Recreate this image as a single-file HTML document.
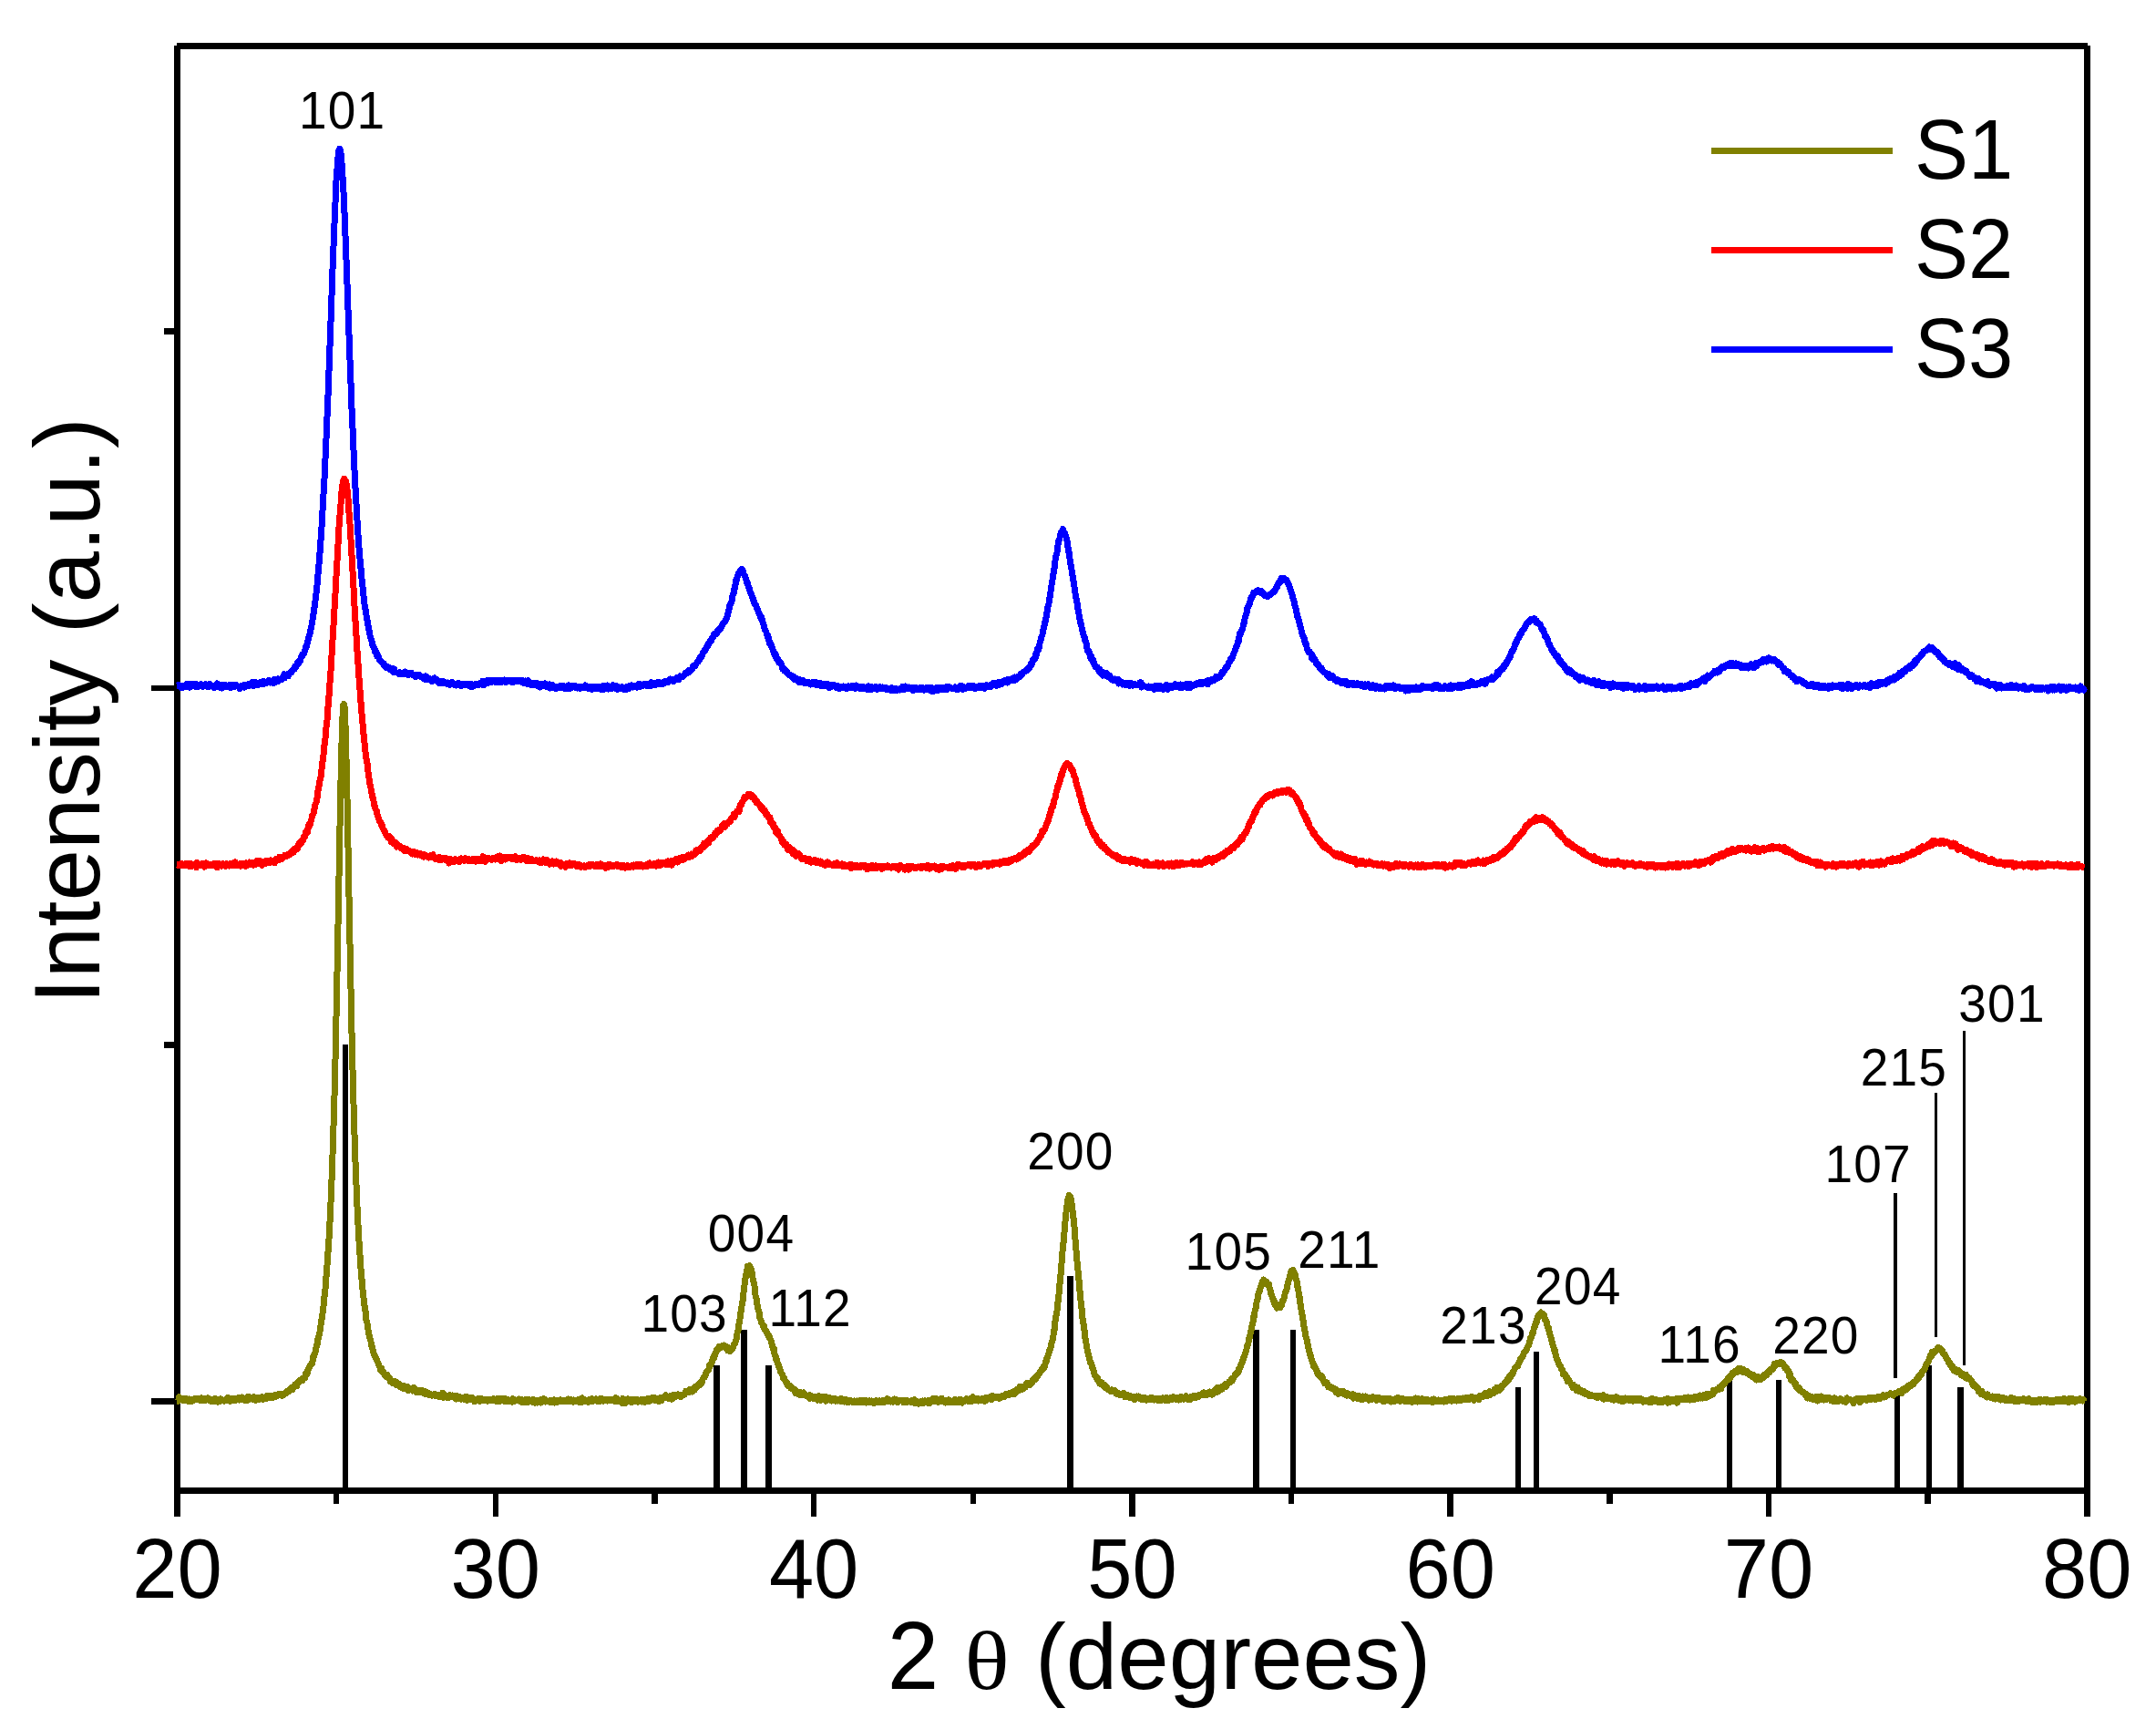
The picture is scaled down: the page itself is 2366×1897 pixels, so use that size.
<!DOCTYPE html>
<html lang="en"><head><meta charset="utf-8"><title>XRD patterns of S1, S2 and S3</title>
<style>html,body{margin:0;padding:0;background:#fff;width:2366px;height:1897px;overflow:hidden}svg{display:block;position:absolute;left:0;top:0}</style></head>
<body>
<svg width="2366" height="1897" viewBox="0 0 2366 1897" role="img" aria-label="XRD patterns of samples S1, S2 and S3 with anatase reference lines">
<rect x="0" y="0" width="2366" height="1897" fill="#ffffff"/>
<g stroke="#000" stroke-width="7" stroke-linecap="butt" shape-rendering="crispEdges">
<line x1="194" y1="50.5" x2="2291" y2="50.5"/>
<line x1="191" y1="1635.5" x2="2294" y2="1635.5"/>
<line x1="194.5" y1="50" x2="194.5" y2="1663.8"/>
<line x1="2290.5" y1="50" x2="2290.5" y2="1663.8"/>
</g>
<g stroke="#000" stroke-width="6.6" stroke-linecap="butt" shape-rendering="crispEdges">
<line x1="369.1" y1="1635.5" x2="369.1" y2="1649.8"/>
<line x1="543.8" y1="1635.5" x2="543.8" y2="1663.8"/>
<line x1="718.5" y1="1635.5" x2="718.5" y2="1649.8"/>
<line x1="893.1" y1="1635.5" x2="893.1" y2="1663.8"/>
<line x1="1067.8" y1="1635.5" x2="1067.8" y2="1649.8"/>
<line x1="1242.4" y1="1635.5" x2="1242.4" y2="1663.8"/>
<line x1="1417.0" y1="1635.5" x2="1417.0" y2="1649.8"/>
<line x1="1591.7" y1="1635.5" x2="1591.7" y2="1663.8"/>
<line x1="1766.3" y1="1635.5" x2="1766.3" y2="1649.8"/>
<line x1="1941.0" y1="1635.5" x2="1941.0" y2="1663.8"/>
<line x1="2115.7" y1="1635.5" x2="2115.7" y2="1649.8"/>
<line x1="166.0" y1="1537.5" x2="194.5" y2="1537.5"/>
<line x1="180.0" y1="1146.2" x2="194.5" y2="1146.2"/>
<line x1="166.0" y1="754.9" x2="194.5" y2="754.9"/>
<line x1="180.0" y1="363.5" x2="194.5" y2="363.5"/>
</g>
<g stroke="#000" stroke-width="6.4" stroke-linecap="butt" shape-rendering="crispEdges">
<line x1="378.9" y1="1635.5" x2="378.9" y2="1145.5"/>
<line x1="786.6" y1="1635.5" x2="786.6" y2="1498.3"/>
<line x1="816.3" y1="1635.5" x2="816.3" y2="1459.1"/>
<line x1="843.5" y1="1635.5" x2="843.5" y2="1498.3"/>
<line x1="1174.3" y1="1635.5" x2="1174.3" y2="1400.3"/>
<line x1="1378.3" y1="1635.5" x2="1378.3" y2="1459.1"/>
<line x1="1419.1" y1="1635.5" x2="1419.1" y2="1459.1"/>
<line x1="1665.8" y1="1635.5" x2="1665.8" y2="1521.8"/>
<line x1="1685.7" y1="1635.5" x2="1685.7" y2="1482.6"/>
<line x1="1897.7" y1="1635.5" x2="1897.7" y2="1514.0"/>
<line x1="1951.8" y1="1635.5" x2="1951.8" y2="1514.0"/>
<line x1="2081.8" y1="1635.5" x2="2081.8" y2="1529.7"/>
<line x1="2116.7" y1="1635.5" x2="2116.7" y2="1498.3"/>
<line x1="2151.3" y1="1635.5" x2="2151.3" y2="1521.8"/>
</g>
<g stroke="#000" stroke-linecap="butt" shape-rendering="crispEdges">
<line x1="2080" y1="1309.2" x2="2080" y2="1511.8" stroke-width="3.8"/>
<line x1="2124.5" y1="1198.5" x2="2124.5" y2="1466.7" stroke-width="3"/>
<line x1="2155.6" y1="1130.5" x2="2155.6" y2="1497.9" stroke-width="3"/>
</g>
<polyline points="194.0,1537.4 195.2,1537.4 195.9,1536.2 196.6,1532.7 197.3,1535.5 198.0,1535.2 198.7,1535.0 199.4,1536.0 200.1,1536.1 200.8,1534.6 201.5,1534.8 202.2,1535.3 202.9,1536.6 203.6,1536.4 204.3,1534.5 205.0,1534.7 205.7,1536.7 206.4,1537.5 207.1,1535.8 207.8,1535.1 208.5,1537.0 209.2,1535.4 209.9,1536.5 210.6,1537.3 211.3,1536.3 212.0,1535.7 212.7,1536.3 213.4,1534.9 214.1,1535.3 214.8,1534.9 215.5,1535.2 216.2,1534.9 216.9,1535.2 217.6,1535.0 218.3,1535.5 219.0,1535.4 219.6,1535.7 220.3,1536.8 221.0,1533.7 221.7,1536.7 222.4,1535.1 223.1,1534.1 223.8,1535.2 224.5,1535.5 225.2,1536.6 225.9,1534.4 226.6,1535.8 227.3,1535.8 228.0,1533.9 228.7,1534.5 229.4,1536.5 230.1,1536.6 230.8,1537.1 231.5,1536.6 232.2,1536.5 232.9,1536.2 233.6,1537.4 234.3,1535.2 235.0,1536.0 235.7,1536.5 236.4,1534.4 237.1,1537.5 237.8,1535.2 238.5,1536.0 239.2,1538.3 239.9,1535.1 240.6,1535.4 241.3,1537.5 242.0,1534.7 242.7,1535.4 243.4,1536.3 244.1,1536.2 244.8,1536.4 245.5,1536.1 246.2,1537.1 246.9,1536.7 247.6,1536.3 248.3,1534.9 249.0,1534.9 249.7,1533.6 250.4,1536.4 251.1,1533.7 251.8,1536.5 252.5,1537.5 253.2,1534.5 253.9,1534.8 254.6,1535.0 255.3,1536.3 256.0,1534.5 256.7,1535.2 257.4,1534.7 258.1,1534.9 258.8,1536.5 259.5,1534.1 260.2,1535.1 260.9,1535.2 261.6,1535.8 262.3,1533.5 263.0,1536.0 263.7,1535.2 264.4,1535.6 265.1,1534.8 265.8,1533.0 266.5,1534.0 267.2,1535.5 267.9,1534.7 268.6,1534.6 269.3,1536.5 269.9,1536.9 270.6,1534.5 271.3,1536.6 272.0,1532.4 272.7,1532.3 273.4,1535.3 274.1,1534.1 274.8,1535.0 275.5,1534.9 276.2,1534.2 276.9,1535.0 277.6,1534.4 278.3,1532.7 279.0,1534.5 279.7,1534.4 280.4,1536.2 281.1,1533.0 281.8,1534.2 282.5,1533.7 283.2,1534.0 283.9,1535.9 284.6,1534.5 285.3,1533.5 286.0,1534.2 286.7,1534.7 287.4,1532.8 288.1,1533.6 288.8,1535.4 289.5,1534.6 290.2,1533.6 290.9,1533.1 291.6,1533.3 292.3,1531.8 293.0,1534.3 293.7,1533.6 294.4,1533.2 295.1,1531.6 295.8,1532.1 296.5,1533.3 297.2,1532.9 297.9,1532.0 298.6,1532.9 299.3,1533.2 300.0,1531.4 300.7,1531.4 301.4,1530.9 302.1,1530.4 302.8,1532.3 303.5,1531.9 304.2,1531.5 304.9,1529.8 305.6,1529.7 306.3,1530.5 307.0,1530.0 307.7,1530.3 308.4,1529.2 309.1,1530.4 309.8,1531.4 310.5,1530.9 311.2,1530.7 311.9,1528.8 312.6,1529.3 313.3,1527.7 314.0,1528.7 314.7,1526.9 315.4,1526.4 316.1,1525.9 316.8,1526.8 317.5,1525.9 318.2,1525.4 318.9,1523.5 319.5,1524.3 320.2,1522.1 320.9,1524.6 321.6,1522.3 322.3,1522.1 323.0,1521.2 323.7,1519.1 324.4,1518.7 325.1,1519.5 325.8,1520.5 326.5,1517.2 327.2,1517.1 327.9,1517.1 328.6,1514.8 329.3,1514.1 330.0,1514.8 330.7,1514.5 331.4,1513.4 332.1,1514.6 332.8,1512.0 333.5,1511.7 334.2,1512.1 334.9,1511.2 335.6,1506.7 336.3,1506.9 337.0,1507.3 337.7,1503.4 338.4,1502.6 339.1,1500.8 339.8,1499.2 340.5,1497.9 341.2,1497.6 341.9,1497.0 342.6,1495.5 343.3,1491.9 344.0,1487.8 344.7,1487.6 345.4,1485.0 346.1,1483.2 346.8,1480.1 347.5,1475.6 348.2,1475.0 348.9,1469.2 349.6,1467.3 350.3,1464.8 351.0,1461.0 351.7,1458.2 352.4,1449.6 353.1,1447.7 353.8,1443.0 354.5,1436.4 355.2,1431.5 355.9,1423.2 356.6,1418.1 357.3,1410.5 358.0,1400.8 358.7,1392.3 359.4,1383.2 360.1,1372.3 360.8,1362.8 361.5,1349.5 362.2,1337.1 362.9,1322.2 363.6,1304.9 364.3,1287.0 365.0,1266.9 365.7,1245.9 366.4,1222.8 367.1,1199.0 367.8,1170.4 368.5,1142.0 369.1,1110.5 369.8,1076.0 370.5,1040.8 371.2,1005.5 371.9,967.8 372.6,927.4 373.3,891.2 374.0,856.5 374.7,826.0 375.4,802.7 376.1,783.4 376.8,773.6 377.5,772.3 378.2,776.9 378.9,792.4 379.6,815.1 380.3,844.6 381.0,876.4 381.7,913.0 382.4,951.0 383.1,988.9 383.8,1025.4 384.5,1060.2 385.2,1093.7 385.9,1128.9 386.6,1158.4 387.3,1185.0 388.0,1211.3 388.7,1235.2 389.4,1255.7 390.1,1277.7 390.8,1295.0 391.5,1312.2 392.2,1328.6 392.9,1341.7 393.6,1355.2 394.3,1366.8 395.0,1377.1 395.7,1386.9 396.4,1397.9 397.1,1404.1 397.8,1413.6 398.5,1418.0 399.2,1426.2 399.9,1431.6 400.6,1436.3 401.3,1439.4 402.0,1448.7 402.7,1450.2 403.4,1454.6 404.1,1459.6 404.8,1463.1 405.5,1466.8 406.2,1469.4 406.9,1471.0 407.6,1476.3 408.3,1477.1 409.0,1480.8 409.7,1483.5 410.4,1486.3 411.1,1486.9 411.8,1488.8 412.5,1490.7 413.2,1490.7 413.9,1493.5 414.6,1494.7 415.3,1496.0 416.0,1498.8 416.7,1499.6 417.4,1502.8 418.1,1503.8 418.8,1501.4 419.4,1504.5 420.1,1504.3 420.8,1506.9 421.5,1507.4 422.2,1509.1 422.9,1509.2 423.6,1510.5 424.3,1510.1 425.0,1508.5 425.7,1510.6 426.4,1511.5 427.1,1512.5 427.8,1512.5 428.5,1515.8 429.2,1514.4 429.9,1516.4 430.6,1515.1 431.3,1517.7 432.0,1515.1 432.7,1517.4 433.4,1515.8 434.1,1518.0 434.8,1519.6 435.5,1516.6 436.2,1517.8 436.9,1519.4 437.6,1519.3 438.3,1518.4 439.0,1521.4 439.7,1520.6 440.4,1522.2 441.1,1521.5 441.8,1520.3 442.5,1521.2 443.2,1523.5 443.9,1520.8 444.6,1522.0 445.3,1523.3 446.0,1523.9 446.7,1523.9 447.4,1521.6 448.1,1525.5 448.8,1523.3 449.5,1523.7 450.2,1523.9 450.9,1523.8 451.6,1523.2 452.3,1524.1 453.0,1526.0 453.7,1523.4 454.4,1522.4 455.1,1525.7 455.8,1525.7 456.5,1526.3 457.2,1527.5 457.9,1525.1 458.6,1526.2 459.3,1526.7 460.0,1527.6 460.7,1527.5 461.4,1525.7 462.1,1525.3 462.8,1526.6 463.5,1525.4 464.2,1528.4 464.9,1526.9 465.6,1527.2 466.3,1526.8 467.0,1529.5 467.7,1528.4 468.4,1527.8 469.0,1529.1 469.7,1528.6 470.4,1529.5 471.1,1530.5 471.8,1529.0 472.5,1530.1 473.2,1530.2 473.9,1531.1 474.6,1530.8 475.3,1530.4 476.0,1529.8 476.7,1531.0 477.4,1529.7 478.1,1531.7 478.8,1531.2 479.5,1531.8 480.2,1530.8 480.9,1530.6 481.6,1530.6 482.3,1532.8 483.0,1531.5 483.7,1531.6 484.4,1530.0 485.1,1531.9 485.8,1528.3 486.5,1533.4 487.2,1531.8 487.9,1532.1 488.6,1530.7 489.3,1531.1 490.0,1533.0 490.7,1532.2 491.4,1532.9 492.1,1533.9 492.8,1533.4 493.5,1530.8 494.2,1531.9 494.9,1531.8 495.6,1532.1 496.3,1531.0 497.0,1531.1 497.7,1532.6 498.4,1532.8 499.1,1534.0 499.8,1533.2 500.5,1535.0 501.2,1531.7 501.9,1532.2 502.6,1533.9 503.3,1533.4 504.0,1532.7 504.7,1534.6 505.4,1535.0 506.1,1535.2 506.8,1533.5 507.5,1534.0 508.2,1534.3 508.9,1534.2 509.6,1535.2 510.3,1533.7 511.0,1534.7 511.7,1532.1 512.4,1535.3 513.1,1536.3 513.8,1534.6 514.5,1535.8 515.2,1533.1 515.9,1534.6 516.6,1533.4 517.3,1535.4 518.0,1535.7 518.7,1533.8 519.3,1534.4 520.0,1534.7 520.7,1537.9 521.4,1535.3 522.1,1535.6 522.8,1535.9 523.5,1535.8 524.2,1535.3 524.9,1534.2 525.6,1534.9 526.3,1537.4 527.0,1536.0 527.7,1535.4 528.4,1534.4 529.1,1535.8 529.8,1536.0 530.5,1535.3 531.2,1536.9 531.9,1535.4 532.6,1535.8 533.3,1536.8 534.0,1536.2 534.7,1537.1 535.4,1535.6 536.1,1535.3 536.8,1536.2 537.5,1535.9 538.2,1536.9 538.9,1536.1 539.6,1535.6 540.3,1536.1 541.0,1536.3 541.7,1534.5 542.4,1535.5 543.1,1535.4 543.8,1537.0 544.5,1535.3 545.2,1537.0 545.9,1534.6 546.6,1536.0 547.3,1537.2 548.0,1535.9 548.7,1537.4 549.4,1534.2 550.1,1536.4 550.8,1536.6 551.5,1536.3 552.2,1534.9 552.9,1537.2 553.6,1534.1 554.3,1537.6 555.0,1536.9 555.7,1537.7 556.4,1536.4 557.1,1535.5 557.8,1536.1 558.5,1536.2 559.2,1537.3 559.9,1536.3 560.6,1537.1 561.3,1537.1 562.0,1538.1 562.7,1534.5 563.4,1536.1 564.1,1537.2 564.8,1537.2 565.5,1535.9 566.2,1536.1 566.9,1536.3 567.6,1536.5 568.3,1535.7 568.9,1535.6 569.6,1535.1 570.3,1535.8 571.0,1537.7 571.7,1535.3 572.4,1537.3 573.1,1538.3 573.8,1536.5 574.5,1538.8 575.2,1536.3 575.9,1538.2 576.6,1536.5 577.3,1535.3 578.0,1537.0 578.7,1538.6 579.4,1536.1 580.1,1537.2 580.8,1535.7 581.5,1535.8 582.2,1537.3 582.9,1536.6 583.6,1537.4 584.3,1538.1 585.0,1535.5 585.7,1536.0 586.4,1536.8 587.1,1539.2 587.8,1536.4 588.5,1536.2 589.2,1537.1 589.9,1538.9 590.6,1536.1 591.3,1536.4 592.0,1536.7 592.7,1537.5 593.4,1539.0 594.1,1535.5 594.8,1535.1 595.5,1537.0 596.2,1537.4 596.9,1534.6 597.6,1536.3 598.3,1538.0 599.0,1536.4 599.7,1537.5 600.4,1537.2 601.1,1537.7 601.8,1537.4 602.5,1537.3 603.2,1538.3 603.9,1536.4 604.6,1537.1 605.3,1538.1 606.0,1536.3 606.7,1536.5 607.4,1536.1 608.1,1535.9 608.8,1539.0 609.5,1537.4 610.2,1538.9 610.9,1537.7 611.6,1537.0 612.3,1536.6 613.0,1537.2 613.7,1536.8 614.4,1537.8 615.1,1536.0 615.8,1537.1 616.5,1537.4 617.2,1536.6 617.9,1536.6 618.6,1537.4 619.2,1537.4 619.9,1536.7 620.6,1536.8 621.3,1536.2 622.0,1537.3 622.7,1536.6 623.4,1535.0 624.1,1536.3 624.8,1537.2 625.5,1536.8 626.2,1535.5 626.9,1537.2 627.6,1537.0 628.3,1537.0 629.0,1538.0 629.7,1536.0 630.4,1537.0 631.1,1536.1 631.8,1537.5 632.5,1537.7 633.2,1537.0 633.9,1537.3 634.6,1535.7 635.3,1537.2 636.0,1535.4 636.7,1538.9 637.4,1537.9 638.1,1535.1 638.8,1533.9 639.5,1538.1 640.2,1535.9 640.9,1537.4 641.6,1535.5 642.3,1536.9 643.0,1536.2 643.7,1537.4 644.4,1536.4 645.1,1538.3 645.8,1535.9 646.5,1538.0 647.2,1536.6 647.9,1537.2 648.6,1534.9 649.3,1534.7 650.0,1537.6 650.7,1535.2 651.4,1536.0 652.1,1536.0 652.8,1535.4 653.5,1536.5 654.2,1534.8 654.9,1535.0 655.6,1537.2 656.3,1535.4 657.0,1537.0 657.7,1536.8 658.4,1537.7 659.1,1536.5 659.8,1534.1 660.5,1535.3 661.2,1535.5 661.9,1537.2 662.6,1536.2 663.3,1535.3 664.0,1536.3 664.7,1535.4 665.4,1536.3 666.1,1535.9 666.8,1536.9 667.5,1536.1 668.2,1536.8 668.8,1535.8 669.5,1536.6 670.2,1535.7 670.9,1536.6 671.6,1536.2 672.3,1535.9 673.0,1535.7 673.7,1535.9 674.4,1536.7 675.1,1533.9 675.8,1537.7 676.5,1534.0 677.2,1536.3 677.9,1536.2 678.6,1537.4 679.3,1536.8 680.0,1536.6 680.7,1536.7 681.4,1537.6 682.1,1539.0 682.8,1537.0 683.5,1534.4 684.2,1536.1 684.9,1536.9 685.6,1539.9 686.3,1535.6 687.0,1536.0 687.7,1537.0 688.4,1536.8 689.1,1535.0 689.8,1537.4 690.5,1535.1 691.2,1536.2 691.9,1537.9 692.6,1535.2 693.3,1536.2 694.0,1538.4 694.7,1536.4 695.4,1535.6 696.1,1536.1 696.8,1537.6 697.5,1535.1 698.2,1536.1 698.9,1535.2 699.6,1535.6 700.3,1538.1 701.0,1536.7 701.7,1536.3 702.4,1537.3 703.1,1536.1 703.8,1535.6 704.5,1538.0 705.2,1537.7 705.9,1535.9 706.6,1537.5 707.3,1538.3 708.0,1537.2 708.7,1537.1 709.4,1535.2 710.1,1536.2 710.8,1534.3 711.5,1537.3 712.2,1535.8 712.9,1537.2 713.6,1534.9 714.3,1536.5 715.0,1533.8 715.7,1534.9 716.4,1535.8 717.1,1535.5 717.8,1535.0 718.4,1533.3 719.1,1536.4 719.8,1535.6 720.5,1536.1 721.2,1536.1 721.9,1534.5 722.6,1535.2 723.3,1537.6 724.0,1533.9 724.7,1535.1 725.4,1534.0 726.1,1536.4 726.8,1534.6 727.5,1533.2 728.2,1533.6 728.9,1532.6 729.6,1531.5 730.3,1530.9 731.0,1532.9 731.7,1532.3 732.4,1533.6 733.1,1532.4 733.8,1533.4 734.5,1534.9 735.2,1531.7 735.9,1531.5 736.6,1533.7 737.3,1535.1 738.0,1531.6 738.7,1530.6 739.4,1532.0 740.1,1531.8 740.8,1532.9 741.5,1530.9 742.2,1531.6 742.9,1531.5 743.6,1530.0 744.3,1529.9 745.0,1531.9 745.7,1531.8 746.4,1530.2 747.1,1532.4 747.8,1531.5 748.5,1530.8 749.2,1530.7 749.9,1530.1 750.6,1530.2 751.3,1530.0 752.0,1528.8 752.7,1526.2 753.4,1527.9 754.1,1526.8 754.8,1526.1 755.5,1527.6 756.2,1524.7 756.9,1527.1 757.6,1525.2 758.3,1524.1 759.0,1524.1 759.7,1527.1 760.4,1525.7 761.1,1523.3 761.8,1524.3 762.5,1524.5 763.2,1521.1 763.9,1521.1 764.6,1521.8 765.3,1520.6 766.0,1519.1 766.7,1520.5 767.4,1518.5 768.1,1518.0 768.7,1518.9 769.4,1516.0 770.1,1517.4 770.8,1513.9 771.5,1512.4 772.2,1511.7 772.9,1511.4 773.6,1510.1 774.3,1508.6 775.0,1505.4 775.7,1504.6 776.4,1504.2 777.1,1503.9 777.8,1503.3 778.5,1497.7 779.2,1498.6 779.9,1496.8 780.6,1495.6 781.3,1494.3 782.0,1491.6 782.7,1489.4 783.4,1490.3 784.1,1488.4 784.8,1485.6 785.5,1484.4 786.2,1482.4 786.9,1480.3 787.6,1481.3 788.3,1478.8 789.0,1477.5 789.7,1477.3 790.4,1479.1 791.1,1477.4 791.8,1477.0 792.5,1476.8 793.2,1477.8 793.9,1477.9 794.6,1476.0 795.3,1477.6 796.0,1477.7 796.7,1479.2 797.4,1479.5 798.1,1477.9 798.8,1481.8 799.5,1481.2 800.2,1479.3 800.9,1482.5 801.6,1481.4 802.3,1481.5 803.0,1480.5 803.7,1479.9 804.4,1478.2 805.1,1475.7 805.8,1475.3 806.5,1474.2 807.2,1471.9 807.9,1470.0 808.6,1466.3 809.3,1460.7 810.0,1460.3 810.7,1454.8 811.4,1450.0 812.1,1446.6 812.8,1440.7 813.5,1437.5 814.2,1431.0 814.9,1428.8 815.6,1421.1 816.3,1415.5 817.0,1410.3 817.7,1403.8 818.3,1400.8 819.0,1396.9 819.7,1394.0 820.4,1389.4 821.1,1390.1 821.8,1390.5 822.5,1388.7 823.2,1390.0 823.9,1392.2 824.6,1393.3 825.3,1396.8 826.0,1401.9 826.7,1405.0 827.4,1407.7 828.1,1411.5 828.8,1420.3 829.5,1422.7 830.2,1424.7 830.9,1430.7 831.6,1435.1 832.3,1438.0 833.0,1439.1 833.7,1446.0 834.4,1447.3 835.1,1448.7 835.8,1451.7 836.5,1452.4 837.2,1453.8 837.9,1456.4 838.6,1454.5 839.3,1458.7 840.0,1459.1 840.7,1460.5 841.4,1461.7 842.1,1463.6 842.8,1464.8 843.5,1465.7 844.2,1465.9 844.9,1468.9 845.6,1469.6 846.3,1471.1 847.0,1474.8 847.7,1477.0 848.4,1480.2 849.1,1479.0 849.8,1484.4 850.5,1486.8 851.2,1488.6 851.9,1492.4 852.6,1492.1 853.3,1495.6 854.0,1496.9 854.7,1499.3 855.4,1500.2 856.1,1502.9 856.8,1505.5 857.5,1506.5 858.2,1508.3 858.9,1508.5 859.6,1512.4 860.3,1511.3 861.0,1513.2 861.7,1515.0 862.4,1515.3 863.1,1517.3 863.8,1517.7 864.5,1520.2 865.2,1519.9 865.9,1520.5 866.6,1520.0 867.3,1522.1 868.0,1523.4 868.6,1523.5 869.3,1522.7 870.0,1523.7 870.7,1524.6 871.4,1525.3 872.1,1524.3 872.8,1528.2 873.5,1526.5 874.2,1527.1 874.9,1526.9 875.6,1527.6 876.3,1530.0 877.0,1527.3 877.7,1528.0 878.4,1527.7 879.1,1528.4 879.8,1530.8 880.5,1528.8 881.2,1529.2 881.9,1528.0 882.6,1529.8 883.3,1530.6 884.0,1530.1 884.7,1530.5 885.4,1532.0 886.1,1532.0 886.8,1531.6 887.5,1531.1 888.2,1530.6 888.9,1534.2 889.6,1531.0 890.3,1533.5 891.0,1532.8 891.7,1532.3 892.4,1534.2 893.1,1532.6 893.8,1534.8 894.5,1532.5 895.2,1534.2 895.9,1535.1 896.6,1532.8 897.3,1536.1 898.0,1534.9 898.7,1531.7 899.4,1535.6 900.1,1536.2 900.8,1533.9 901.5,1534.1 902.2,1534.7 902.9,1532.4 903.6,1534.6 904.3,1535.5 905.0,1534.0 905.7,1535.9 906.4,1537.1 907.1,1532.8 907.8,1533.0 908.5,1534.2 909.2,1535.7 909.9,1535.5 910.6,1534.1 911.3,1533.9 912.0,1534.4 912.7,1537.0 913.4,1534.3 914.1,1534.7 914.8,1536.4 915.5,1535.2 916.2,1534.5 916.9,1537.1 917.6,1536.1 918.2,1535.1 918.9,1535.5 919.6,1537.0 920.3,1535.7 921.0,1536.5 921.7,1537.2 922.4,1537.4 923.1,1534.5 923.8,1536.0 924.5,1536.2 925.2,1536.7 925.9,1537.5 926.6,1537.9 927.3,1536.2 928.0,1535.6 928.7,1537.0 929.4,1536.2 930.1,1538.7 930.8,1537.3 931.5,1537.0 932.2,1538.0 932.9,1536.3 933.6,1536.7 934.3,1536.9 935.0,1537.8 935.7,1538.6 936.4,1538.1 937.1,1538.1 937.8,1537.1 938.5,1537.8 939.2,1537.2 939.9,1538.7 940.6,1536.9 941.3,1537.5 942.0,1537.8 942.7,1538.4 943.4,1536.8 944.1,1537.4 944.8,1536.8 945.5,1536.2 946.2,1538.8 946.9,1538.1 947.6,1536.1 948.3,1536.6 949.0,1538.2 949.7,1537.0 950.4,1536.5 951.1,1539.0 951.8,1537.1 952.5,1537.3 953.2,1538.3 953.9,1537.0 954.6,1537.8 955.3,1537.9 956.0,1538.6 956.7,1537.0 957.4,1539.0 958.1,1538.2 958.8,1539.8 959.5,1538.1 960.2,1537.3 960.9,1537.3 961.6,1536.7 962.3,1537.8 963.0,1537.7 963.7,1538.7 964.4,1537.8 965.1,1536.8 965.8,1538.7 966.5,1537.1 967.2,1537.7 967.9,1538.9 968.5,1538.6 969.2,1536.4 969.9,1537.0 970.6,1538.5 971.3,1538.0 972.0,1537.5 972.7,1537.8 973.4,1534.6 974.1,1536.5 974.8,1535.3 975.5,1536.1 976.2,1536.4 976.9,1537.3 977.6,1538.0 978.3,1537.6 979.0,1537.1 979.7,1536.5 980.4,1538.2 981.1,1537.2 981.8,1535.0 982.5,1536.9 983.2,1537.5 983.9,1536.0 984.6,1537.3 985.3,1538.7 986.0,1536.9 986.7,1537.2 987.4,1537.2 988.1,1536.3 988.8,1536.9 989.5,1536.3 990.2,1537.1 990.9,1536.6 991.6,1538.5 992.3,1537.4 993.0,1538.4 993.7,1536.2 994.4,1537.6 995.1,1538.3 995.8,1538.4 996.5,1537.1 997.2,1537.7 997.9,1538.0 998.6,1537.6 999.3,1537.6 1000.0,1538.6 1000.7,1536.9 1001.4,1536.2 1002.1,1537.7 1002.8,1538.5 1003.5,1535.8 1004.2,1539.7 1004.9,1538.3 1005.6,1538.8 1006.3,1537.3 1007.0,1538.1 1007.7,1540.1 1008.4,1540.1 1009.1,1538.7 1009.8,1537.8 1010.5,1537.9 1011.2,1539.4 1011.9,1537.3 1012.6,1537.0 1013.3,1537.9 1014.0,1539.0 1014.7,1536.9 1015.4,1538.4 1016.1,1538.4 1016.8,1538.1 1017.5,1537.8 1018.1,1538.9 1018.8,1538.5 1019.5,1536.3 1020.2,1539.5 1020.9,1538.2 1021.6,1537.9 1022.3,1537.2 1023.0,1537.1 1023.7,1534.7 1024.4,1537.0 1025.1,1537.8 1025.8,1537.8 1026.5,1536.4 1027.2,1534.5 1027.9,1535.8 1028.6,1536.6 1029.3,1538.3 1030.0,1535.2 1030.7,1537.0 1031.4,1537.6 1032.1,1537.7 1032.8,1537.0 1033.5,1534.2 1034.2,1537.8 1034.9,1537.4 1035.6,1537.9 1036.3,1536.4 1037.0,1536.9 1037.7,1539.0 1038.4,1537.3 1039.1,1537.4 1039.8,1536.7 1040.5,1538.8 1041.2,1535.7 1041.9,1536.8 1042.6,1537.8 1043.3,1537.3 1044.0,1538.2 1044.7,1537.8 1045.4,1538.8 1046.1,1537.1 1046.8,1537.2 1047.5,1537.6 1048.2,1535.5 1048.9,1538.9 1049.6,1536.5 1050.3,1538.7 1051.0,1539.0 1051.7,1538.6 1052.4,1537.7 1053.1,1536.8 1053.8,1535.2 1054.5,1538.0 1055.2,1537.1 1055.9,1539.1 1056.6,1536.9 1057.3,1537.8 1058.0,1536.6 1058.7,1537.4 1059.4,1536.4 1060.1,1536.5 1060.8,1534.6 1061.5,1535.8 1062.2,1536.3 1062.9,1537.7 1063.6,1536.6 1064.3,1534.9 1065.0,1537.9 1065.7,1536.5 1066.4,1537.3 1067.1,1535.1 1067.7,1532.5 1068.4,1535.2 1069.1,1534.9 1069.8,1536.2 1070.5,1534.2 1071.2,1534.9 1071.9,1534.3 1072.6,1535.8 1073.3,1534.6 1074.0,1537.0 1074.7,1536.3 1075.4,1536.3 1076.1,1535.1 1076.8,1535.5 1077.5,1536.1 1078.2,1534.2 1078.9,1536.4 1079.6,1534.9 1080.3,1536.2 1081.0,1537.2 1081.7,1536.4 1082.4,1533.5 1083.1,1535.9 1083.8,1534.2 1084.5,1534.0 1085.2,1534.2 1085.9,1533.1 1086.6,1534.6 1087.3,1533.5 1088.0,1535.4 1088.7,1534.5 1089.4,1531.3 1090.1,1533.0 1090.8,1532.9 1091.5,1533.1 1092.2,1533.1 1092.9,1533.9 1093.6,1533.4 1094.3,1532.3 1095.0,1533.7 1095.7,1534.1 1096.4,1533.0 1097.1,1534.1 1097.8,1533.1 1098.5,1531.9 1099.2,1531.9 1099.9,1532.1 1100.6,1532.5 1101.3,1531.9 1102.0,1532.5 1102.7,1532.4 1103.4,1529.9 1104.1,1529.5 1104.8,1530.4 1105.5,1530.7 1106.2,1530.9 1106.9,1530.4 1107.6,1530.1 1108.3,1528.2 1109.0,1529.4 1109.7,1528.0 1110.4,1528.9 1111.1,1529.1 1111.8,1527.2 1112.5,1527.3 1113.2,1529.9 1113.9,1526.1 1114.6,1526.1 1115.3,1525.1 1116.0,1524.4 1116.7,1526.6 1117.4,1524.5 1118.0,1524.2 1118.7,1523.6 1119.4,1521.1 1120.1,1524.5 1120.8,1522.7 1121.5,1522.9 1122.2,1524.0 1122.9,1522.0 1123.6,1521.9 1124.3,1521.5 1125.0,1522.3 1125.7,1519.0 1126.4,1519.4 1127.1,1517.3 1127.8,1519.1 1128.5,1519.3 1129.2,1517.6 1129.9,1519.7 1130.6,1518.1 1131.3,1518.6 1132.0,1516.1 1132.7,1517.2 1133.4,1514.2 1134.1,1514.5 1134.8,1513.5 1135.5,1512.3 1136.2,1513.8 1136.9,1512.6 1137.6,1509.7 1138.3,1510.4 1139.0,1508.9 1139.7,1508.1 1140.4,1507.6 1141.1,1505.5 1141.8,1505.2 1142.5,1504.3 1143.2,1502.3 1143.9,1501.3 1144.6,1501.5 1145.3,1499.4 1146.0,1500.6 1146.7,1498.9 1147.4,1494.4 1148.1,1493.9 1148.8,1489.7 1149.5,1489.3 1150.2,1487.1 1150.9,1485.1 1151.6,1481.3 1152.3,1481.3 1153.0,1478.5 1153.7,1474.5 1154.4,1472.1 1155.1,1469.8 1155.8,1466.8 1156.5,1459.7 1157.2,1458.5 1157.9,1450.4 1158.6,1446.5 1159.3,1441.7 1160.0,1438.2 1160.7,1431.2 1161.4,1424.9 1162.1,1419.3 1162.8,1410.9 1163.5,1402.8 1164.2,1397.3 1164.9,1387.6 1165.6,1378.4 1166.3,1369.7 1167.0,1363.5 1167.6,1357.2 1168.3,1348.1 1169.0,1339.8 1169.7,1334.1 1170.4,1324.9 1171.1,1321.6 1171.8,1316.3 1172.5,1315.3 1173.2,1311.2 1173.9,1312.7 1174.6,1313.2 1175.3,1315.5 1176.0,1320.0 1176.7,1324.2 1177.4,1331.9 1178.1,1337.0 1178.8,1342.4 1179.5,1354.2 1180.2,1362.4 1180.9,1370.0 1181.6,1379.4 1182.3,1387.1 1183.0,1393.7 1183.7,1400.5 1184.4,1409.3 1185.1,1417.6 1185.8,1425.5 1186.5,1430.3 1187.2,1437.3 1187.9,1445.9 1188.6,1449.3 1189.3,1454.6 1190.0,1459.4 1190.7,1466.9 1191.4,1470.4 1192.1,1474.6 1192.8,1479.2 1193.5,1482.0 1194.2,1485.7 1194.9,1487.8 1195.6,1491.1 1196.3,1493.5 1197.0,1496.0 1197.7,1496.3 1198.4,1499.5 1199.1,1501.3 1199.8,1502.8 1200.5,1505.2 1201.2,1508.7 1201.9,1509.3 1202.6,1509.8 1203.3,1511.3 1204.0,1513.6 1204.7,1512.0 1205.4,1514.7 1206.1,1517.0 1206.8,1518.1 1207.5,1518.0 1208.2,1518.4 1208.9,1516.7 1209.6,1518.5 1210.3,1519.9 1211.0,1521.0 1211.7,1521.6 1212.4,1519.3 1213.1,1521.6 1213.8,1523.0 1214.5,1522.3 1215.2,1523.3 1215.9,1524.5 1216.6,1524.7 1217.3,1524.9 1217.9,1525.8 1218.6,1526.6 1219.3,1525.4 1220.0,1524.8 1220.7,1525.5 1221.4,1526.0 1222.1,1526.7 1222.8,1525.4 1223.5,1526.5 1224.2,1527.2 1224.9,1529.2 1225.6,1528.6 1226.3,1528.1 1227.0,1529.4 1227.7,1528.9 1228.4,1529.2 1229.1,1530.4 1229.8,1529.8 1230.5,1529.8 1231.2,1530.7 1231.9,1529.6 1232.6,1530.4 1233.3,1528.3 1234.0,1530.3 1234.7,1532.6 1235.4,1530.8 1236.1,1531.4 1236.8,1531.1 1237.5,1530.6 1238.2,1532.4 1238.9,1532.0 1239.6,1533.4 1240.3,1531.4 1241.0,1532.5 1241.7,1532.2 1242.4,1532.1 1243.1,1533.9 1243.8,1532.1 1244.5,1532.2 1245.2,1535.6 1245.9,1532.9 1246.6,1532.8 1247.3,1533.6 1248.0,1532.1 1248.7,1533.6 1249.4,1532.0 1250.1,1532.8 1250.8,1532.8 1251.5,1534.9 1252.2,1534.2 1252.9,1535.6 1253.6,1535.5 1254.3,1533.2 1255.0,1534.6 1255.7,1533.7 1256.4,1533.6 1257.1,1535.6 1257.8,1536.0 1258.5,1534.7 1259.2,1535.0 1259.9,1535.0 1260.6,1535.1 1261.3,1535.2 1262.0,1533.9 1262.7,1535.6 1263.4,1534.3 1264.1,1533.8 1264.8,1534.9 1265.5,1535.4 1266.2,1536.0 1266.9,1535.5 1267.5,1535.4 1268.2,1534.4 1268.9,1535.6 1269.6,1535.4 1270.3,1535.4 1271.0,1534.3 1271.7,1536.9 1272.4,1535.9 1273.1,1535.8 1273.8,1535.2 1274.5,1534.8 1275.2,1536.1 1275.9,1533.8 1276.6,1534.7 1277.3,1534.9 1278.0,1535.8 1278.7,1534.9 1279.4,1536.7 1280.1,1533.3 1280.8,1536.8 1281.5,1535.5 1282.2,1536.1 1282.9,1534.5 1283.6,1536.1 1284.3,1534.6 1285.0,1535.1 1285.7,1533.2 1286.4,1535.2 1287.1,1534.7 1287.8,1532.5 1288.5,1534.3 1289.2,1534.0 1289.9,1535.1 1290.6,1533.5 1291.3,1534.3 1292.0,1535.5 1292.7,1533.1 1293.4,1536.0 1294.1,1534.3 1294.8,1533.8 1295.5,1532.6 1296.2,1532.2 1296.9,1535.0 1297.6,1533.6 1298.3,1533.4 1299.0,1535.1 1299.7,1534.7 1300.4,1534.1 1301.1,1532.4 1301.8,1531.8 1302.5,1534.8 1303.2,1533.7 1303.9,1533.4 1304.6,1535.6 1305.3,1533.0 1306.0,1533.7 1306.7,1535.4 1307.4,1533.7 1308.1,1532.3 1308.8,1531.8 1309.5,1533.8 1310.2,1531.1 1310.9,1533.1 1311.6,1533.8 1312.3,1531.8 1313.0,1532.6 1313.7,1531.6 1314.4,1532.8 1315.1,1531.5 1315.8,1530.3 1316.5,1531.2 1317.2,1530.8 1317.8,1529.9 1318.5,1530.1 1319.2,1528.9 1319.9,1529.2 1320.6,1530.6 1321.3,1527.9 1322.0,1530.0 1322.7,1529.6 1323.4,1528.8 1324.1,1530.8 1324.8,1529.9 1325.5,1528.5 1326.2,1529.2 1326.9,1529.8 1327.6,1527.0 1328.3,1528.7 1329.0,1528.0 1329.7,1528.5 1330.4,1530.1 1331.1,1527.0 1331.8,1527.0 1332.5,1525.9 1333.2,1527.1 1333.9,1527.2 1334.6,1523.6 1335.3,1527.5 1336.0,1527.2 1336.7,1522.4 1337.4,1523.2 1338.1,1525.0 1338.8,1524.2 1339.5,1524.9 1340.2,1523.0 1340.9,1524.3 1341.6,1521.0 1342.3,1522.5 1343.0,1521.1 1343.7,1520.6 1344.4,1518.8 1345.1,1519.7 1345.8,1521.1 1346.5,1518.4 1347.2,1518.3 1347.9,1518.1 1348.6,1516.3 1349.3,1517.0 1350.0,1516.6 1350.7,1515.1 1351.4,1512.6 1352.1,1515.4 1352.8,1513.1 1353.5,1512.2 1354.2,1511.1 1354.9,1509.7 1355.6,1507.6 1356.3,1508.3 1357.0,1507.4 1357.7,1507.1 1358.4,1506.5 1359.1,1502.8 1359.8,1503.9 1360.5,1500.8 1361.2,1499.9 1361.9,1496.6 1362.6,1496.4 1363.3,1493.3 1364.0,1493.2 1364.7,1489.2 1365.4,1488.6 1366.1,1486.0 1366.8,1484.6 1367.4,1482.2 1368.1,1479.7 1368.8,1476.5 1369.5,1475.3 1370.2,1472.2 1370.9,1468.0 1371.6,1466.7 1372.3,1462.1 1373.0,1459.8 1373.7,1456.3 1374.4,1453.0 1375.1,1450.5 1375.8,1444.3 1376.5,1444.0 1377.2,1437.2 1377.9,1436.9 1378.6,1432.6 1379.3,1427.0 1380.0,1425.5 1380.7,1421.6 1381.4,1417.5 1382.1,1417.2 1382.8,1414.5 1383.5,1411.4 1384.2,1410.8 1384.9,1407.5 1385.6,1405.8 1386.3,1406.6 1387.0,1404.0 1387.7,1405.5 1388.4,1406.1 1389.1,1405.8 1389.8,1406.7 1390.5,1408.3 1391.2,1409.6 1391.9,1410.2 1392.6,1409.0 1393.3,1414.2 1394.0,1415.2 1394.7,1419.8 1395.4,1420.3 1396.1,1422.9 1396.8,1425.3 1397.5,1427.4 1398.2,1426.9 1398.9,1431.6 1399.6,1431.5 1400.3,1432.2 1401.0,1431.4 1401.7,1435.1 1402.4,1434.0 1403.1,1434.6 1403.8,1432.9 1404.5,1434.8 1405.2,1433.7 1405.9,1431.1 1406.6,1432.1 1407.3,1427.4 1408.0,1427.7 1408.7,1425.6 1409.4,1423.5 1410.1,1419.6 1410.8,1417.5 1411.5,1416.3 1412.2,1413.7 1412.9,1409.8 1413.6,1406.9 1414.3,1404.0 1415.0,1403.6 1415.7,1399.8 1416.4,1397.6 1417.0,1394.7 1417.7,1393.9 1418.4,1394.2 1419.1,1393.4 1419.8,1395.8 1420.5,1397.3 1421.2,1398.4 1421.9,1401.5 1422.6,1404.8 1423.3,1406.4 1424.0,1412.7 1424.7,1413.1 1425.4,1422.3 1426.1,1423.1 1426.8,1429.1 1427.5,1433.2 1428.2,1438.4 1428.9,1441.6 1429.6,1447.3 1430.3,1449.3 1431.0,1455.8 1431.7,1458.6 1432.4,1463.0 1433.1,1467.3 1433.8,1468.3 1434.5,1472.2 1435.2,1475.1 1435.9,1478.7 1436.6,1481.8 1437.3,1485.0 1438.0,1486.9 1438.7,1488.8 1439.4,1491.8 1440.1,1494.3 1440.8,1496.2 1441.5,1499.2 1442.2,1498.0 1442.9,1500.5 1443.6,1500.3 1444.3,1502.3 1445.0,1505.0 1445.7,1506.9 1446.4,1506.1 1447.1,1508.2 1447.8,1508.8 1448.5,1510.2 1449.2,1510.8 1449.9,1510.9 1450.6,1509.8 1451.3,1511.5 1452.0,1514.3 1452.7,1514.6 1453.4,1517.6 1454.1,1516.3 1454.8,1517.9 1455.5,1516.5 1456.2,1517.0 1456.9,1519.4 1457.6,1521.6 1458.3,1521.0 1459.0,1520.8 1459.7,1522.2 1460.4,1523.0 1461.1,1523.3 1461.8,1523.4 1462.5,1522.7 1463.2,1523.0 1463.9,1524.1 1464.6,1524.8 1465.3,1523.9 1466.0,1527.3 1466.7,1526.5 1467.3,1525.6 1468.0,1527.2 1468.7,1529.2 1469.4,1527.2 1470.1,1527.4 1470.8,1528.4 1471.5,1526.2 1472.2,1527.2 1472.9,1527.2 1473.6,1529.1 1474.3,1526.7 1475.0,1529.1 1475.7,1528.4 1476.4,1528.9 1477.1,1528.8 1477.8,1531.2 1478.5,1528.9 1479.2,1528.8 1479.9,1530.7 1480.6,1530.0 1481.3,1531.3 1482.0,1531.0 1482.7,1531.3 1483.4,1531.6 1484.1,1529.9 1484.8,1529.8 1485.5,1534.2 1486.2,1531.0 1486.9,1533.0 1487.6,1531.4 1488.3,1532.6 1489.0,1532.5 1489.7,1534.4 1490.4,1532.8 1491.1,1531.4 1491.8,1531.6 1492.5,1533.5 1493.2,1534.2 1493.9,1535.5 1494.6,1535.7 1495.3,1532.0 1496.0,1533.5 1496.7,1532.4 1497.4,1534.1 1498.1,1534.7 1498.8,1532.0 1499.5,1534.9 1500.2,1534.9 1500.9,1533.9 1501.6,1533.6 1502.3,1536.1 1503.0,1534.2 1503.7,1533.3 1504.4,1534.6 1505.1,1535.7 1505.8,1535.4 1506.5,1532.7 1507.2,1533.4 1507.9,1534.5 1508.6,1535.2 1509.3,1535.3 1510.0,1533.9 1510.7,1536.2 1511.4,1535.8 1512.1,1533.7 1512.8,1534.4 1513.5,1535.4 1514.2,1533.9 1514.9,1535.6 1515.6,1535.7 1516.3,1535.1 1516.9,1536.2 1517.6,1537.4 1518.3,1534.8 1519.0,1536.0 1519.7,1535.0 1520.4,1537.1 1521.1,1536.8 1521.8,1535.5 1522.5,1534.9 1523.2,1536.4 1523.9,1535.5 1524.6,1534.4 1525.3,1534.6 1526.0,1535.5 1526.7,1538.0 1527.4,1536.9 1528.1,1537.3 1528.8,1536.9 1529.5,1537.4 1530.2,1537.5 1530.9,1534.8 1531.6,1536.7 1532.3,1536.7 1533.0,1536.6 1533.7,1536.6 1534.4,1533.5 1535.1,1536.4 1535.8,1534.8 1536.5,1537.3 1537.2,1535.7 1537.9,1536.0 1538.6,1536.3 1539.3,1534.2 1540.0,1536.2 1540.7,1535.1 1541.4,1537.4 1542.1,1535.9 1542.8,1535.3 1543.5,1537.8 1544.2,1536.2 1544.9,1535.5 1545.6,1536.4 1546.3,1536.4 1547.0,1536.8 1547.7,1535.5 1548.4,1537.7 1549.1,1536.9 1549.8,1538.3 1550.5,1537.2 1551.2,1535.6 1551.9,1537.7 1552.6,1536.3 1553.3,1536.7 1554.0,1534.0 1554.7,1535.3 1555.4,1538.0 1556.1,1537.7 1556.8,1534.7 1557.5,1536.9 1558.2,1536.9 1558.9,1537.8 1559.6,1535.3 1560.3,1534.7 1561.0,1536.8 1561.7,1535.8 1562.4,1535.9 1563.1,1535.6 1563.8,1537.8 1564.5,1535.6 1565.2,1537.6 1565.9,1537.2 1566.6,1535.9 1567.2,1537.7 1567.9,1538.0 1568.6,1537.1 1569.3,1536.5 1570.0,1537.5 1570.7,1536.0 1571.4,1537.3 1572.1,1538.5 1572.8,1535.5 1573.5,1535.0 1574.2,1537.7 1574.9,1536.1 1575.6,1536.5 1576.3,1537.2 1577.0,1536.4 1577.7,1537.2 1578.4,1536.0 1579.1,1536.5 1579.8,1536.9 1580.5,1537.6 1581.2,1536.5 1581.9,1537.2 1582.6,1537.5 1583.3,1537.3 1584.0,1536.5 1584.7,1537.9 1585.4,1535.7 1586.1,1537.5 1586.8,1537.3 1587.5,1537.1 1588.2,1535.6 1588.9,1537.0 1589.6,1536.4 1590.3,1534.7 1591.0,1535.5 1591.7,1534.4 1592.4,1536.1 1593.1,1537.1 1593.8,1536.6 1594.5,1534.6 1595.2,1534.6 1595.9,1535.5 1596.6,1535.5 1597.3,1536.5 1598.0,1535.4 1598.7,1536.9 1599.4,1535.2 1600.1,1536.8 1600.8,1534.2 1601.5,1535.1 1602.2,1535.8 1602.9,1536.5 1603.6,1536.2 1604.3,1534.7 1605.0,1534.1 1605.7,1535.4 1606.4,1535.3 1607.1,1534.8 1607.8,1535.1 1608.5,1533.6 1609.2,1535.4 1609.9,1535.8 1610.6,1533.7 1611.3,1533.7 1612.0,1535.7 1612.7,1535.5 1613.4,1533.5 1614.1,1533.5 1614.8,1532.3 1615.5,1534.6 1616.2,1534.3 1616.8,1534.1 1617.5,1536.4 1618.2,1533.7 1618.9,1533.7 1619.6,1534.0 1620.3,1533.5 1621.0,1534.7 1621.7,1533.2 1622.4,1533.3 1623.1,1535.4 1623.8,1532.2 1624.5,1531.3 1625.2,1532.5 1625.9,1531.5 1626.6,1531.2 1627.3,1531.8 1628.0,1532.2 1628.7,1529.5 1629.4,1530.6 1630.1,1528.4 1630.8,1531.3 1631.5,1529.0 1632.2,1530.5 1632.9,1531.4 1633.6,1530.6 1634.3,1529.4 1635.0,1526.6 1635.7,1530.4 1636.4,1527.6 1637.1,1528.6 1637.8,1526.9 1638.5,1526.9 1639.2,1528.5 1639.9,1524.7 1640.6,1524.8 1641.3,1525.4 1642.0,1526.4 1642.7,1522.2 1643.4,1525.7 1644.1,1523.5 1644.8,1524.2 1645.5,1525.7 1646.2,1523.0 1646.9,1523.0 1647.6,1522.8 1648.3,1520.4 1649.0,1520.3 1649.7,1519.3 1650.4,1519.0 1651.1,1517.8 1651.8,1516.8 1652.5,1516.0 1653.2,1516.6 1653.9,1513.6 1654.6,1514.3 1655.3,1514.7 1656.0,1510.9 1656.7,1509.6 1657.4,1511.1 1658.1,1508.6 1658.8,1507.6 1659.5,1507.9 1660.2,1506.5 1660.9,1504.3 1661.6,1503.5 1662.3,1501.1 1663.0,1500.9 1663.7,1500.2 1664.4,1499.7 1665.1,1498.5 1665.8,1498.5 1666.5,1495.4 1667.1,1495.3 1667.8,1493.4 1668.5,1490.9 1669.2,1491.0 1669.9,1489.9 1670.6,1489.0 1671.3,1487.6 1672.0,1486.0 1672.7,1483.7 1673.4,1483.0 1674.1,1482.3 1674.8,1481.3 1675.5,1480.0 1676.2,1478.0 1676.9,1476.7 1677.6,1475.9 1678.3,1472.9 1679.0,1470.3 1679.7,1467.4 1680.4,1467.0 1681.1,1465.6 1681.8,1462.5 1682.5,1462.3 1683.2,1457.7 1683.9,1456.1 1684.6,1454.4 1685.3,1451.0 1686.0,1451.4 1686.7,1447.7 1687.4,1445.6 1688.1,1443.4 1688.8,1444.9 1689.5,1444.2 1690.2,1441.0 1690.9,1440.0 1691.6,1440.8 1692.3,1441.4 1693.0,1441.2 1693.7,1443.0 1694.4,1442.4 1695.1,1447.1 1695.8,1446.9 1696.5,1449.4 1697.2,1450.0 1697.9,1453.7 1698.6,1456.8 1699.3,1456.8 1700.0,1460.3 1700.7,1463.8 1701.4,1465.9 1702.1,1467.3 1702.8,1470.3 1703.5,1474.1 1704.2,1476.4 1704.9,1477.9 1705.6,1481.4 1706.3,1481.0 1707.0,1485.8 1707.7,1488.9 1708.4,1491.0 1709.1,1491.6 1709.8,1494.3 1710.5,1496.1 1711.2,1497.5 1711.9,1498.4 1712.6,1499.4 1713.3,1501.8 1714.0,1502.5 1714.7,1502.9 1715.4,1507.7 1716.1,1506.1 1716.7,1508.0 1717.4,1509.1 1718.1,1509.0 1718.8,1512.1 1719.5,1510.9 1720.2,1515.5 1720.9,1513.0 1721.6,1514.5 1722.3,1515.9 1723.0,1516.7 1723.7,1517.6 1724.4,1519.5 1725.1,1520.4 1725.8,1522.2 1726.5,1519.2 1727.2,1522.1 1727.9,1522.3 1728.6,1521.8 1729.3,1521.3 1730.0,1525.7 1730.7,1524.9 1731.4,1522.2 1732.1,1526.1 1732.8,1525.4 1733.5,1525.6 1734.2,1526.6 1734.9,1525.5 1735.6,1526.4 1736.3,1528.0 1737.0,1526.1 1737.7,1526.2 1738.4,1526.3 1739.1,1529.2 1739.8,1527.6 1740.5,1528.7 1741.2,1528.8 1741.9,1530.2 1742.6,1530.2 1743.3,1529.2 1744.0,1531.8 1744.7,1531.0 1745.4,1531.1 1746.1,1530.4 1746.8,1530.7 1747.5,1530.9 1748.2,1531.4 1748.9,1532.0 1749.6,1532.1 1750.3,1531.5 1751.0,1531.8 1751.7,1532.8 1752.4,1533.5 1753.1,1533.7 1753.8,1532.4 1754.5,1531.2 1755.2,1532.8 1755.9,1532.9 1756.6,1532.9 1757.3,1533.5 1758.0,1532.5 1758.7,1533.2 1759.4,1530.7 1760.1,1535.1 1760.8,1533.4 1761.5,1533.1 1762.2,1534.1 1762.9,1533.4 1763.6,1532.9 1764.3,1534.7 1765.0,1534.0 1765.7,1533.3 1766.3,1534.8 1767.0,1534.7 1767.7,1534.7 1768.4,1534.0 1769.1,1535.6 1769.8,1533.5 1770.5,1535.4 1771.2,1536.2 1771.9,1533.7 1772.6,1534.9 1773.3,1532.9 1774.0,1534.8 1774.7,1533.0 1775.4,1533.5 1776.1,1535.2 1776.8,1536.2 1777.5,1535.6 1778.2,1534.9 1778.9,1534.4 1779.6,1535.3 1780.3,1537.9 1781.0,1537.0 1781.7,1534.1 1782.4,1534.8 1783.1,1534.1 1783.8,1536.3 1784.5,1535.5 1785.2,1534.2 1785.9,1535.6 1786.6,1535.3 1787.3,1534.7 1788.0,1535.5 1788.7,1536.8 1789.4,1534.8 1790.1,1535.4 1790.8,1534.2 1791.5,1535.3 1792.2,1537.1 1792.9,1536.2 1793.6,1534.8 1794.3,1534.9 1795.0,1536.8 1795.7,1535.3 1796.4,1534.9 1797.1,1536.7 1797.8,1535.1 1798.5,1534.8 1799.2,1536.1 1799.9,1534.3 1800.6,1535.3 1801.3,1535.1 1802.0,1536.1 1802.7,1536.0 1803.4,1538.1 1804.1,1537.0 1804.8,1536.4 1805.5,1537.0 1806.2,1536.2 1806.9,1536.8 1807.6,1537.2 1808.3,1537.0 1809.0,1538.1 1809.7,1537.2 1810.4,1535.8 1811.1,1536.8 1811.8,1535.3 1812.5,1538.7 1813.2,1534.5 1813.9,1536.4 1814.6,1537.0 1815.3,1535.5 1816.0,1536.1 1816.6,1537.6 1817.3,1535.3 1818.0,1537.5 1818.7,1536.3 1819.4,1536.2 1820.1,1538.7 1820.8,1537.5 1821.5,1537.1 1822.2,1536.4 1822.9,1536.8 1823.6,1536.5 1824.3,1538.6 1825.0,1536.9 1825.7,1535.9 1826.4,1536.1 1827.1,1537.1 1827.8,1535.5 1828.5,1535.9 1829.2,1535.0 1829.9,1534.3 1830.6,1539.2 1831.3,1536.6 1832.0,1538.7 1832.7,1537.5 1833.4,1537.2 1834.1,1535.7 1834.8,1536.8 1835.5,1537.0 1836.2,1535.8 1836.9,1537.5 1837.6,1537.9 1838.3,1537.0 1839.0,1536.7 1839.7,1534.5 1840.4,1539.1 1841.1,1536.9 1841.8,1534.7 1842.5,1534.6 1843.2,1535.0 1843.9,1534.6 1844.6,1535.6 1845.3,1534.6 1846.0,1535.6 1846.7,1534.9 1847.4,1535.0 1848.1,1534.0 1848.8,1535.4 1849.5,1535.4 1850.2,1534.2 1850.9,1533.3 1851.6,1535.0 1852.3,1533.0 1853.0,1533.9 1853.7,1535.2 1854.4,1535.9 1855.1,1534.2 1855.8,1534.8 1856.5,1535.7 1857.2,1533.1 1857.9,1533.6 1858.6,1534.3 1859.3,1535.3 1860.0,1532.5 1860.7,1532.4 1861.4,1534.6 1862.1,1534.8 1862.8,1532.7 1863.5,1533.4 1864.2,1534.2 1864.9,1532.9 1865.6,1531.0 1866.2,1533.2 1866.9,1533.9 1867.6,1531.4 1868.3,1534.0 1869.0,1532.1 1869.7,1530.4 1870.4,1532.4 1871.1,1530.3 1871.8,1533.2 1872.5,1532.0 1873.2,1533.1 1873.9,1529.2 1874.6,1530.8 1875.3,1531.8 1876.0,1531.2 1876.7,1530.3 1877.4,1529.6 1878.1,1529.5 1878.8,1529.5 1879.5,1529.9 1880.2,1525.7 1880.9,1526.0 1881.6,1526.0 1882.3,1526.3 1883.0,1526.0 1883.7,1524.7 1884.4,1524.5 1885.1,1524.9 1885.8,1524.8 1886.5,1522.1 1887.2,1522.1 1887.9,1521.8 1888.6,1523.8 1889.3,1519.8 1890.0,1520.2 1890.7,1519.2 1891.4,1518.1 1892.1,1518.8 1892.8,1517.0 1893.5,1515.8 1894.2,1515.7 1894.9,1515.2 1895.6,1513.4 1896.3,1512.5 1897.0,1513.7 1897.7,1511.1 1898.4,1512.0 1899.1,1510.1 1899.8,1508.6 1900.5,1507.5 1901.2,1506.2 1901.9,1508.1 1902.6,1507.4 1903.3,1505.6 1904.0,1504.3 1904.7,1504.4 1905.4,1504.7 1906.1,1505.5 1906.8,1503.1 1907.5,1501.8 1908.2,1503.6 1908.9,1502.9 1909.6,1502.4 1910.3,1501.3 1911.0,1504.0 1911.7,1505.1 1912.4,1502.7 1913.1,1502.5 1913.8,1503.8 1914.5,1504.4 1915.2,1505.6 1915.9,1505.6 1916.5,1504.1 1917.2,1506.6 1917.9,1507.1 1918.6,1506.7 1919.3,1508.0 1920.0,1506.7 1920.7,1508.2 1921.4,1507.6 1922.1,1509.4 1922.8,1510.6 1923.5,1508.1 1924.2,1510.5 1924.9,1511.6 1925.6,1511.3 1926.3,1513.0 1927.0,1511.5 1927.7,1514.0 1928.4,1511.9 1929.1,1510.6 1929.8,1511.8 1930.5,1511.3 1931.2,1513.2 1931.9,1513.6 1932.6,1513.5 1933.3,1512.3 1934.0,1511.1 1934.7,1510.4 1935.4,1509.4 1936.1,1511.0 1936.8,1508.4 1937.5,1509.0 1938.2,1508.9 1938.9,1508.5 1939.6,1505.9 1940.3,1505.3 1941.0,1504.6 1941.7,1506.0 1942.4,1503.0 1943.1,1502.3 1943.8,1503.0 1944.5,1502.5 1945.2,1502.6 1945.9,1499.7 1946.6,1499.8 1947.3,1496.2 1948.0,1498.0 1948.7,1497.6 1949.4,1497.1 1950.1,1495.1 1950.8,1496.8 1951.5,1496.7 1952.2,1494.9 1952.9,1495.0 1953.6,1494.7 1954.3,1495.1 1955.0,1495.8 1955.7,1495.0 1956.4,1495.5 1957.1,1497.5 1957.8,1498.1 1958.5,1500.6 1959.2,1500.3 1959.9,1500.6 1960.6,1500.9 1961.3,1503.6 1962.0,1504.0 1962.7,1504.4 1963.4,1509.5 1964.1,1506.6 1964.8,1511.7 1965.5,1514.4 1966.1,1512.4 1966.8,1512.9 1967.5,1515.3 1968.2,1514.7 1968.9,1516.9 1969.6,1518.6 1970.3,1517.5 1971.0,1521.5 1971.7,1520.9 1972.4,1522.1 1973.1,1524.1 1973.8,1522.1 1974.5,1523.0 1975.2,1525.5 1975.9,1526.3 1976.6,1526.4 1977.3,1527.2 1978.0,1527.7 1978.7,1527.5 1979.4,1527.7 1980.1,1528.8 1980.8,1530.2 1981.5,1530.9 1982.2,1529.5 1982.9,1533.0 1983.6,1534.0 1984.3,1532.0 1985.0,1531.1 1985.7,1532.0 1986.4,1533.2 1987.1,1532.5 1987.8,1534.8 1988.5,1532.6 1989.2,1534.0 1989.9,1533.6 1990.6,1535.6 1991.3,1533.8 1992.0,1533.9 1992.7,1532.6 1993.4,1533.3 1994.1,1532.2 1994.8,1537.1 1995.5,1533.8 1996.2,1533.5 1996.9,1533.8 1997.6,1534.2 1998.3,1534.4 1999.0,1532.0 1999.7,1535.3 2000.4,1534.0 2001.1,1533.9 2001.8,1536.0 2002.5,1534.4 2003.2,1533.4 2003.9,1533.4 2004.6,1535.3 2005.3,1534.6 2006.0,1534.8 2006.7,1533.4 2007.4,1535.0 2008.1,1534.3 2008.8,1534.2 2009.5,1536.5 2010.2,1535.5 2010.9,1535.0 2011.6,1536.4 2012.3,1537.4 2013.0,1533.9 2013.7,1536.6 2014.4,1535.9 2015.1,1535.6 2015.8,1537.3 2016.4,1536.7 2017.1,1535.4 2017.8,1537.3 2018.5,1535.8 2019.2,1536.1 2019.9,1534.7 2020.6,1536.2 2021.3,1536.9 2022.0,1535.9 2022.7,1536.4 2023.4,1537.7 2024.1,1536.2 2024.8,1535.8 2025.5,1538.3 2026.2,1535.7 2026.9,1533.9 2027.6,1535.1 2028.3,1536.1 2029.0,1535.1 2029.7,1535.1 2030.4,1535.8 2031.1,1536.1 2031.8,1536.0 2032.5,1536.2 2033.2,1537.3 2033.9,1539.6 2034.6,1537.3 2035.3,1536.8 2036.0,1535.3 2036.7,1536.1 2037.4,1534.8 2038.1,1535.9 2038.8,1534.7 2039.5,1537.0 2040.2,1538.0 2040.9,1536.7 2041.6,1538.5 2042.3,1534.4 2043.0,1536.4 2043.7,1535.3 2044.4,1535.5 2045.1,1534.1 2045.8,1535.1 2046.5,1534.9 2047.2,1534.2 2047.9,1536.1 2048.6,1535.6 2049.3,1536.0 2050.0,1534.1 2050.7,1533.9 2051.4,1533.4 2052.1,1535.5 2052.8,1535.6 2053.5,1534.5 2054.2,1533.7 2054.9,1534.6 2055.6,1535.0 2056.3,1535.0 2057.0,1534.1 2057.7,1535.5 2058.4,1535.6 2059.1,1533.2 2059.8,1534.4 2060.5,1534.0 2061.2,1532.5 2061.9,1533.1 2062.6,1533.8 2063.3,1534.6 2064.0,1532.4 2064.7,1532.6 2065.4,1532.6 2066.0,1532.1 2066.7,1530.8 2067.4,1533.0 2068.1,1531.7 2068.8,1532.2 2069.5,1532.3 2070.2,1530.9 2070.9,1530.1 2071.6,1530.2 2072.3,1530.2 2073.0,1529.7 2073.7,1530.0 2074.4,1528.7 2075.1,1529.5 2075.8,1529.2 2076.5,1529.9 2077.2,1529.9 2077.9,1531.1 2078.6,1530.3 2079.3,1529.6 2080.0,1528.6 2080.7,1528.5 2081.4,1528.6 2082.1,1527.8 2082.8,1527.8 2083.5,1526.6 2084.2,1527.7 2084.9,1526.1 2085.6,1526.2 2086.3,1525.9 2087.0,1528.8 2087.7,1526.0 2088.4,1526.5 2089.1,1523.8 2089.8,1525.4 2090.5,1524.1 2091.2,1525.0 2091.9,1523.1 2092.6,1521.9 2093.3,1523.4 2094.0,1522.2 2094.7,1520.3 2095.4,1521.0 2096.1,1519.6 2096.8,1520.8 2097.5,1519.6 2098.2,1519.3 2098.9,1517.3 2099.6,1519.1 2100.3,1516.4 2101.0,1516.7 2101.7,1515.5 2102.4,1515.1 2103.1,1513.0 2103.8,1513.6 2104.5,1513.2 2105.2,1510.6 2105.9,1512.1 2106.6,1509.1 2107.3,1508.6 2108.0,1507.5 2108.7,1508.3 2109.4,1505.4 2110.1,1504.4 2110.8,1504.0 2111.5,1502.6 2112.2,1502.4 2112.9,1499.4 2113.6,1497.9 2114.3,1496.4 2115.0,1495.0 2115.6,1495.3 2116.3,1493.7 2117.0,1491.5 2117.7,1490.4 2118.4,1486.9 2119.1,1488.8 2119.8,1487.2 2120.5,1483.3 2121.2,1483.9 2121.9,1483.4 2122.6,1484.1 2123.3,1482.1 2124.0,1482.5 2124.7,1482.3 2125.4,1481.0 2126.1,1478.9 2126.8,1478.4 2127.5,1479.6 2128.2,1480.9 2128.9,1480.9 2129.6,1479.5 2130.3,1482.3 2131.0,1481.3 2131.7,1482.7 2132.4,1485.1 2133.1,1485.2 2133.8,1485.7 2134.5,1486.6 2135.2,1488.7 2135.9,1490.1 2136.6,1490.9 2137.3,1491.5 2138.0,1494.0 2138.7,1495.6 2139.4,1494.6 2140.1,1497.5 2140.8,1497.2 2141.5,1498.5 2142.2,1500.6 2142.9,1499.1 2143.6,1501.0 2144.3,1503.6 2145.0,1504.0 2145.7,1502.4 2146.4,1502.4 2147.1,1505.3 2147.8,1504.7 2148.5,1505.2 2149.2,1503.6 2149.9,1505.8 2150.6,1504.4 2151.3,1506.1 2152.0,1508.6 2152.7,1508.4 2153.4,1509.1 2154.1,1507.8 2154.8,1508.5 2155.5,1508.1 2156.2,1511.1 2156.9,1508.9 2157.6,1508.5 2158.3,1510.1 2159.0,1512.3 2159.7,1511.3 2160.4,1512.8 2161.1,1511.8 2161.8,1513.4 2162.5,1513.5 2163.2,1514.6 2163.9,1516.4 2164.6,1518.1 2165.3,1520.4 2165.9,1519.8 2166.6,1518.9 2167.3,1519.7 2168.0,1520.0 2168.7,1522.3 2169.4,1522.1 2170.1,1523.6 2170.8,1523.3 2171.5,1526.8 2172.2,1525.4 2172.9,1527.1 2173.6,1526.5 2174.3,1529.8 2175.0,1526.3 2175.7,1528.9 2176.4,1530.3 2177.1,1529.2 2177.8,1530.7 2178.5,1530.0 2179.2,1531.7 2179.9,1530.8 2180.6,1533.0 2181.3,1529.8 2182.0,1532.6 2182.7,1531.6 2183.4,1531.9 2184.1,1533.2 2184.8,1532.1 2185.5,1532.3 2186.2,1533.8 2186.9,1532.1 2187.6,1533.2 2188.3,1534.7 2189.0,1532.8 2189.7,1535.0 2190.4,1532.7 2191.1,1534.1 2191.8,1534.0 2192.5,1532.5 2193.2,1534.9 2193.9,1532.7 2194.6,1535.7 2195.3,1536.0 2196.0,1533.8 2196.7,1534.7 2197.4,1534.5 2198.1,1533.3 2198.8,1534.0 2199.5,1535.0 2200.2,1535.1 2200.9,1536.6 2201.6,1534.8 2202.3,1534.8 2203.0,1536.2 2203.7,1536.4 2204.4,1535.3 2205.1,1535.9 2205.8,1535.0 2206.5,1535.5 2207.2,1533.4 2207.9,1533.8 2208.6,1536.6 2209.3,1535.0 2210.0,1534.5 2210.7,1536.2 2211.4,1537.9 2212.1,1536.8 2212.8,1536.2 2213.5,1535.8 2214.2,1537.8 2214.9,1537.7 2215.5,1536.2 2216.2,1535.6 2216.9,1536.2 2217.6,1536.7 2218.3,1536.0 2219.0,1535.7 2219.7,1535.6 2220.4,1534.8 2221.1,1536.1 2221.8,1536.7 2222.5,1535.1 2223.2,1535.6 2223.9,1537.6 2224.6,1535.8 2225.3,1537.1 2226.0,1535.6 2226.7,1534.8 2227.4,1537.3 2228.1,1537.6 2228.8,1537.2 2229.5,1537.0 2230.2,1538.6 2230.9,1536.8 2231.6,1536.3 2232.3,1537.4 2233.0,1538.3 2233.7,1537.5 2234.4,1538.3 2235.1,1538.8 2235.8,1536.4 2236.5,1537.1 2237.2,1536.9 2237.9,1537.8 2238.6,1535.5 2239.3,1538.2 2240.0,1535.7 2240.7,1537.6 2241.4,1536.9 2242.1,1536.7 2242.8,1537.8 2243.5,1535.9 2244.2,1537.8 2244.9,1536.8 2245.6,1535.7 2246.3,1538.2 2247.0,1535.9 2247.7,1537.8 2248.4,1536.7 2249.1,1536.7 2249.8,1538.5 2250.5,1537.3 2251.2,1536.7 2251.9,1537.9 2252.6,1536.4 2253.3,1538.5 2254.0,1536.2 2254.7,1537.3 2255.4,1536.1 2256.1,1537.4 2256.8,1535.8 2257.5,1536.6 2258.2,1537.4 2258.9,1535.3 2259.6,1536.5 2260.3,1537.2 2261.0,1536.2 2261.7,1536.4 2262.4,1537.5 2263.1,1537.8 2263.8,1535.2 2264.5,1536.0 2265.2,1534.2 2265.8,1536.9 2266.5,1537.5 2267.2,1536.0 2267.9,1535.6 2268.6,1537.3 2269.3,1536.2 2270.0,1538.9 2270.7,1538.2 2271.4,1534.6 2272.1,1537.2 2272.8,1537.2 2273.5,1537.1 2274.2,1536.3 2274.9,1534.8 2275.6,1536.4 2276.3,1535.7 2277.0,1538.1 2277.7,1536.8 2278.4,1537.5 2279.1,1535.1 2279.8,1536.2 2280.5,1536.0 2281.2,1535.3 2281.9,1535.8 2282.6,1534.7 2283.3,1536.5 2284.0,1535.5 2284.7,1536.6 2285.4,1537.0 2286.1,1536.3 2286.8,1535.9 2287.5,1537.6" fill="none" stroke="#808000" stroke-width="7" stroke-linejoin="round" stroke-linecap="butt" shape-rendering="crispEdges"/>
<polyline points="194.0,948.9 195.2,948.9 195.9,949.5 196.6,948.7 197.3,948.4 198.0,947.9 198.7,949.9 199.4,947.7 200.1,949.5 200.8,948.3 201.5,948.9 202.2,948.6 202.9,949.4 203.6,949.5 204.3,947.6 205.0,949.8 205.7,949.5 206.4,949.9 207.1,950.4 207.8,947.3 208.5,950.8 209.2,947.2 209.9,948.3 210.6,949.4 211.3,950.2 212.0,949.8 212.7,949.5 213.4,949.8 214.1,948.0 214.8,949.2 215.5,951.8 216.2,946.6 216.9,948.9 217.6,949.0 218.3,948.2 219.0,948.9 219.6,949.1 220.3,948.7 221.0,948.9 221.7,947.8 222.4,949.5 223.1,948.2 223.8,947.7 224.5,951.1 225.2,948.3 225.9,948.4 226.6,946.9 227.3,949.3 228.0,947.9 228.7,948.3 229.4,949.8 230.1,949.6 230.8,948.3 231.5,949.7 232.2,949.5 232.9,949.0 233.6,948.1 234.3,949.6 235.0,947.5 235.7,949.5 236.4,949.1 237.1,947.8 237.8,948.0 238.5,951.8 239.2,947.0 239.9,949.2 240.6,948.8 241.3,949.7 242.0,949.5 242.7,950.2 243.4,950.0 244.1,949.2 244.8,947.7 245.5,948.9 246.2,949.7 246.9,949.7 247.6,950.3 248.3,948.9 249.0,947.8 249.7,948.5 250.4,949.3 251.1,950.0 251.8,950.0 252.5,949.8 253.2,947.6 253.9,948.4 254.6,949.5 255.3,949.2 256.0,949.8 256.7,947.5 257.4,949.5 258.1,945.9 258.8,948.3 259.5,948.9 260.2,948.4 260.9,949.7 261.6,948.5 262.3,948.7 263.0,949.4 263.7,947.7 264.4,950.2 265.1,947.9 265.8,949.1 266.5,948.7 267.2,947.9 267.9,948.4 268.6,948.6 269.3,947.7 269.9,950.4 270.6,946.9 271.3,947.9 272.0,949.0 272.7,948.3 273.4,948.8 274.1,946.0 274.8,947.3 275.5,947.5 276.2,948.7 276.9,946.4 277.6,947.2 278.3,949.1 279.0,947.5 279.7,947.5 280.4,946.9 281.1,948.2 281.8,944.9 282.5,946.0 283.2,946.2 283.9,946.8 284.6,946.6 285.3,944.3 286.0,946.6 286.7,945.5 287.4,949.3 288.1,945.9 288.8,947.2 289.5,945.5 290.2,945.7 290.9,945.0 291.6,946.7 292.3,947.1 293.0,944.3 293.7,946.1 294.4,946.3 295.1,946.8 295.8,944.7 296.5,946.7 297.2,943.8 297.9,945.1 298.6,944.2 299.3,944.2 300.0,945.5 300.7,944.7 301.4,946.9 302.1,943.5 302.8,942.6 303.5,944.4 304.2,943.1 304.9,942.1 305.6,943.7 306.3,943.6 307.0,940.2 307.7,941.1 308.4,942.5 309.1,940.1 309.8,942.4 310.5,940.2 311.2,940.5 311.9,939.9 312.6,938.2 313.3,938.9 314.0,938.0 314.7,937.9 315.4,939.1 316.1,938.3 316.8,936.9 317.5,937.0 318.2,937.9 318.9,935.7 319.5,934.9 320.2,935.5 320.9,933.6 321.6,932.4 322.3,935.1 323.0,931.3 323.7,932.0 324.4,931.6 325.1,930.1 325.8,931.7 326.5,931.0 327.2,928.6 327.9,925.7 328.6,926.9 329.3,923.7 330.0,925.2 330.7,924.5 331.4,922.9 332.1,922.8 332.8,920.5 333.5,918.1 334.2,917.3 334.9,917.7 335.6,912.8 336.3,913.9 337.0,910.7 337.7,912.9 338.4,907.1 339.1,904.5 339.8,906.1 340.5,904.0 341.2,900.2 341.9,898.6 342.6,895.0 343.3,893.8 344.0,892.4 344.7,889.1 345.4,885.9 346.1,882.3 346.8,881.1 347.5,878.5 348.2,874.7 348.9,868.1 349.6,865.8 350.3,860.6 351.0,856.9 351.7,853.1 352.4,850.8 353.1,843.2 353.8,837.5 354.5,831.4 355.2,826.6 355.9,818.0 356.6,814.0 357.3,807.2 358.0,798.0 358.7,793.1 359.4,785.8 360.1,774.0 360.8,766.9 361.5,756.2 362.2,746.2 362.9,737.8 363.6,726.7 364.3,713.9 365.0,702.3 365.7,692.5 366.4,678.7 367.1,666.6 367.8,655.2 368.5,642.3 369.1,630.6 369.8,619.8 370.5,603.8 371.2,594.7 371.9,580.0 372.6,570.6 373.3,561.5 374.0,553.7 374.7,541.2 375.4,538.0 376.1,530.7 376.8,527.1 377.5,525.2 378.2,526.1 378.9,527.7 379.6,528.2 380.3,531.4 381.0,537.0 381.7,542.6 382.4,551.7 383.1,564.1 383.8,571.4 384.5,583.0 385.2,595.4 385.9,607.4 386.6,619.6 387.3,632.0 388.0,645.0 388.7,659.8 389.4,671.3 390.1,682.8 390.8,693.7 391.5,706.1 392.2,717.4 392.9,727.0 393.6,737.0 394.3,748.5 395.0,757.0 395.7,766.1 396.4,775.7 397.1,784.0 397.8,790.9 398.5,801.3 399.2,807.1 399.9,813.4 400.6,820.9 401.3,827.7 402.0,832.1 402.7,834.7 403.4,841.4 404.1,847.5 404.8,852.4 405.5,858.1 406.2,861.3 406.9,864.3 407.6,869.1 408.3,871.0 409.0,876.0 409.7,876.3 410.4,882.6 411.1,883.5 411.8,887.2 412.5,888.5 413.2,889.5 413.9,893.0 414.6,895.4 415.3,897.6 416.0,899.4 416.7,901.6 417.4,902.2 418.1,902.6 418.8,905.5 419.4,906.0 420.1,908.7 420.8,909.9 421.5,911.5 422.2,912.1 422.9,914.4 423.6,915.5 424.3,916.6 425.0,917.2 425.7,918.6 426.4,919.6 427.1,919.6 427.8,917.9 428.5,920.4 429.2,923.5 429.9,920.1 430.6,923.2 431.3,923.1 432.0,925.9 432.7,925.3 433.4,925.2 434.1,926.0 434.8,924.7 435.5,929.1 436.2,928.2 436.9,926.9 437.6,927.7 438.3,929.3 439.0,928.4 439.7,928.6 440.4,930.9 441.1,930.2 441.8,931.2 442.5,932.1 443.2,930.6 443.9,933.5 444.6,933.2 445.3,931.4 446.0,931.4 446.7,933.2 447.4,933.7 448.1,932.8 448.8,933.5 449.5,933.8 450.2,933.9 450.9,934.8 451.6,936.3 452.3,936.9 453.0,934.2 453.7,935.2 454.4,934.8 455.1,935.6 455.8,935.4 456.5,937.5 457.2,937.3 457.9,935.8 458.6,938.1 459.3,936.1 460.0,937.2 460.7,937.9 461.4,937.1 462.1,936.8 462.8,938.2 463.5,938.8 464.2,938.0 464.9,940.2 465.6,939.2 466.3,938.0 467.0,939.5 467.7,938.5 468.4,939.4 469.0,939.8 469.7,939.8 470.4,941.0 471.1,939.7 471.8,940.2 472.5,939.5 473.2,938.4 473.9,939.5 474.6,940.4 475.3,937.7 476.0,941.0 476.7,941.2 477.4,942.2 478.1,941.6 478.8,942.5 479.5,941.5 480.2,941.2 480.9,942.3 481.6,940.8 482.3,943.5 483.0,940.9 483.7,943.9 484.4,941.8 485.1,942.0 485.8,941.5 486.5,942.6 487.2,943.0 487.9,941.4 488.6,941.3 489.3,943.2 490.0,941.8 490.7,944.1 491.4,944.8 492.1,943.0 492.8,947.0 493.5,943.6 494.2,942.6 494.9,945.7 495.6,944.3 496.3,943.2 497.0,943.7 497.7,945.3 498.4,945.5 499.1,943.8 499.8,942.7 500.5,943.3 501.2,944.6 501.9,943.9 502.6,944.3 503.3,944.3 504.0,945.6 504.7,943.6 505.4,943.8 506.1,941.8 506.8,943.8 507.5,942.1 508.2,943.2 508.9,944.1 509.6,943.4 510.3,943.9 511.0,941.6 511.7,943.5 512.4,944.1 513.1,943.9 513.8,944.3 514.5,943.0 515.2,944.4 515.9,943.0 516.6,943.3 517.3,944.6 518.0,945.0 518.7,944.3 519.3,942.2 520.0,943.0 520.7,942.8 521.4,943.4 522.1,945.0 522.8,944.5 523.5,942.1 524.2,943.7 524.9,943.6 525.6,942.6 526.3,942.9 527.0,944.6 527.7,943.2 528.4,943.1 529.1,942.8 529.8,939.6 530.5,943.2 531.2,944.0 531.9,945.1 532.6,945.4 533.3,941.7 534.0,942.7 534.7,942.0 535.4,942.8 536.1,941.2 536.8,942.6 537.5,942.9 538.2,942.8 538.9,942.5 539.6,943.1 540.3,941.7 541.0,941.4 541.7,941.8 542.4,941.5 543.1,942.2 543.8,942.9 544.5,941.6 545.2,939.9 545.9,940.0 546.6,942.2 547.3,942.4 548.0,942.3 548.7,939.0 549.4,942.6 550.1,944.7 550.8,941.8 551.5,941.6 552.2,943.0 552.9,941.0 553.6,940.6 554.3,943.0 555.0,940.6 555.7,942.3 556.4,940.9 557.1,941.1 557.8,940.4 558.5,941.8 559.2,941.2 559.9,941.0 560.6,940.7 561.3,940.6 562.0,942.4 562.7,942.1 563.4,942.3 564.1,940.1 564.8,941.9 565.5,939.7 566.2,943.3 566.9,943.6 567.6,943.3 568.3,942.4 568.9,942.6 569.6,941.9 570.3,941.3 571.0,943.2 571.7,943.4 572.4,941.9 573.1,941.0 573.8,941.9 574.5,942.1 575.2,941.9 575.9,940.7 576.6,941.1 577.3,942.8 578.0,944.8 578.7,941.3 579.4,943.1 580.1,942.7 580.8,943.4 581.5,943.2 582.2,944.4 582.9,943.3 583.6,942.6 584.3,943.7 585.0,943.7 585.7,944.5 586.4,944.3 587.1,944.4 587.8,943.9 588.5,943.8 589.2,943.8 589.9,944.4 590.6,945.6 591.3,946.0 592.0,943.9 592.7,944.5 593.4,944.8 594.1,946.9 594.8,944.1 595.5,945.3 596.2,942.8 596.9,945.8 597.6,944.6 598.3,945.7 599.0,946.8 599.7,944.5 600.4,943.6 601.1,946.6 601.8,945.6 602.5,946.9 603.2,948.0 603.9,945.5 604.6,945.2 605.3,945.7 606.0,944.9 606.7,945.9 607.4,948.0 608.1,946.1 608.8,945.4 609.5,947.5 610.2,947.8 610.9,945.0 611.6,947.5 612.3,946.9 613.0,948.0 613.7,946.8 614.4,947.3 615.1,946.6 615.8,950.3 616.5,948.6 617.2,948.9 617.9,949.0 618.6,948.4 619.2,949.7 619.9,949.0 620.6,951.2 621.3,949.4 622.0,950.2 622.7,947.1 623.4,947.9 624.1,948.0 624.8,946.9 625.5,948.0 626.2,948.0 626.9,947.4 627.6,949.5 628.3,948.1 629.0,948.9 629.7,947.2 630.4,948.7 631.1,948.2 631.8,948.3 632.5,950.3 633.2,949.7 633.9,948.3 634.6,948.5 635.3,950.4 636.0,948.9 636.7,949.6 637.4,951.3 638.1,951.3 638.8,950.0 639.5,950.0 640.2,950.3 640.9,949.9 641.6,950.1 642.3,951.4 643.0,950.5 643.7,950.3 644.4,949.8 645.1,950.9 645.8,949.3 646.5,950.3 647.2,948.5 647.9,949.3 648.6,949.9 649.3,948.9 650.0,949.8 650.7,949.6 651.4,949.0 652.1,950.2 652.8,949.8 653.5,949.1 654.2,949.8 654.9,950.6 655.6,948.7 656.3,948.5 657.0,950.9 657.7,949.0 658.4,949.5 659.1,947.8 659.8,950.0 660.5,950.6 661.2,948.9 661.9,950.8 662.6,949.1 663.3,950.0 664.0,951.7 664.7,952.2 665.4,950.3 666.1,951.8 666.8,949.7 667.5,951.3 668.2,948.6 668.8,950.7 669.5,949.8 670.2,949.0 670.9,949.8 671.6,949.6 672.3,949.7 673.0,950.5 673.7,949.0 674.4,949.0 675.1,949.7 675.8,949.2 676.5,949.7 677.2,948.5 677.9,950.7 678.6,948.9 679.3,950.9 680.0,950.9 680.7,949.4 681.4,950.9 682.1,951.7 682.8,950.0 683.5,950.8 684.2,949.5 684.9,951.6 685.6,950.7 686.3,952.2 687.0,951.6 687.7,950.6 688.4,949.7 689.1,951.5 689.8,951.8 690.5,950.2 691.2,951.5 691.9,950.9 692.6,950.0 693.3,949.5 694.0,950.1 694.7,951.1 695.4,949.0 696.1,949.8 696.8,949.7 697.5,949.0 698.2,948.7 698.9,950.2 699.6,950.8 700.3,949.4 701.0,948.5 701.7,949.7 702.4,949.4 703.1,950.0 703.8,948.6 704.5,950.6 705.2,949.2 705.9,950.9 706.6,949.7 707.3,949.2 708.0,949.4 708.7,950.2 709.4,950.1 710.1,950.5 710.8,948.1 711.5,948.6 712.2,949.0 712.9,946.9 713.6,948.6 714.3,949.4 715.0,948.1 715.7,948.7 716.4,948.0 717.1,948.5 717.8,947.4 718.4,949.5 719.1,949.3 719.8,948.6 720.5,950.1 721.2,948.7 721.9,948.0 722.6,946.0 723.3,946.9 724.0,948.6 724.7,949.5 725.4,947.2 726.1,948.5 726.8,946.8 727.5,947.2 728.2,946.7 728.9,946.9 729.6,946.7 730.3,947.4 731.0,945.8 731.7,948.6 732.4,947.5 733.1,944.8 733.8,945.1 734.5,948.8 735.2,945.3 735.9,946.8 736.6,945.0 737.3,949.1 738.0,944.1 738.7,947.3 739.4,945.8 740.1,944.7 740.8,944.5 741.5,943.7 742.2,942.2 742.9,944.8 743.6,946.0 744.3,943.4 745.0,944.0 745.7,944.2 746.4,941.5 747.1,942.3 747.8,940.9 748.5,943.0 749.2,941.0 749.9,943.4 750.6,942.6 751.3,940.4 752.0,941.6 752.7,941.1 753.4,940.0 754.1,940.2 754.8,940.2 755.5,937.9 756.2,940.7 756.9,938.5 757.6,938.0 758.3,939.1 759.0,937.0 759.7,939.4 760.4,938.4 761.1,936.8 761.8,937.8 762.5,937.5 763.2,935.0 763.9,932.9 764.6,932.7 765.3,933.1 766.0,934.2 766.7,933.5 767.4,932.2 768.1,933.9 768.7,930.9 769.4,931.3 770.1,928.8 770.8,928.7 771.5,928.9 772.2,929.3 772.9,925.1 773.6,928.3 774.3,925.1 775.0,926.7 775.7,924.7 776.4,922.7 777.1,922.5 777.8,924.9 778.5,921.8 779.2,920.7 779.9,918.9 780.6,918.5 781.3,920.2 782.0,919.8 782.7,919.5 783.4,917.2 784.1,915.4 784.8,913.9 785.5,915.9 786.2,913.2 786.9,911.5 787.6,911.9 788.3,911.5 789.0,912.1 789.7,910.1 790.4,911.1 791.1,909.9 791.8,908.6 792.5,905.4 793.2,904.9 793.9,906.7 794.6,906.8 795.3,907.3 796.0,903.1 796.7,905.1 797.4,904.4 798.1,904.2 798.8,902.8 799.5,901.7 800.2,901.3 800.9,901.1 801.6,901.2 802.3,898.4 803.0,898.0 803.7,896.9 804.4,897.1 805.1,893.5 805.8,896.9 806.5,894.6 807.2,892.4 807.9,892.2 808.6,891.0 809.3,889.6 810.0,889.0 810.7,890.7 811.4,889.8 812.1,883.2 812.8,884.3 813.5,883.1 814.2,880.2 814.9,879.8 815.6,878.5 816.3,877.6 817.0,874.8 817.7,874.2 818.3,875.5 819.0,874.5 819.7,873.9 820.4,873.4 821.1,871.1 821.8,872.7 822.5,871.6 823.2,873.0 823.9,872.0 824.6,873.3 825.3,872.4 826.0,875.3 826.7,874.5 827.4,875.7 828.1,875.3 828.8,878.6 829.5,879.0 830.2,880.6 830.9,878.9 831.6,881.5 832.3,881.7 833.0,882.4 833.7,884.1 834.4,884.1 835.1,886.8 835.8,885.1 836.5,886.3 837.2,887.2 837.9,889.7 838.6,888.8 839.3,888.9 840.0,891.9 840.7,893.8 841.4,892.7 842.1,894.8 842.8,895.0 843.5,896.8 844.2,898.1 844.9,896.7 845.6,901.8 846.3,901.0 847.0,903.4 847.7,904.6 848.4,903.8 849.1,907.9 849.8,907.1 850.5,907.8 851.2,910.7 851.9,913.8 852.6,914.4 853.3,911.4 854.0,914.7 854.7,916.4 855.4,916.9 856.1,917.6 856.8,919.1 857.5,919.6 858.2,923.4 858.9,923.0 859.6,922.6 860.3,924.8 861.0,927.1 861.7,925.9 862.4,928.4 863.1,926.6 863.8,928.3 864.5,932.3 865.2,930.2 865.9,929.4 866.6,933.0 867.3,931.8 868.0,933.8 868.6,933.1 869.3,932.1 870.0,936.2 870.7,934.8 871.4,933.6 872.1,937.2 872.8,936.5 873.5,939.3 874.2,938.6 874.9,938.1 875.6,936.4 876.3,936.8 877.0,938.9 877.7,937.8 878.4,940.1 879.1,941.5 879.8,941.3 880.5,942.8 881.2,942.6 881.9,942.4 882.6,941.8 883.3,941.7 884.0,942.4 884.7,943.0 885.4,944.6 886.1,943.1 886.8,942.6 887.5,942.6 888.2,942.6 888.9,943.0 889.6,946.2 890.3,945.4 891.0,944.6 891.7,945.1 892.4,944.4 893.1,943.7 893.8,943.5 894.5,945.4 895.2,946.2 895.9,946.8 896.6,945.1 897.3,946.5 898.0,944.9 898.7,946.6 899.4,946.1 900.1,947.0 900.8,945.0 901.5,947.0 902.2,946.9 902.9,946.7 903.6,948.4 904.3,948.0 905.0,948.3 905.7,949.3 906.4,946.6 907.1,948.6 907.8,945.8 908.5,947.6 909.2,946.6 909.9,947.0 910.6,948.4 911.3,949.0 912.0,948.7 912.7,949.2 913.4,949.1 914.1,948.1 914.8,948.9 915.5,948.1 916.2,947.3 916.9,949.5 917.6,948.1 918.2,946.7 918.9,946.9 919.6,949.1 920.3,948.7 921.0,948.5 921.7,949.3 922.4,948.7 923.1,948.7 923.8,948.0 924.5,949.8 925.2,950.9 925.9,948.6 926.6,948.8 927.3,950.3 928.0,950.4 928.7,950.6 929.4,949.3 930.1,950.1 930.8,949.4 931.5,950.4 932.2,948.9 932.9,950.5 933.6,948.7 934.3,952.4 935.0,948.7 935.7,950.5 936.4,951.7 937.1,950.2 937.8,951.0 938.5,949.3 939.2,951.4 939.9,951.8 940.6,951.7 941.3,950.0 942.0,951.9 942.7,950.8 943.4,950.5 944.1,949.7 944.8,951.2 945.5,951.0 946.2,949.9 946.9,949.7 947.6,950.6 948.3,949.1 949.0,951.6 949.7,951.6 950.4,951.9 951.1,950.4 951.8,953.9 952.5,951.3 953.2,952.5 953.9,951.7 954.6,952.1 955.3,950.2 956.0,952.4 956.7,950.5 957.4,949.4 958.1,950.9 958.8,952.6 959.5,951.9 960.2,951.4 960.9,950.0 961.6,952.4 962.3,951.6 963.0,950.4 963.7,952.0 964.4,950.8 965.1,950.3 965.8,951.6 966.5,951.8 967.2,950.3 967.9,953.4 968.5,950.9 969.2,952.0 969.9,950.9 970.6,950.8 971.3,951.1 972.0,950.5 972.7,951.1 973.4,951.6 974.1,949.9 974.8,951.8 975.5,951.9 976.2,950.9 976.9,951.8 977.6,951.6 978.3,952.1 979.0,951.3 979.7,950.7 980.4,950.4 981.1,950.9 981.8,951.0 982.5,951.9 983.2,950.4 983.9,950.5 984.6,950.7 985.3,952.7 986.0,954.1 986.7,950.2 987.4,949.8 988.1,949.6 988.8,951.2 989.5,951.4 990.2,951.5 990.9,951.0 991.6,951.4 992.3,951.8 993.0,954.3 993.7,951.4 994.4,952.1 995.1,951.0 995.8,951.7 996.5,951.9 997.2,954.3 997.9,950.8 998.6,951.5 999.3,950.9 1000.0,952.2 1000.7,952.0 1001.4,950.7 1002.1,952.1 1002.8,952.1 1003.5,951.9 1004.2,951.5 1004.9,952.6 1005.6,952.0 1006.3,951.9 1007.0,951.9 1007.7,951.1 1008.4,951.5 1009.1,951.6 1009.8,950.9 1010.5,952.2 1011.2,950.3 1011.9,952.1 1012.6,950.8 1013.3,950.5 1014.0,951.2 1014.7,951.0 1015.4,952.0 1016.1,950.2 1016.8,950.0 1017.5,951.2 1018.1,952.8 1018.8,949.8 1019.5,952.1 1020.2,953.2 1020.9,950.4 1021.6,952.2 1022.3,950.8 1023.0,950.5 1023.7,950.6 1024.4,950.7 1025.1,950.1 1025.8,951.1 1026.5,950.6 1027.2,953.3 1027.9,952.8 1028.6,951.4 1029.3,951.4 1030.0,952.6 1030.7,954.4 1031.4,953.4 1032.1,952.4 1032.8,953.5 1033.5,950.0 1034.2,950.0 1034.9,952.1 1035.6,950.8 1036.3,951.6 1037.0,951.4 1037.7,951.7 1038.4,951.9 1039.1,951.1 1039.8,951.0 1040.5,952.4 1041.2,951.3 1041.9,951.0 1042.6,951.0 1043.3,950.4 1044.0,950.1 1044.7,952.6 1045.4,949.7 1046.1,951.1 1046.8,950.8 1047.5,950.5 1048.2,951.1 1048.9,953.3 1049.6,952.3 1050.3,950.0 1051.0,948.6 1051.7,950.4 1052.4,949.9 1053.1,949.1 1053.8,950.7 1054.5,949.6 1055.2,949.4 1055.9,951.7 1056.6,950.9 1057.3,949.6 1058.0,951.4 1058.7,950.1 1059.4,949.3 1060.1,949.3 1060.8,949.4 1061.5,949.5 1062.2,948.8 1062.9,949.3 1063.6,948.3 1064.3,948.2 1065.0,950.0 1065.7,950.3 1066.4,949.5 1067.1,948.4 1067.7,949.3 1068.4,948.2 1069.1,948.3 1069.8,948.9 1070.5,950.0 1071.2,951.7 1071.9,950.2 1072.6,949.1 1073.3,948.5 1074.0,950.0 1074.7,950.4 1075.4,949.0 1076.1,950.3 1076.8,950.4 1077.5,949.1 1078.2,949.0 1078.9,948.1 1079.6,947.3 1080.3,948.5 1081.0,948.7 1081.7,947.9 1082.4,947.8 1083.1,949.2 1083.8,948.0 1084.5,950.6 1085.2,948.5 1085.9,949.1 1086.6,947.6 1087.3,947.5 1088.0,947.2 1088.7,946.8 1089.4,949.1 1090.1,948.6 1090.8,947.1 1091.5,947.8 1092.2,947.7 1092.9,946.8 1093.6,947.5 1094.3,946.4 1095.0,947.3 1095.7,947.8 1096.4,946.8 1097.1,948.1 1097.8,947.5 1098.5,945.2 1099.2,946.9 1099.9,946.3 1100.6,946.0 1101.3,944.8 1102.0,946.8 1102.7,944.9 1103.4,946.4 1104.1,946.1 1104.8,946.5 1105.5,944.6 1106.2,946.0 1106.9,943.8 1107.6,946.1 1108.3,944.7 1109.0,944.0 1109.7,944.0 1110.4,944.5 1111.1,942.6 1111.8,943.3 1112.5,942.4 1113.2,942.8 1113.9,941.7 1114.6,942.3 1115.3,942.9 1116.0,940.8 1116.7,941.3 1117.4,942.0 1118.0,940.9 1118.7,941.3 1119.4,938.4 1120.1,938.4 1120.8,938.8 1121.5,939.3 1122.2,937.1 1122.9,938.1 1123.6,935.7 1124.3,937.6 1125.0,934.5 1125.7,936.5 1126.4,933.9 1127.1,933.5 1127.8,932.5 1128.5,932.6 1129.2,934.5 1129.9,932.3 1130.6,931.0 1131.3,930.2 1132.0,930.9 1132.7,928.1 1133.4,929.4 1134.1,928.7 1134.8,927.1 1135.5,926.9 1136.2,925.7 1136.9,925.5 1137.6,924.1 1138.3,923.9 1139.0,921.6 1139.7,921.4 1140.4,920.0 1141.1,918.0 1141.8,916.6 1142.5,917.5 1143.2,912.8 1143.9,911.2 1144.6,913.1 1145.3,911.9 1146.0,910.4 1146.7,909.6 1147.4,906.9 1148.1,905.6 1148.8,903.1 1149.5,901.8 1150.2,901.2 1150.9,897.9 1151.6,894.5 1152.3,892.1 1153.0,892.2 1153.7,887.8 1154.4,886.2 1155.1,883.8 1155.8,884.6 1156.5,879.6 1157.2,877.0 1157.9,875.8 1158.6,872.7 1159.3,867.9 1160.0,866.8 1160.7,862.3 1161.4,862.3 1162.1,860.4 1162.8,857.1 1163.5,856.7 1164.2,850.0 1164.9,851.9 1165.6,847.9 1166.3,846.5 1167.0,844.0 1167.6,843.0 1168.3,842.1 1169.0,839.2 1169.7,839.0 1170.4,838.0 1171.1,837.5 1171.8,838.9 1172.5,838.4 1173.2,839.6 1173.9,839.6 1174.6,840.9 1175.3,844.2 1176.0,844.3 1176.7,843.9 1177.4,845.9 1178.1,849.1 1178.8,851.6 1179.5,852.3 1180.2,854.0 1180.9,857.6 1181.6,861.7 1182.3,863.2 1183.0,864.9 1183.7,867.8 1184.4,869.8 1185.1,873.7 1185.8,874.1 1186.5,877.8 1187.2,881.2 1187.9,882.7 1188.6,886.3 1189.3,888.7 1190.0,891.8 1190.7,892.2 1191.4,893.3 1192.1,895.1 1192.8,898.3 1193.5,898.5 1194.2,903.2 1194.9,902.9 1195.6,904.5 1196.3,906.5 1197.0,908.8 1197.7,909.5 1198.4,911.7 1199.1,912.3 1199.8,914.5 1200.5,916.6 1201.2,915.6 1201.9,917.5 1202.6,916.9 1203.3,919.5 1204.0,922.2 1204.7,922.5 1205.4,924.5 1206.1,923.6 1206.8,923.3 1207.5,926.2 1208.2,928.1 1208.9,926.7 1209.6,926.8 1210.3,926.9 1211.0,929.3 1211.7,931.1 1212.4,929.2 1213.1,930.7 1213.8,931.1 1214.5,933.2 1215.2,932.7 1215.9,935.0 1216.6,933.4 1217.3,934.7 1217.9,935.4 1218.6,935.7 1219.3,936.6 1220.0,937.0 1220.7,938.2 1221.4,937.7 1222.1,938.3 1222.8,938.2 1223.5,940.1 1224.2,940.2 1224.9,938.2 1225.6,941.0 1226.3,942.0 1227.0,939.7 1227.7,940.8 1228.4,942.3 1229.1,942.2 1229.8,941.9 1230.5,944.0 1231.2,942.5 1231.9,943.4 1232.6,944.7 1233.3,942.9 1234.0,944.2 1234.7,942.7 1235.4,943.3 1236.1,944.1 1236.8,943.6 1237.5,943.8 1238.2,944.0 1238.9,943.6 1239.6,944.9 1240.3,946.1 1241.0,944.1 1241.7,942.7 1242.4,944.2 1243.1,944.3 1243.8,945.8 1244.5,945.6 1245.2,944.0 1245.9,945.7 1246.6,944.1 1247.3,946.4 1248.0,947.3 1248.7,944.9 1249.4,946.7 1250.1,945.8 1250.8,945.8 1251.5,946.7 1252.2,947.1 1252.9,946.3 1253.6,946.3 1254.3,946.6 1255.0,947.7 1255.7,949.4 1256.4,948.3 1257.1,945.2 1257.8,947.8 1258.5,945.6 1259.2,949.1 1259.9,948.6 1260.6,949.1 1261.3,949.3 1262.0,948.5 1262.7,948.3 1263.4,949.9 1264.1,948.3 1264.8,949.3 1265.5,947.9 1266.2,948.0 1266.9,949.3 1267.5,948.4 1268.2,948.3 1268.9,949.3 1269.6,946.4 1270.3,947.4 1271.0,948.5 1271.7,950.2 1272.4,949.6 1273.1,949.3 1273.8,948.1 1274.5,949.1 1275.2,948.4 1275.9,947.0 1276.6,947.5 1277.3,950.5 1278.0,948.5 1278.7,948.4 1279.4,949.2 1280.1,949.1 1280.8,948.2 1281.5,948.0 1282.2,947.2 1282.9,950.2 1283.6,948.9 1284.3,948.2 1285.0,948.1 1285.7,947.2 1286.4,949.3 1287.1,950.6 1287.8,947.4 1288.5,948.2 1289.2,950.0 1289.9,948.0 1290.6,946.9 1291.3,946.2 1292.0,948.8 1292.7,948.0 1293.4,949.1 1294.1,947.3 1294.8,949.2 1295.5,948.2 1296.2,946.6 1296.9,948.7 1297.6,948.3 1298.3,946.9 1299.0,948.6 1299.7,947.5 1300.4,947.1 1301.1,947.3 1301.8,947.2 1302.5,948.0 1303.2,947.4 1303.9,947.0 1304.6,947.3 1305.3,947.9 1306.0,948.0 1306.7,947.0 1307.4,947.6 1308.1,946.7 1308.8,945.6 1309.5,947.4 1310.2,948.9 1310.9,947.4 1311.6,947.3 1312.3,946.1 1313.0,946.6 1313.7,948.0 1314.4,946.2 1315.1,946.5 1315.8,946.0 1316.5,948.7 1317.2,948.0 1317.8,947.5 1318.5,948.1 1319.2,946.6 1319.9,946.2 1320.6,946.2 1321.3,946.3 1322.0,946.6 1322.7,943.5 1323.4,942.8 1324.1,945.5 1324.8,944.3 1325.5,944.7 1326.2,944.7 1326.9,941.5 1327.6,943.8 1328.3,943.0 1329.0,942.6 1329.7,942.5 1330.4,946.1 1331.1,942.9 1331.8,941.6 1332.5,943.4 1333.2,942.8 1333.9,943.4 1334.6,941.4 1335.3,942.2 1336.0,940.2 1336.7,941.7 1337.4,940.0 1338.1,940.3 1338.8,939.1 1339.5,938.8 1340.2,939.0 1340.9,938.3 1341.6,937.1 1342.3,939.7 1343.0,937.5 1343.7,936.1 1344.4,935.0 1345.1,936.3 1345.8,936.3 1346.5,933.5 1347.2,934.4 1347.9,934.6 1348.6,933.3 1349.3,932.9 1350.0,933.7 1350.7,930.6 1351.4,929.7 1352.1,930.1 1352.8,929.8 1353.5,930.8 1354.2,930.3 1354.9,927.6 1355.6,927.8 1356.3,926.4 1357.0,925.9 1357.7,926.7 1358.4,923.9 1359.1,924.9 1359.8,923.0 1360.5,923.1 1361.2,920.5 1361.9,918.6 1362.6,921.1 1363.3,921.1 1364.0,919.1 1364.7,916.3 1365.4,915.3 1366.1,914.2 1366.8,912.9 1367.4,913.7 1368.1,910.9 1368.8,910.6 1369.5,907.9 1370.2,907.6 1370.9,904.2 1371.6,902.8 1372.3,901.2 1373.0,901.6 1373.7,900.8 1374.4,897.4 1375.1,896.5 1375.8,894.1 1376.5,892.7 1377.2,890.4 1377.9,891.9 1378.6,888.4 1379.3,886.9 1380.0,886.3 1380.7,884.9 1381.4,883.9 1382.1,882.4 1382.8,883.4 1383.5,881.1 1384.2,880.3 1384.9,879.1 1385.6,877.5 1386.3,877.5 1387.0,876.5 1387.7,876.6 1388.4,875.7 1389.1,874.3 1389.8,874.9 1390.5,873.5 1391.2,874.4 1391.9,872.4 1392.6,872.6 1393.3,872.3 1394.0,871.4 1394.7,871.9 1395.4,871.2 1396.1,871.1 1396.8,873.0 1397.5,871.5 1398.2,869.9 1398.9,871.0 1399.6,869.8 1400.3,869.0 1401.0,869.2 1401.7,870.9 1402.4,868.1 1403.1,868.7 1403.8,868.3 1404.5,868.5 1405.2,869.8 1405.9,868.5 1406.6,869.5 1407.3,867.6 1408.0,869.0 1408.7,867.5 1409.4,868.4 1410.1,867.2 1410.8,868.6 1411.5,869.1 1412.2,866.7 1412.9,866.9 1413.6,868.2 1414.3,868.1 1415.0,866.7 1415.7,868.1 1416.4,869.4 1417.0,871.2 1417.7,869.4 1418.4,869.8 1419.1,871.8 1419.8,872.1 1420.5,872.7 1421.2,874.0 1421.9,874.6 1422.6,877.0 1423.3,875.8 1424.0,878.7 1424.7,880.7 1425.4,881.8 1426.1,880.4 1426.8,884.1 1427.5,884.7 1428.2,889.1 1428.9,890.4 1429.6,890.8 1430.3,891.6 1431.0,894.3 1431.7,895.7 1432.4,894.6 1433.1,899.4 1433.8,899.4 1434.5,899.3 1435.2,903.1 1435.9,902.1 1436.6,905.2 1437.3,907.5 1438.0,908.9 1438.7,909.2 1439.4,909.3 1440.1,912.2 1440.8,913.4 1441.5,915.3 1442.2,913.5 1442.9,915.9 1443.6,917.1 1444.3,917.7 1445.0,918.7 1445.7,920.1 1446.4,919.9 1447.1,921.7 1447.8,923.2 1448.5,921.9 1449.2,924.5 1449.9,924.7 1450.6,926.2 1451.3,927.9 1452.0,926.7 1452.7,926.8 1453.4,929.9 1454.1,929.2 1454.8,927.9 1455.5,930.9 1456.2,931.1 1456.9,930.0 1457.6,931.8 1458.3,932.9 1459.0,931.6 1459.7,933.5 1460.4,933.6 1461.1,934.6 1461.8,935.8 1462.5,935.1 1463.2,935.3 1463.9,937.0 1464.6,936.8 1465.3,938.8 1466.0,936.7 1466.7,936.3 1467.3,939.4 1468.0,938.2 1468.7,938.2 1469.4,939.0 1470.1,940.8 1470.8,938.0 1471.5,937.0 1472.2,938.8 1472.9,939.0 1473.6,941.2 1474.3,940.2 1475.0,941.0 1475.7,940.8 1476.4,940.0 1477.1,942.6 1477.8,942.1 1478.5,943.4 1479.2,942.1 1479.9,941.1 1480.6,943.1 1481.3,944.2 1482.0,943.2 1482.7,942.1 1483.4,943.2 1484.1,944.9 1484.8,945.2 1485.5,943.1 1486.2,943.7 1486.9,942.2 1487.6,944.5 1488.3,944.8 1489.0,948.4 1489.7,945.0 1490.4,946.8 1491.1,945.5 1491.8,944.9 1492.5,946.3 1493.2,947.2 1493.9,944.6 1494.6,946.3 1495.3,947.0 1496.0,944.9 1496.7,946.4 1497.4,946.3 1498.1,946.9 1498.8,948.5 1499.5,945.9 1500.2,946.0 1500.9,947.5 1501.6,947.1 1502.3,947.0 1503.0,945.0 1503.7,947.3 1504.4,947.3 1505.1,947.2 1505.8,946.9 1506.5,947.1 1507.2,947.2 1507.9,949.0 1508.6,948.3 1509.3,948.6 1510.0,948.2 1510.7,948.7 1511.4,947.4 1512.1,949.5 1512.8,948.7 1513.5,949.3 1514.2,948.3 1514.9,948.8 1515.6,949.1 1516.3,948.5 1516.9,947.7 1517.6,948.9 1518.3,950.2 1519.0,949.5 1519.7,948.0 1520.4,949.5 1521.1,950.1 1521.8,949.7 1522.5,948.8 1523.2,948.2 1523.9,950.7 1524.6,950.0 1525.3,952.6 1526.0,950.3 1526.7,950.5 1527.4,949.2 1528.1,950.4 1528.8,951.6 1529.5,950.1 1530.2,949.6 1530.9,948.2 1531.6,949.9 1532.3,947.4 1533.0,950.4 1533.7,950.8 1534.4,948.8 1535.1,949.4 1535.8,949.6 1536.5,947.9 1537.2,948.5 1537.9,949.3 1538.6,948.6 1539.3,950.4 1540.0,950.4 1540.7,949.7 1541.4,950.4 1542.1,948.2 1542.8,949.9 1543.5,950.0 1544.2,950.0 1544.9,949.6 1545.6,950.0 1546.3,951.0 1547.0,949.8 1547.7,948.5 1548.4,950.0 1549.1,949.9 1549.8,949.1 1550.5,950.8 1551.2,951.4 1551.9,951.3 1552.6,950.9 1553.3,950.7 1554.0,949.1 1554.7,949.5 1555.4,951.3 1556.1,948.8 1556.8,949.8 1557.5,951.8 1558.2,949.2 1558.9,950.6 1559.6,951.4 1560.3,949.2 1561.0,948.2 1561.7,949.0 1562.4,950.5 1563.1,949.8 1563.8,951.5 1564.5,951.5 1565.2,949.1 1565.9,950.7 1566.6,950.2 1567.2,950.5 1567.9,949.5 1568.6,949.2 1569.3,949.6 1570.0,950.8 1570.7,949.9 1571.4,950.2 1572.1,950.2 1572.8,949.9 1573.5,949.2 1574.2,948.1 1574.9,949.5 1575.6,950.0 1576.3,949.6 1577.0,948.9 1577.7,950.7 1578.4,948.8 1579.1,950.3 1579.8,950.8 1580.5,950.4 1581.2,950.6 1581.9,950.1 1582.6,949.4 1583.3,948.5 1584.0,950.3 1584.7,950.6 1585.4,948.7 1586.1,952.2 1586.8,950.9 1587.5,950.8 1588.2,950.6 1588.9,950.3 1589.6,951.0 1590.3,950.7 1591.0,949.1 1591.7,950.0 1592.4,950.6 1593.1,949.6 1593.8,951.1 1594.5,950.3 1595.2,950.1 1595.9,949.9 1596.6,950.3 1597.3,946.6 1598.0,947.4 1598.7,948.5 1599.4,947.7 1600.1,948.0 1600.8,947.6 1601.5,946.3 1602.2,948.9 1602.9,949.3 1603.6,948.2 1604.3,947.0 1605.0,947.3 1605.7,949.4 1606.4,947.6 1607.1,949.2 1607.8,948.5 1608.5,949.1 1609.2,948.3 1609.9,947.8 1610.6,947.5 1611.3,946.8 1612.0,947.1 1612.7,947.5 1613.4,946.6 1614.1,948.0 1614.8,947.0 1615.5,947.6 1616.2,947.6 1616.8,945.1 1617.5,947.4 1618.2,946.6 1618.9,947.6 1619.6,946.3 1620.3,946.2 1621.0,944.9 1621.7,944.0 1622.4,945.9 1623.1,945.7 1623.8,945.2 1624.5,947.0 1625.2,945.2 1625.9,945.2 1626.6,947.0 1627.3,944.8 1628.0,944.1 1628.7,947.8 1629.4,945.8 1630.1,946.6 1630.8,944.0 1631.5,944.9 1632.2,945.6 1632.9,943.4 1633.6,943.5 1634.3,943.1 1635.0,944.5 1635.7,943.0 1636.4,942.5 1637.1,941.9 1637.8,942.3 1638.5,943.6 1639.2,940.4 1639.9,942.4 1640.6,942.2 1641.3,941.0 1642.0,940.2 1642.7,940.0 1643.4,941.6 1644.1,940.9 1644.8,940.0 1645.5,939.4 1646.2,937.7 1646.9,936.3 1647.6,937.0 1648.3,937.2 1649.0,937.2 1649.7,934.2 1650.4,934.0 1651.1,933.6 1651.8,935.1 1652.5,933.5 1653.2,932.8 1653.9,931.0 1654.6,932.1 1655.3,930.5 1656.0,929.4 1656.7,928.6 1657.4,928.1 1658.1,929.4 1658.8,926.8 1659.5,925.3 1660.2,925.7 1660.9,925.6 1661.6,922.8 1662.3,923.7 1663.0,919.6 1663.7,922.3 1664.4,921.2 1665.1,918.1 1665.8,918.6 1666.5,918.4 1667.1,918.3 1667.8,916.8 1668.5,914.8 1669.2,915.1 1669.9,913.3 1670.6,912.3 1671.3,913.4 1672.0,911.7 1672.7,910.4 1673.4,907.4 1674.1,907.1 1674.8,905.7 1675.5,907.6 1676.2,906.1 1676.9,905.7 1677.6,905.3 1678.3,903.1 1679.0,901.3 1679.7,901.8 1680.4,902.5 1681.1,901.9 1681.8,901.0 1682.5,901.7 1683.2,899.3 1683.9,901.5 1684.6,898.3 1685.3,898.5 1686.0,896.7 1686.7,898.7 1687.4,900.0 1688.1,899.3 1688.8,898.8 1689.5,899.8 1690.2,898.6 1690.9,898.0 1691.6,897.2 1692.3,896.8 1693.0,899.2 1693.7,897.3 1694.4,898.1 1695.1,898.7 1695.8,899.0 1696.5,900.5 1697.2,899.5 1697.9,899.9 1698.6,901.8 1699.3,901.1 1700.0,902.0 1700.7,903.7 1701.4,903.4 1702.1,903.5 1702.8,906.1 1703.5,905.0 1704.2,907.0 1704.9,907.2 1705.6,908.6 1706.3,909.9 1707.0,910.5 1707.7,910.0 1708.4,911.7 1709.1,911.7 1709.8,914.8 1710.5,914.2 1711.2,916.0 1711.9,913.2 1712.6,917.1 1713.3,917.3 1714.0,918.5 1714.7,917.6 1715.4,918.7 1716.1,919.8 1716.7,920.9 1717.4,921.3 1718.1,923.0 1718.8,923.5 1719.5,925.3 1720.2,923.0 1720.9,923.7 1721.6,926.2 1722.3,925.7 1723.0,925.5 1723.7,926.8 1724.4,927.8 1725.1,926.3 1725.8,929.4 1726.5,927.7 1727.2,930.4 1727.9,930.6 1728.6,929.0 1729.3,930.4 1730.0,931.1 1730.7,931.1 1731.4,931.1 1732.1,931.7 1732.8,933.7 1733.5,933.1 1734.2,932.2 1734.9,933.8 1735.6,934.2 1736.3,935.5 1737.0,936.6 1737.7,933.7 1738.4,937.2 1739.1,936.4 1739.8,937.5 1740.5,938.3 1741.2,937.5 1741.9,937.9 1742.6,939.7 1743.3,939.9 1744.0,939.9 1744.7,940.6 1745.4,939.8 1746.1,939.7 1746.8,940.7 1747.5,941.0 1748.2,943.1 1748.9,940.2 1749.6,939.5 1750.3,942.0 1751.0,942.7 1751.7,941.6 1752.4,944.9 1753.1,943.9 1753.8,942.3 1754.5,943.7 1755.2,943.7 1755.9,945.2 1756.6,944.5 1757.3,947.0 1758.0,945.2 1758.7,944.1 1759.4,945.6 1760.1,946.0 1760.8,947.4 1761.5,946.0 1762.2,944.3 1762.9,944.1 1763.6,948.1 1764.3,945.7 1765.0,945.7 1765.7,946.7 1766.3,947.2 1767.0,947.8 1767.7,948.2 1768.4,947.2 1769.1,945.5 1769.8,947.8 1770.5,945.2 1771.2,947.4 1771.9,948.6 1772.6,948.2 1773.3,945.1 1774.0,947.7 1774.7,946.9 1775.4,944.6 1776.1,946.8 1776.8,946.9 1777.5,946.1 1778.2,946.6 1778.9,948.5 1779.6,947.9 1780.3,948.3 1781.0,946.3 1781.7,948.7 1782.4,950.3 1783.1,948.5 1783.8,947.5 1784.5,947.2 1785.2,948.2 1785.9,946.8 1786.6,948.9 1787.3,948.0 1788.0,948.5 1788.7,948.1 1789.4,948.1 1790.1,947.3 1790.8,948.8 1791.5,946.6 1792.2,948.2 1792.9,948.5 1793.6,950.1 1794.3,950.1 1795.0,948.7 1795.7,949.9 1796.4,948.3 1797.1,948.1 1797.8,948.5 1798.5,949.5 1799.2,948.8 1799.9,947.2 1800.6,949.9 1801.3,949.4 1802.0,949.6 1802.7,949.5 1803.4,948.5 1804.1,950.0 1804.8,949.4 1805.5,949.5 1806.2,949.1 1806.9,951.1 1807.6,949.7 1808.3,951.1 1809.0,950.4 1809.7,948.1 1810.4,950.1 1811.1,950.5 1811.8,949.3 1812.5,948.2 1813.2,950.7 1813.9,949.6 1814.6,948.5 1815.3,950.6 1816.0,950.5 1816.6,952.1 1817.3,949.8 1818.0,950.4 1818.7,950.0 1819.4,951.1 1820.1,950.0 1820.8,949.4 1821.5,949.9 1822.2,949.8 1822.9,951.7 1823.6,951.4 1824.3,951.6 1825.0,949.3 1825.7,951.2 1826.4,950.3 1827.1,949.2 1827.8,952.0 1828.5,950.0 1829.2,951.0 1829.9,951.6 1830.6,948.4 1831.3,948.1 1832.0,950.8 1832.7,948.6 1833.4,950.7 1834.1,948.2 1834.8,948.6 1835.5,951.5 1836.2,951.2 1836.9,950.2 1837.6,950.5 1838.3,948.5 1839.0,949.4 1839.7,947.6 1840.4,951.7 1841.1,950.0 1841.8,947.7 1842.5,948.9 1843.2,951.5 1843.9,950.3 1844.6,950.3 1845.3,949.7 1846.0,948.6 1846.7,947.3 1847.4,949.7 1848.1,949.3 1848.8,950.0 1849.5,948.9 1850.2,948.4 1850.9,947.8 1851.6,947.8 1852.3,949.0 1853.0,950.7 1853.7,947.6 1854.4,949.1 1855.1,949.6 1855.8,947.3 1856.5,948.6 1857.2,948.3 1857.9,948.4 1858.6,948.6 1859.3,948.1 1860.0,948.0 1860.7,945.6 1861.4,948.0 1862.1,948.9 1862.8,948.4 1863.5,949.3 1864.2,949.8 1864.9,948.3 1865.6,945.6 1866.2,948.4 1866.9,948.2 1867.6,946.2 1868.3,945.6 1869.0,946.2 1869.7,947.6 1870.4,946.0 1871.1,946.6 1871.8,945.0 1872.5,944.1 1873.2,944.4 1873.9,944.7 1874.6,943.6 1875.3,943.2 1876.0,943.2 1876.7,944.5 1877.4,946.1 1878.1,944.6 1878.8,943.4 1879.5,940.7 1880.2,943.6 1880.9,941.5 1881.6,940.4 1882.3,939.8 1883.0,941.0 1883.7,939.2 1884.4,940.0 1885.1,941.5 1885.8,941.1 1886.5,939.1 1887.2,937.7 1887.9,938.1 1888.6,939.9 1889.3,939.2 1890.0,939.6 1890.7,936.3 1891.4,938.2 1892.1,938.8 1892.8,937.2 1893.5,936.2 1894.2,936.1 1894.9,935.1 1895.6,933.6 1896.3,936.6 1897.0,933.5 1897.7,935.1 1898.4,933.7 1899.1,933.0 1899.8,935.3 1900.5,932.9 1901.2,931.1 1901.9,934.2 1902.6,934.7 1903.3,934.6 1904.0,933.7 1904.7,934.4 1905.4,932.2 1906.1,933.4 1906.8,932.7 1907.5,930.9 1908.2,932.7 1908.9,932.7 1909.6,931.3 1910.3,930.1 1911.0,931.6 1911.7,931.8 1912.4,931.1 1913.1,932.0 1913.8,932.3 1914.5,932.8 1915.2,932.4 1915.9,933.0 1916.5,930.5 1917.2,932.9 1917.9,931.6 1918.6,929.9 1919.3,932.3 1920.0,931.7 1920.7,931.7 1921.4,933.9 1922.1,934.1 1922.8,933.9 1923.5,933.2 1924.2,932.1 1924.9,932.4 1925.6,929.5 1926.3,932.1 1927.0,931.4 1927.7,934.2 1928.4,930.3 1929.1,932.2 1929.8,932.0 1930.5,934.9 1931.2,931.2 1931.9,932.2 1932.6,931.2 1933.3,932.0 1934.0,931.2 1934.7,932.4 1935.4,930.6 1936.1,933.3 1936.8,932.1 1937.5,932.4 1938.2,932.0 1938.9,931.9 1939.6,931.4 1940.3,930.4 1941.0,931.0 1941.7,929.4 1942.4,931.4 1943.1,930.0 1943.8,929.5 1944.5,929.5 1945.2,928.6 1945.9,931.1 1946.6,928.9 1947.3,930.0 1948.0,930.4 1948.7,930.7 1949.4,930.9 1950.1,929.0 1950.8,929.0 1951.5,930.3 1952.2,930.8 1952.9,929.1 1953.6,931.1 1954.3,931.6 1955.0,931.4 1955.7,930.8 1956.4,932.2 1957.1,932.1 1957.8,929.4 1958.5,933.9 1959.2,932.4 1959.9,934.8 1960.6,932.7 1961.3,933.1 1962.0,931.8 1962.7,935.0 1963.4,934.5 1964.1,935.1 1964.8,934.4 1965.5,934.8 1966.1,935.2 1966.8,934.8 1967.5,936.2 1968.2,937.7 1968.9,938.0 1969.6,936.8 1970.3,938.2 1971.0,938.8 1971.7,938.0 1972.4,940.8 1973.1,940.5 1973.8,939.1 1974.5,942.1 1975.2,939.6 1975.9,942.2 1976.6,942.3 1977.3,940.2 1978.0,942.9 1978.7,943.8 1979.4,941.5 1980.1,942.8 1980.8,943.0 1981.5,942.7 1982.2,944.0 1982.9,942.9 1983.6,944.3 1984.3,944.5 1985.0,943.1 1985.7,945.4 1986.4,944.7 1987.1,944.9 1987.8,946.6 1988.5,945.5 1989.2,945.2 1989.9,946.4 1990.6,946.8 1991.3,947.1 1992.0,945.8 1992.7,946.9 1993.4,947.4 1994.1,945.2 1994.8,949.8 1995.5,947.7 1996.2,949.8 1996.9,948.2 1997.6,946.0 1998.3,948.1 1999.0,949.2 1999.7,947.6 2000.4,948.4 2001.1,948.7 2001.8,949.0 2002.5,949.2 2003.2,951.1 2003.9,949.1 2004.6,948.5 2005.3,949.1 2006.0,948.3 2006.7,949.2 2007.4,949.4 2008.1,949.1 2008.8,949.6 2009.5,949.2 2010.2,949.1 2010.9,950.3 2011.6,947.6 2012.3,948.7 2013.0,949.4 2013.7,949.4 2014.4,950.9 2015.1,951.2 2015.8,950.1 2016.4,948.4 2017.1,950.0 2017.8,948.2 2018.5,949.0 2019.2,948.4 2019.9,947.4 2020.6,947.8 2021.3,949.9 2022.0,949.7 2022.7,947.3 2023.4,949.0 2024.1,949.1 2024.8,949.7 2025.5,949.3 2026.2,949.6 2026.9,948.8 2027.6,950.4 2028.3,949.9 2029.0,947.5 2029.7,947.7 2030.4,949.4 2031.1,949.7 2031.8,948.6 2032.5,948.0 2033.2,949.5 2033.9,947.9 2034.6,948.8 2035.3,948.3 2036.0,948.8 2036.7,946.7 2037.4,948.2 2038.1,949.5 2038.8,948.4 2039.5,947.2 2040.2,951.1 2040.9,947.6 2041.6,946.4 2042.3,946.5 2043.0,947.0 2043.7,947.7 2044.4,945.1 2045.1,947.4 2045.8,949.1 2046.5,946.9 2047.2,948.6 2047.9,948.9 2048.6,947.7 2049.3,947.7 2050.0,948.4 2050.7,947.0 2051.4,947.7 2052.1,949.1 2052.8,946.0 2053.5,947.6 2054.2,947.6 2054.9,949.7 2055.6,948.5 2056.3,947.6 2057.0,948.4 2057.7,946.1 2058.4,947.6 2059.1,946.0 2059.8,946.9 2060.5,946.1 2061.2,947.6 2061.9,949.1 2062.6,948.3 2063.3,946.7 2064.0,944.9 2064.7,948.4 2065.4,946.7 2066.0,945.8 2066.7,946.1 2067.4,947.5 2068.1,948.1 2068.8,946.1 2069.5,945.6 2070.2,945.7 2070.9,945.4 2071.6,943.6 2072.3,943.7 2073.0,943.7 2073.7,944.3 2074.4,945.2 2075.1,943.1 2075.8,944.5 2076.5,945.1 2077.2,941.8 2077.9,943.4 2078.6,942.7 2079.3,943.9 2080.0,943.4 2080.7,942.4 2081.4,944.6 2082.1,942.0 2082.8,942.4 2083.5,943.3 2084.2,943.9 2084.9,941.2 2085.6,944.0 2086.3,942.6 2087.0,940.4 2087.7,939.2 2088.4,942.8 2089.1,940.2 2089.8,940.1 2090.5,940.3 2091.2,938.9 2091.9,940.6 2092.6,937.5 2093.3,938.6 2094.0,937.2 2094.7,937.4 2095.4,938.8 2096.1,936.9 2096.8,938.3 2097.5,936.3 2098.2,937.8 2098.9,934.4 2099.6,935.4 2100.3,937.1 2101.0,935.6 2101.7,934.7 2102.4,935.2 2103.1,934.0 2103.8,933.6 2104.5,933.5 2105.2,931.0 2105.9,932.6 2106.6,934.2 2107.3,932.4 2108.0,930.3 2108.7,932.6 2109.4,928.7 2110.1,929.1 2110.8,931.2 2111.5,930.3 2112.2,929.7 2112.9,930.1 2113.6,929.7 2114.3,928.0 2115.0,927.5 2115.6,926.8 2116.3,927.7 2117.0,928.4 2117.7,928.0 2118.4,925.5 2119.1,926.4 2119.8,927.7 2120.5,922.9 2121.2,925.8 2121.9,926.2 2122.6,925.9 2123.3,922.5 2124.0,925.4 2124.7,924.7 2125.4,923.7 2126.1,924.8 2126.8,924.7 2127.5,923.5 2128.2,923.0 2128.9,923.6 2129.6,925.5 2130.3,923.6 2131.0,922.6 2131.7,923.6 2132.4,922.7 2133.1,924.1 2133.8,925.4 2134.5,924.3 2135.2,924.1 2135.9,924.6 2136.6,923.5 2137.3,924.0 2138.0,924.0 2138.7,925.5 2139.4,925.4 2140.1,925.6 2140.8,928.4 2141.5,926.9 2142.2,928.0 2142.9,927.0 2143.6,925.0 2144.3,928.3 2145.0,925.9 2145.7,928.0 2146.4,926.0 2147.1,928.1 2147.8,929.0 2148.5,932.3 2149.2,929.2 2149.9,931.0 2150.6,929.9 2151.3,931.0 2152.0,929.9 2152.7,931.5 2153.4,930.6 2154.1,931.2 2154.8,931.9 2155.5,932.6 2156.2,934.4 2156.9,934.9 2157.6,932.7 2158.3,932.4 2159.0,934.8 2159.7,935.5 2160.4,934.9 2161.1,936.0 2161.8,936.5 2162.5,935.3 2163.2,934.9 2163.9,938.5 2164.6,938.7 2165.3,936.5 2165.9,938.1 2166.6,937.8 2167.3,938.3 2168.0,937.9 2168.7,937.3 2169.4,938.3 2170.1,940.9 2170.8,939.9 2171.5,938.9 2172.2,942.2 2172.9,939.6 2173.6,941.1 2174.3,939.1 2175.0,941.6 2175.7,942.4 2176.4,940.8 2177.1,941.9 2177.8,940.7 2178.5,943.0 2179.2,943.8 2179.9,943.3 2180.6,943.2 2181.3,944.3 2182.0,944.1 2182.7,945.3 2183.4,944.8 2184.1,945.9 2184.8,942.9 2185.5,944.6 2186.2,942.9 2186.9,944.7 2187.6,945.8 2188.3,946.1 2189.0,945.0 2189.7,945.9 2190.4,945.3 2191.1,945.9 2191.8,947.7 2192.5,947.4 2193.2,946.9 2193.9,947.6 2194.6,947.2 2195.3,945.3 2196.0,946.9 2196.7,947.6 2197.4,946.6 2198.1,947.7 2198.8,946.8 2199.5,949.0 2200.2,947.0 2200.9,949.0 2201.6,948.3 2202.3,947.0 2203.0,948.2 2203.7,948.6 2204.4,946.8 2205.1,948.3 2205.8,948.7 2206.5,947.0 2207.2,948.4 2207.9,948.1 2208.6,946.9 2209.3,948.5 2210.0,951.1 2210.7,948.0 2211.4,949.0 2212.1,947.1 2212.8,950.1 2213.5,948.9 2214.2,949.7 2214.9,948.9 2215.5,949.8 2216.2,948.5 2216.9,949.9 2217.6,949.7 2218.3,949.8 2219.0,947.8 2219.7,949.1 2220.4,948.7 2221.1,951.0 2221.8,950.1 2222.5,948.5 2223.2,948.3 2223.9,949.0 2224.6,947.9 2225.3,948.1 2226.0,948.3 2226.7,947.7 2227.4,950.7 2228.1,947.1 2228.8,948.3 2229.5,951.3 2230.2,948.8 2230.9,949.3 2231.6,949.8 2232.3,947.4 2233.0,949.2 2233.7,950.1 2234.4,947.1 2235.1,951.8 2235.8,951.1 2236.5,948.3 2237.2,949.2 2237.9,950.8 2238.6,949.2 2239.3,949.6 2240.0,950.4 2240.7,947.8 2241.4,950.5 2242.1,950.6 2242.8,949.9 2243.5,949.3 2244.2,950.6 2244.9,948.8 2245.6,949.6 2246.3,948.9 2247.0,947.3 2247.7,949.4 2248.4,949.1 2249.1,949.0 2249.8,949.3 2250.5,948.4 2251.2,948.1 2251.9,948.9 2252.6,949.7 2253.3,948.3 2254.0,950.1 2254.7,948.2 2255.4,948.9 2256.1,949.3 2256.8,948.4 2257.5,949.6 2258.2,947.8 2258.9,949.5 2259.6,948.4 2260.3,950.2 2261.0,948.6 2261.7,950.2 2262.4,948.9 2263.1,950.7 2263.8,949.6 2264.5,950.5 2265.2,950.0 2265.8,950.2 2266.5,950.1 2267.2,948.9 2267.9,950.4 2268.6,950.3 2269.3,949.8 2270.0,951.7 2270.7,949.4 2271.4,951.3 2272.1,949.0 2272.8,950.2 2273.5,948.6 2274.2,951.5 2274.9,950.8 2275.6,949.1 2276.3,951.8 2277.0,951.3 2277.7,950.7 2278.4,951.1 2279.1,949.8 2279.8,951.9 2280.5,948.2 2281.2,951.1 2281.9,950.2 2282.6,950.2 2283.3,950.1 2284.0,950.5 2284.7,951.2 2285.4,951.1 2286.1,951.5 2286.8,951.6 2287.5,951.8" fill="none" stroke="#ff0000" stroke-width="7" stroke-linejoin="round" stroke-linecap="butt" shape-rendering="crispEdges"/>
<polyline points="194.0,752.2 195.2,752.2 195.9,751.6 196.6,752.0 197.3,752.4 198.0,752.9 198.7,752.5 199.4,754.8 200.1,752.6 200.8,753.2 201.5,752.5 202.2,752.1 202.9,752.7 203.6,753.8 204.3,751.6 205.0,750.3 205.7,751.6 206.4,753.5 207.1,751.5 207.8,752.9 208.5,754.1 209.2,753.1 209.9,750.2 210.6,752.7 211.3,751.6 212.0,752.0 212.7,750.9 213.4,752.4 214.1,753.0 214.8,751.6 215.5,750.6 216.2,750.8 216.9,753.8 217.6,751.8 218.3,751.2 219.0,752.7 219.6,751.1 220.3,751.5 221.0,750.7 221.7,752.2 222.4,751.8 223.1,753.3 223.8,751.7 224.5,751.2 225.2,750.7 225.9,752.4 226.6,751.1 227.3,751.9 228.0,751.4 228.7,753.7 229.4,751.0 230.1,750.5 230.8,752.3 231.5,752.0 232.2,751.9 232.9,753.2 233.6,753.2 234.3,753.1 235.0,754.5 235.7,752.0 236.4,753.8 237.1,752.1 237.8,753.3 238.5,749.9 239.2,752.3 239.9,753.5 240.6,754.0 241.3,753.0 242.0,751.9 242.7,754.2 243.4,754.9 244.1,751.1 244.8,753.2 245.5,753.6 246.2,753.5 246.9,751.4 247.6,753.3 248.3,753.0 249.0,752.5 249.7,753.7 250.4,753.7 251.1,752.2 251.8,754.2 252.5,751.4 253.2,754.7 253.9,751.3 254.6,753.9 255.3,751.2 256.0,753.0 256.7,753.3 257.4,751.7 258.1,753.2 258.8,751.4 259.5,751.9 260.2,752.7 260.9,752.7 261.6,753.0 262.3,753.2 263.0,755.5 263.7,753.5 264.4,752.7 265.1,752.6 265.8,752.5 266.5,752.8 267.2,751.8 267.9,754.2 268.6,752.7 269.3,751.3 269.9,751.4 270.6,753.0 271.3,752.4 272.0,751.2 272.7,750.8 273.4,750.7 274.1,752.0 274.8,751.1 275.5,749.6 276.2,751.7 276.9,748.4 277.6,750.2 278.3,752.5 279.0,751.6 279.7,748.3 280.4,749.8 281.1,749.5 281.8,751.3 282.5,750.6 283.2,751.5 283.9,750.7 284.6,750.6 285.3,748.7 286.0,749.2 286.7,749.1 287.4,748.0 288.1,750.9 288.8,749.8 289.5,747.3 290.2,750.2 290.9,748.2 291.6,749.8 292.3,748.3 293.0,747.7 293.7,747.6 294.4,747.0 295.1,747.9 295.8,746.7 296.5,749.0 297.2,747.5 297.9,748.0 298.6,748.5 299.3,746.7 300.0,746.1 300.7,749.6 301.4,745.6 302.1,746.4 302.8,747.6 303.5,747.3 304.2,746.2 304.9,744.9 305.6,747.3 306.3,746.3 307.0,745.2 307.7,744.8 308.4,745.5 309.1,745.5 309.8,743.8 310.5,743.4 311.2,743.6 311.9,739.8 312.6,743.7 313.3,740.2 314.0,740.8 314.7,741.2 315.4,739.9 316.1,740.9 316.8,741.3 317.5,738.6 318.2,738.8 318.9,738.0 319.5,738.1 320.2,736.2 320.9,735.3 321.6,734.5 322.3,734.1 323.0,734.3 323.7,731.2 324.4,732.3 325.1,730.4 325.8,729.3 326.5,726.6 327.2,726.5 327.9,727.6 328.6,724.7 329.3,725.8 330.0,721.9 330.7,720.2 331.4,720.6 332.1,717.8 332.8,718.0 333.5,717.0 334.2,714.8 334.9,712.6 335.6,709.7 336.3,709.2 337.0,707.1 337.7,703.9 338.4,701.5 339.1,698.4 339.8,696.3 340.5,693.0 341.2,689.4 341.9,686.5 342.6,682.7 343.3,678.3 344.0,673.5 344.7,668.4 345.4,664.4 346.1,658.0 346.8,653.2 347.5,646.2 348.2,640.6 348.9,631.5 349.6,623.6 350.3,615.8 351.0,606.8 351.7,596.9 352.4,586.9 353.1,576.7 353.8,564.6 354.5,551.0 355.2,538.7 355.9,527.7 356.6,511.2 357.3,496.8 358.0,481.0 358.7,464.7 359.4,448.0 360.1,431.6 360.8,412.4 361.5,393.2 362.2,374.7 362.9,355.9 363.6,334.0 364.3,317.9 365.0,295.4 365.7,278.0 366.4,260.8 367.1,242.6 367.8,226.4 368.5,210.8 369.1,196.3 369.8,187.4 370.5,179.7 371.2,169.8 371.9,165.1 372.6,163.3 373.3,164.4 374.0,168.0 374.7,175.6 375.4,182.6 376.1,196.0 376.8,206.5 377.5,220.7 378.2,237.9 378.9,255.9 379.6,273.7 380.3,293.2 381.0,311.8 381.7,331.1 382.4,351.0 383.1,369.6 383.8,389.1 384.5,408.1 385.2,424.8 385.9,446.2 386.6,459.4 387.3,477.7 388.0,494.2 388.7,508.9 389.4,524.3 390.1,537.0 390.8,549.1 391.5,562.2 392.2,574.4 392.9,585.9 393.6,594.4 394.3,605.0 395.0,613.2 395.7,620.3 396.4,627.2 397.1,635.9 397.8,642.4 398.5,647.5 399.2,656.1 399.9,662.2 400.6,667.1 401.3,669.9 402.0,674.9 402.7,678.4 403.4,683.5 404.1,687.0 404.8,690.6 405.5,693.4 406.2,698.1 406.9,699.7 407.6,702.1 408.3,704.6 409.0,708.6 409.7,708.7 410.4,711.6 411.1,711.8 411.8,715.5 412.5,716.1 413.2,715.7 413.9,720.0 414.6,718.7 415.3,720.2 416.0,723.0 416.7,724.2 417.4,724.5 418.1,725.3 418.8,725.9 419.4,726.9 420.1,727.2 420.8,727.6 421.5,730.4 422.2,729.6 422.9,731.8 423.6,732.7 424.3,732.4 425.0,732.6 425.7,731.5 426.4,732.2 427.1,732.6 427.8,733.3 428.5,735.1 429.2,733.4 429.9,735.8 430.6,736.7 431.3,736.5 432.0,737.3 432.7,733.9 433.4,737.0 434.1,737.7 434.8,737.8 435.5,738.0 436.2,738.0 436.9,738.0 437.6,738.4 438.3,739.7 439.0,737.7 439.7,738.6 440.4,739.9 441.1,738.9 441.8,739.1 442.5,738.1 443.2,738.4 443.9,739.6 444.6,737.0 445.3,738.4 446.0,739.8 446.7,739.8 447.4,740.0 448.1,740.4 448.8,738.1 449.5,738.2 450.2,739.8 450.9,738.8 451.6,738.4 452.3,740.2 453.0,740.9 453.7,741.2 454.4,740.7 455.1,740.3 455.8,742.6 456.5,740.5 457.2,740.5 457.9,740.6 458.6,741.1 459.3,741.1 460.0,741.7 460.7,740.9 461.4,742.2 462.1,742.8 462.8,742.8 463.5,742.4 464.2,742.2 464.9,744.6 465.6,743.2 466.3,745.0 467.0,745.7 467.7,741.9 468.4,745.1 469.0,744.5 469.7,743.5 470.4,745.4 471.1,745.7 471.8,745.5 472.5,746.1 473.2,745.4 473.9,745.6 474.6,747.5 475.3,746.4 476.0,745.1 476.7,743.9 477.4,745.7 478.1,745.0 478.8,745.7 479.5,747.4 480.2,746.6 480.9,746.7 481.6,747.3 482.3,749.7 483.0,749.7 483.7,748.5 484.4,748.0 485.1,749.1 485.8,747.6 486.5,747.6 487.2,749.0 487.9,748.6 488.6,749.0 489.3,749.6 490.0,749.7 490.7,750.4 491.4,749.0 492.1,750.1 492.8,750.4 493.5,751.2 494.2,750.5 494.9,749.5 495.6,748.4 496.3,750.4 497.0,749.3 497.7,750.8 498.4,751.2 499.1,750.2 499.8,751.6 500.5,752.0 501.2,750.4 501.9,751.3 502.6,751.1 503.3,749.3 504.0,750.7 504.7,751.9 505.4,751.5 506.1,752.3 506.8,750.3 507.5,751.0 508.2,750.5 508.9,750.9 509.6,750.8 510.3,751.6 511.0,751.8 511.7,751.8 512.4,750.9 513.1,751.8 513.8,750.7 514.5,751.6 515.2,752.9 515.9,753.1 516.6,752.0 517.3,750.3 518.0,752.0 518.7,753.5 519.3,752.5 520.0,752.1 520.7,751.7 521.4,751.3 522.1,750.2 522.8,751.0 523.5,750.3 524.2,751.7 524.9,751.9 525.6,750.6 526.3,749.9 527.0,749.7 527.7,750.3 528.4,751.0 529.1,750.3 529.8,747.2 530.5,749.2 531.2,751.6 531.9,749.6 532.6,749.5 533.3,749.4 534.0,748.2 534.7,746.8 535.4,749.6 536.1,746.4 536.8,748.9 537.5,748.2 538.2,748.2 538.9,746.5 539.6,748.2 540.3,746.8 541.0,746.6 541.7,746.8 542.4,747.4 543.1,746.9 543.8,747.5 544.5,748.7 545.2,748.0 545.9,746.7 546.6,748.4 547.3,746.8 548.0,746.5 548.7,748.9 549.4,747.4 550.1,746.1 550.8,748.1 551.5,747.6 552.2,748.0 552.9,747.7 553.6,745.9 554.3,746.7 555.0,748.6 555.7,746.5 556.4,746.7 557.1,746.6 557.8,746.5 558.5,747.8 559.2,747.6 559.9,747.5 560.6,747.4 561.3,746.8 562.0,748.2 562.7,748.8 563.4,748.3 564.1,746.7 564.8,748.0 565.5,747.8 566.2,747.3 566.9,746.4 567.6,747.1 568.3,747.8 568.9,747.2 569.6,746.8 570.3,747.6 571.0,747.5 571.7,746.9 572.4,748.5 573.1,748.7 573.8,748.5 574.5,746.9 575.2,749.6 575.9,749.4 576.6,747.0 577.3,748.5 578.0,750.1 578.7,750.2 579.4,746.7 580.1,748.7 580.8,748.7 581.5,749.3 582.2,749.9 582.9,751.4 583.6,750.5 584.3,750.7 585.0,749.6 585.7,751.4 586.4,751.0 587.1,750.6 587.8,751.4 588.5,750.6 589.2,749.5 589.9,749.9 590.6,752.6 591.3,751.5 592.0,751.5 592.7,754.1 593.4,750.6 594.1,751.3 594.8,751.2 595.5,750.8 596.2,752.2 596.9,751.9 597.6,752.6 598.3,749.7 599.0,753.1 599.7,753.3 600.4,753.7 601.1,752.4 601.8,753.1 602.5,752.0 603.2,750.9 603.9,755.0 604.6,753.3 605.3,753.2 606.0,754.1 606.7,751.8 607.4,752.3 608.1,754.9 608.8,753.7 609.5,755.4 610.2,753.6 610.9,755.2 611.6,753.3 612.3,753.6 613.0,753.1 613.7,754.1 614.4,753.5 615.1,752.5 615.8,752.8 616.5,754.5 617.2,752.8 617.9,753.6 618.6,752.9 619.2,754.5 619.9,753.8 620.6,755.6 621.3,754.5 622.0,755.1 622.7,753.2 623.4,755.0 624.1,751.9 624.8,755.2 625.5,754.3 626.2,755.2 626.9,752.3 627.6,754.0 628.3,752.2 629.0,753.7 629.7,753.4 630.4,752.9 631.1,752.2 631.8,754.6 632.5,754.7 633.2,753.8 633.9,754.9 634.6,754.1 635.3,753.8 636.0,753.6 636.7,755.4 637.4,753.6 638.1,754.5 638.8,754.2 639.5,753.6 640.2,754.9 640.9,753.0 641.6,754.8 642.3,751.9 643.0,753.2 643.7,753.8 644.4,754.6 645.1,755.3 645.8,753.5 646.5,754.4 647.2,753.7 647.9,754.5 648.6,755.4 649.3,756.3 650.0,755.2 650.7,755.2 651.4,753.1 652.1,754.6 652.8,753.6 653.5,754.1 654.2,755.6 654.9,754.3 655.6,753.9 656.3,753.4 657.0,754.4 657.7,754.4 658.4,756.0 659.1,753.8 659.8,755.4 660.5,756.2 661.2,754.1 661.9,752.4 662.6,754.1 663.3,756.1 664.0,754.3 664.7,754.7 665.4,755.7 666.1,754.5 666.8,752.0 667.5,756.0 668.2,753.2 668.8,755.1 669.5,755.0 670.2,754.8 670.9,752.9 671.6,755.5 672.3,754.2 673.0,751.7 673.7,753.8 674.4,753.7 675.1,755.0 675.8,753.0 676.5,752.8 677.2,755.0 677.9,756.2 678.6,755.1 679.3,754.0 680.0,754.3 680.7,754.5 681.4,754.7 682.1,755.7 682.8,753.8 683.5,756.0 684.2,756.4 684.9,754.7 685.6,756.8 686.3,754.7 687.0,754.6 687.7,756.3 688.4,753.3 689.1,756.0 689.8,752.9 690.5,754.0 691.2,754.6 691.9,753.2 692.6,753.2 693.3,752.0 694.0,753.2 694.7,754.0 695.4,753.0 696.1,753.9 696.8,752.5 697.5,753.2 698.2,752.2 698.9,754.1 699.6,751.6 700.3,752.3 701.0,753.0 701.7,750.3 702.4,753.3 703.1,752.4 703.8,752.1 704.5,752.2 705.2,752.4 705.9,751.3 706.6,752.0 707.3,750.4 708.0,751.1 708.7,752.0 709.4,751.0 710.1,752.5 710.8,750.4 711.5,750.5 712.2,751.1 712.9,750.3 713.6,752.7 714.3,752.4 715.0,748.7 715.7,751.5 716.4,750.6 717.1,750.7 717.8,749.9 718.4,751.1 719.1,750.6 719.8,751.2 720.5,749.3 721.2,748.7 721.9,749.5 722.6,748.3 723.3,749.0 724.0,750.9 724.7,749.3 725.4,749.5 726.1,750.8 726.8,750.9 727.5,748.6 728.2,748.4 728.9,748.6 729.6,747.6 730.3,749.1 731.0,748.2 731.7,748.0 732.4,747.9 733.1,747.2 733.8,748.3 734.5,745.9 735.2,746.6 735.9,745.0 736.6,745.4 737.3,745.4 738.0,746.2 738.7,745.7 739.4,747.5 740.1,746.0 740.8,745.2 741.5,744.8 742.2,743.8 742.9,744.8 743.6,745.3 744.3,745.6 745.0,745.6 745.7,742.9 746.4,741.9 747.1,743.2 747.8,742.4 748.5,742.3 749.2,742.7 749.9,741.8 750.6,741.0 751.3,740.1 752.0,738.2 752.7,739.4 753.4,738.1 754.1,738.1 754.8,737.0 755.5,738.0 756.2,735.1 756.9,735.8 757.6,735.2 758.3,735.6 759.0,734.9 759.7,734.0 760.4,731.5 761.1,730.2 761.8,731.4 762.5,729.9 763.2,730.2 763.9,728.8 764.6,727.3 765.3,726.4 766.0,726.1 766.7,724.2 767.4,724.2 768.1,721.6 768.7,720.9 769.4,721.4 770.1,719.2 770.8,718.5 771.5,716.3 772.2,714.9 772.9,714.8 773.6,713.0 774.3,712.9 775.0,710.6 775.7,709.8 776.4,709.4 777.1,706.4 777.8,706.9 778.5,705.0 779.2,703.4 779.9,703.1 780.6,703.3 781.3,700.3 782.0,699.3 782.7,698.5 783.4,696.4 784.1,695.6 784.8,695.3 785.5,695.3 786.2,695.7 786.9,692.9 787.6,692.0 788.3,692.2 789.0,690.7 789.7,691.2 790.4,690.0 791.1,688.5 791.8,688.0 792.5,686.5 793.2,684.3 793.9,683.5 794.6,683.0 795.3,682.4 796.0,680.7 796.7,680.6 797.4,678.3 798.1,676.0 798.8,673.5 799.5,671.0 800.2,667.7 800.9,664.1 801.6,662.1 802.3,662.1 803.0,659.6 803.7,654.6 804.4,651.9 805.1,651.2 805.8,646.2 806.5,645.0 807.2,640.4 807.9,635.9 808.6,636.0 809.3,631.5 810.0,631.4 810.7,628.8 811.4,628.0 812.1,625.8 812.8,625.8 813.5,625.9 814.2,624.3 814.9,626.8 815.6,627.2 816.3,630.3 817.0,631.1 817.7,632.5 818.3,634.4 819.0,636.2 819.7,639.5 820.4,639.7 821.1,642.8 821.8,644.8 822.5,645.4 823.2,649.5 823.9,651.3 824.6,651.7 825.3,655.1 826.0,655.4 826.7,658.2 827.4,659.3 828.1,662.9 828.8,662.8 829.5,663.9 830.2,666.5 830.9,667.8 831.6,669.5 832.3,671.9 833.0,673.0 833.7,674.7 834.4,677.1 835.1,678.9 835.8,677.1 836.5,681.1 837.2,683.2 837.9,685.1 838.6,688.5 839.3,690.4 840.0,691.7 840.7,692.8 841.4,695.7 842.1,696.2 842.8,699.7 843.5,699.5 844.2,705.1 844.9,703.8 845.6,707.2 846.3,707.7 847.0,710.8 847.7,710.6 848.4,714.1 849.1,715.5 849.8,717.7 850.5,719.3 851.2,717.5 851.9,721.8 852.6,723.3 853.3,722.4 854.0,723.4 854.7,726.8 855.4,726.1 856.1,726.6 856.8,727.2 857.5,729.5 858.2,730.8 858.9,733.8 859.6,733.4 860.3,735.4 861.0,734.6 861.7,735.0 862.4,736.8 863.1,737.6 863.8,737.3 864.5,738.5 865.2,739.3 865.9,740.7 866.6,740.6 867.3,741.3 868.0,740.7 868.6,741.1 869.3,743.2 870.0,742.6 870.7,744.0 871.4,742.2 872.1,745.7 872.8,745.6 873.5,744.0 874.2,746.2 874.9,744.6 875.6,747.4 876.3,746.0 877.0,748.5 877.7,745.8 878.4,747.9 879.1,746.8 879.8,748.3 880.5,748.0 881.2,746.4 881.9,748.6 882.6,749.6 883.3,748.5 884.0,749.0 884.7,748.5 885.4,749.6 886.1,748.7 886.8,748.2 887.5,750.0 888.2,749.1 888.9,749.6 889.6,751.0 890.3,750.5 891.0,749.7 891.7,748.6 892.4,749.3 893.1,750.0 893.8,749.4 894.5,750.4 895.2,748.4 895.9,751.3 896.6,750.0 897.3,750.7 898.0,750.4 898.7,751.4 899.4,749.9 900.1,751.4 900.8,749.7 901.5,752.8 902.2,751.0 902.9,752.1 903.6,752.0 904.3,750.2 905.0,752.8 905.7,751.2 906.4,751.0 907.1,751.6 907.8,753.1 908.5,750.6 909.2,753.6 909.9,754.7 910.6,751.9 911.3,753.2 912.0,753.2 912.7,751.4 913.4,753.1 914.1,752.3 914.8,752.8 915.5,751.6 916.2,752.9 916.9,753.7 917.6,754.6 918.2,753.5 918.9,752.5 919.6,755.0 920.3,753.2 921.0,753.6 921.7,755.4 922.4,755.0 923.1,754.3 923.8,753.6 924.5,753.8 925.2,754.5 925.9,753.1 926.6,754.6 927.3,754.3 928.0,754.1 928.7,753.7 929.4,755.5 930.1,754.1 930.8,752.9 931.5,753.1 932.2,753.7 932.9,754.5 933.6,753.2 934.3,754.2 935.0,753.3 935.7,752.2 936.4,753.7 937.1,754.4 937.8,755.0 938.5,753.0 939.2,752.1 939.9,755.0 940.6,752.9 941.3,754.1 942.0,754.9 942.7,754.2 943.4,755.1 944.1,753.4 944.8,754.3 945.5,755.2 946.2,754.4 946.9,753.3 947.6,755.5 948.3,754.3 949.0,755.4 949.7,755.4 950.4,754.4 951.1,755.8 951.8,755.3 952.5,756.8 953.2,752.9 953.9,754.4 954.6,756.1 955.3,754.4 956.0,756.7 956.7,753.8 957.4,754.8 958.1,755.1 958.8,755.1 959.5,755.2 960.2,754.1 960.9,753.7 961.6,755.5 962.3,756.4 963.0,755.9 963.7,755.4 964.4,755.5 965.1,755.5 965.8,753.7 966.5,755.6 967.2,754.4 967.9,755.8 968.5,754.0 969.2,755.8 969.9,754.2 970.6,755.1 971.3,755.1 972.0,754.7 972.7,756.3 973.4,755.7 974.1,756.2 974.8,756.8 975.5,756.9 976.2,756.6 976.9,756.0 977.6,755.2 978.3,757.6 979.0,754.9 979.7,755.2 980.4,756.5 981.1,757.3 981.8,755.4 982.5,756.7 983.2,755.6 983.9,756.5 984.6,757.3 985.3,757.0 986.0,756.1 986.7,756.3 987.4,756.9 988.1,755.7 988.8,755.1 989.5,754.8 990.2,753.7 990.9,756.7 991.6,754.1 992.3,756.7 993.0,754.5 993.7,753.1 994.4,754.7 995.1,755.1 995.8,755.9 996.5,755.7 997.2,755.0 997.9,754.1 998.6,755.3 999.3,754.4 1000.0,754.3 1000.7,755.4 1001.4,756.1 1002.1,757.7 1002.8,754.7 1003.5,754.5 1004.2,754.2 1004.9,754.2 1005.6,755.2 1006.3,756.0 1007.0,755.3 1007.7,757.0 1008.4,757.0 1009.1,754.6 1009.8,754.6 1010.5,755.0 1011.2,755.9 1011.9,755.0 1012.6,754.6 1013.3,755.8 1014.0,757.2 1014.7,756.6 1015.4,755.2 1016.1,755.7 1016.8,756.2 1017.5,754.3 1018.1,755.4 1018.8,756.8 1019.5,757.0 1020.2,755.5 1020.9,755.6 1021.6,755.8 1022.3,754.5 1023.0,758.7 1023.7,756.0 1024.4,756.1 1025.1,758.2 1025.8,756.1 1026.5,757.2 1027.2,756.1 1027.9,754.2 1028.6,755.2 1029.3,757.7 1030.0,755.8 1030.7,756.3 1031.4,754.4 1032.1,755.6 1032.8,755.5 1033.5,756.9 1034.2,756.2 1034.9,754.4 1035.6,756.9 1036.3,754.7 1037.0,756.0 1037.7,755.4 1038.4,756.1 1039.1,756.4 1039.8,753.3 1040.5,753.8 1041.2,754.8 1041.9,754.9 1042.6,754.1 1043.3,754.9 1044.0,755.1 1044.7,755.1 1045.4,755.1 1046.1,755.1 1046.8,755.7 1047.5,754.7 1048.2,753.9 1048.9,756.0 1049.6,755.8 1050.3,756.1 1051.0,756.5 1051.7,755.7 1052.4,754.7 1053.1,754.6 1053.8,752.5 1054.5,753.6 1055.2,753.7 1055.9,752.8 1056.6,756.5 1057.3,753.7 1058.0,754.6 1058.7,754.4 1059.4,754.4 1060.1,755.3 1060.8,753.8 1061.5,753.5 1062.2,754.8 1062.9,753.8 1063.6,752.2 1064.3,753.7 1065.0,754.2 1065.7,753.2 1066.4,754.6 1067.1,754.2 1067.7,754.1 1068.4,752.3 1069.1,754.2 1069.8,753.9 1070.5,755.7 1071.2,753.5 1071.9,754.6 1072.6,754.3 1073.3,754.2 1074.0,754.6 1074.7,754.1 1075.4,752.4 1076.1,754.3 1076.8,754.6 1077.5,754.8 1078.2,752.5 1078.9,753.4 1079.6,755.3 1080.3,755.3 1081.0,754.7 1081.7,754.0 1082.4,751.8 1083.1,753.4 1083.8,752.9 1084.5,753.8 1085.2,753.4 1085.9,752.0 1086.6,753.9 1087.3,752.5 1088.0,750.8 1088.7,751.4 1089.4,750.4 1090.1,749.5 1090.8,751.2 1091.5,750.2 1092.2,751.5 1092.9,751.2 1093.6,752.1 1094.3,749.3 1095.0,748.8 1095.7,749.5 1096.4,751.6 1097.1,748.8 1097.8,749.3 1098.5,750.8 1099.2,749.9 1099.9,749.6 1100.6,747.8 1101.3,748.0 1102.0,748.1 1102.7,746.5 1103.4,747.6 1104.1,748.9 1104.8,745.9 1105.5,749.1 1106.2,747.2 1106.9,747.3 1107.6,747.3 1108.3,745.3 1109.0,745.2 1109.7,746.1 1110.4,746.1 1111.1,744.6 1111.8,745.3 1112.5,746.1 1113.2,743.0 1113.9,745.4 1114.6,745.9 1115.3,744.1 1116.0,742.9 1116.7,744.4 1117.4,743.3 1118.0,742.3 1118.7,742.9 1119.4,742.4 1120.1,739.3 1120.8,740.8 1121.5,738.6 1122.2,739.2 1122.9,737.5 1123.6,737.0 1124.3,736.6 1125.0,736.7 1125.7,736.5 1126.4,735.4 1127.1,734.1 1127.8,734.7 1128.5,733.5 1129.2,732.0 1129.9,732.9 1130.6,730.3 1131.3,728.4 1132.0,729.2 1132.7,726.6 1133.4,723.9 1134.1,723.5 1134.8,723.5 1135.5,721.8 1136.2,722.1 1136.9,716.7 1137.6,717.7 1138.3,712.4 1139.0,711.5 1139.7,713.1 1140.4,709.7 1141.1,705.5 1141.8,703.1 1142.5,701.2 1143.2,698.0 1143.9,696.7 1144.6,693.4 1145.3,688.7 1146.0,686.9 1146.7,682.9 1147.4,681.5 1148.1,677.2 1148.8,672.8 1149.5,669.3 1150.2,664.0 1150.9,662.9 1151.6,658.7 1152.3,653.1 1153.0,649.3 1153.7,643.6 1154.4,639.6 1155.1,635.3 1155.8,630.6 1156.5,627.3 1157.2,622.4 1157.9,616.0 1158.6,610.4 1159.3,608.7 1160.0,606.0 1160.7,599.6 1161.4,596.2 1162.1,592.1 1162.8,591.6 1163.5,586.8 1164.2,585.1 1164.9,583.3 1165.6,583.0 1166.3,580.6 1167.0,583.3 1167.6,584.9 1168.3,584.4 1169.0,586.5 1169.7,588.4 1170.4,591.5 1171.1,594.3 1171.8,598.4 1172.5,605.0 1173.2,606.5 1173.9,612.2 1174.6,618.2 1175.3,621.0 1176.0,625.1 1176.7,629.3 1177.4,633.7 1178.1,638.2 1178.8,642.8 1179.5,647.1 1180.2,652.5 1180.9,656.2 1181.6,659.2 1182.3,663.2 1183.0,668.4 1183.7,671.8 1184.4,677.2 1185.1,679.5 1185.8,683.5 1186.5,684.8 1187.2,689.3 1187.9,692.4 1188.6,694.5 1189.3,697.6 1190.0,698.8 1190.7,702.6 1191.4,703.3 1192.1,705.8 1192.8,710.5 1193.5,713.9 1194.2,713.2 1194.9,714.2 1195.6,717.2 1196.3,718.9 1197.0,722.2 1197.7,719.6 1198.4,723.0 1199.1,725.8 1199.8,724.0 1200.5,727.7 1201.2,730.2 1201.9,731.1 1202.6,732.1 1203.3,731.8 1204.0,731.8 1204.7,732.8 1205.4,733.9 1206.1,736.6 1206.8,734.1 1207.5,737.4 1208.2,738.5 1208.9,736.7 1209.6,737.4 1210.3,741.2 1211.0,738.9 1211.7,738.5 1212.4,740.3 1213.1,741.2 1213.8,741.1 1214.5,738.4 1215.2,742.0 1215.9,742.4 1216.6,741.5 1217.3,741.7 1217.9,741.3 1218.6,743.1 1219.3,745.1 1220.0,745.5 1220.7,745.7 1221.4,746.0 1222.1,746.5 1222.8,746.3 1223.5,745.0 1224.2,747.0 1224.9,745.6 1225.6,746.2 1226.3,748.4 1227.0,745.5 1227.7,750.0 1228.4,748.5 1229.1,747.1 1229.8,748.4 1230.5,748.2 1231.2,749.4 1231.9,750.9 1232.6,749.8 1233.3,749.3 1234.0,749.6 1234.7,751.2 1235.4,749.5 1236.1,750.1 1236.8,751.5 1237.5,749.1 1238.2,750.8 1238.9,751.9 1239.6,752.5 1240.3,750.3 1241.0,749.6 1241.7,750.5 1242.4,750.2 1243.1,752.2 1243.8,750.8 1244.5,750.5 1245.2,751.6 1245.9,750.8 1246.6,751.0 1247.3,751.5 1248.0,751.5 1248.7,751.3 1249.4,751.6 1250.1,751.3 1250.8,748.9 1251.5,752.2 1252.2,748.9 1252.9,754.0 1253.6,750.5 1254.3,752.8 1255.0,752.3 1255.7,752.7 1256.4,752.9 1257.1,753.1 1257.8,753.1 1258.5,753.8 1259.2,753.2 1259.9,754.3 1260.6,753.1 1261.3,754.2 1262.0,753.5 1262.7,754.4 1263.4,753.9 1264.1,753.8 1264.8,754.3 1265.5,754.9 1266.2,753.9 1266.9,756.4 1267.5,755.5 1268.2,752.5 1268.9,752.8 1269.6,754.8 1270.3,754.2 1271.0,753.2 1271.7,752.4 1272.4,755.7 1273.1,755.2 1273.8,753.7 1274.5,753.0 1275.2,755.0 1275.9,755.2 1276.6,756.1 1277.3,753.2 1278.0,753.7 1278.7,753.0 1279.4,754.4 1280.1,751.5 1280.8,753.9 1281.5,756.3 1282.2,753.5 1282.9,753.0 1283.6,753.1 1284.3,752.1 1285.0,752.2 1285.7,753.5 1286.4,754.3 1287.1,752.9 1287.8,753.1 1288.5,753.8 1289.2,752.5 1289.9,750.7 1290.6,753.5 1291.3,753.4 1292.0,752.4 1292.7,752.5 1293.4,754.1 1294.1,754.2 1294.8,754.5 1295.5,751.0 1296.2,752.8 1296.9,754.9 1297.6,753.5 1298.3,751.2 1299.0,751.7 1299.7,753.5 1300.4,753.5 1301.1,752.0 1301.8,752.1 1302.5,750.4 1303.2,754.4 1303.9,752.1 1304.6,752.7 1305.3,752.3 1306.0,750.6 1306.7,754.3 1307.4,752.0 1308.1,752.4 1308.8,752.3 1309.5,752.2 1310.2,751.6 1310.9,751.3 1311.6,750.5 1312.3,751.5 1313.0,749.9 1313.7,750.8 1314.4,749.1 1315.1,749.7 1315.8,750.5 1316.5,750.1 1317.2,748.1 1317.8,748.9 1318.5,750.1 1319.2,749.4 1319.9,750.3 1320.6,749.4 1321.3,749.1 1322.0,748.1 1322.7,748.0 1323.4,748.6 1324.1,747.4 1324.8,747.8 1325.5,750.9 1326.2,746.6 1326.9,747.9 1327.6,746.6 1328.3,748.2 1329.0,745.8 1329.7,745.4 1330.4,745.7 1331.1,745.3 1331.8,746.5 1332.5,745.2 1333.2,744.6 1333.9,743.8 1334.6,742.4 1335.3,744.8 1336.0,743.3 1336.7,742.8 1337.4,743.6 1338.1,743.0 1338.8,742.7 1339.5,740.7 1340.2,739.5 1340.9,737.6 1341.6,738.8 1342.3,737.7 1343.0,737.1 1343.7,735.5 1344.4,733.6 1345.1,732.6 1345.8,731.3 1346.5,732.1 1347.2,730.5 1347.9,729.0 1348.6,726.8 1349.3,725.6 1350.0,725.6 1350.7,722.7 1351.4,723.6 1352.1,721.2 1352.8,720.3 1353.5,717.8 1354.2,716.2 1354.9,715.0 1355.6,712.5 1356.3,711.1 1357.0,709.0 1357.7,707.8 1358.4,704.5 1359.1,704.6 1359.8,700.2 1360.5,695.1 1361.2,695.8 1361.9,692.8 1362.6,691.8 1363.3,690.4 1364.0,688.1 1364.7,684.6 1365.4,683.4 1366.1,678.1 1366.8,676.3 1367.4,674.0 1368.1,671.8 1368.8,667.7 1369.5,665.5 1370.2,665.3 1370.9,662.7 1371.6,661.8 1372.3,657.3 1373.0,657.3 1373.7,654.3 1374.4,654.1 1375.1,652.9 1375.8,650.3 1376.5,651.5 1377.2,650.2 1377.9,649.7 1378.6,649.3 1379.3,648.5 1380.0,649.7 1380.7,647.7 1381.4,649.3 1382.1,648.1 1382.8,649.2 1383.5,649.0 1384.2,651.0 1384.9,648.9 1385.6,649.5 1386.3,650.8 1387.0,651.8 1387.7,653.3 1388.4,653.7 1389.1,653.4 1389.8,654.0 1390.5,654.2 1391.2,653.4 1391.9,654.1 1392.6,652.7 1393.3,652.0 1394.0,651.7 1394.7,652.2 1395.4,651.0 1396.1,650.4 1396.8,650.4 1397.5,648.6 1398.2,648.9 1398.9,649.1 1399.6,646.1 1400.3,645.7 1401.0,643.2 1401.7,644.3 1402.4,640.7 1403.1,639.4 1403.8,638.8 1404.5,637.6 1405.2,638.3 1405.9,634.4 1406.6,636.9 1407.3,635.6 1408.0,636.1 1408.7,634.6 1409.4,634.6 1410.1,636.0 1410.8,635.8 1411.5,637.3 1412.2,636.8 1412.9,639.2 1413.6,640.0 1414.3,641.3 1415.0,643.2 1415.7,645.1 1416.4,647.9 1417.0,649.6 1417.7,651.8 1418.4,653.3 1419.1,656.9 1419.8,658.8 1420.5,661.4 1421.2,665.8 1421.9,667.2 1422.6,670.2 1423.3,674.4 1424.0,677.0 1424.7,677.6 1425.4,681.7 1426.1,683.5 1426.8,687.3 1427.5,688.3 1428.2,691.9 1428.9,695.0 1429.6,698.1 1430.3,698.2 1431.0,699.3 1431.7,703.4 1432.4,705.9 1433.1,705.6 1433.8,709.0 1434.5,712.1 1435.2,713.0 1435.9,714.6 1436.6,716.1 1437.3,715.2 1438.0,716.3 1438.7,717.0 1439.4,721.9 1440.1,718.1 1440.8,723.3 1441.5,722.3 1442.2,722.7 1442.9,724.1 1443.6,725.2 1444.3,728.2 1445.0,728.4 1445.7,729.2 1446.4,728.3 1447.1,729.6 1447.8,732.3 1448.5,732.5 1449.2,734.0 1449.9,732.7 1450.6,733.8 1451.3,736.2 1452.0,735.9 1452.7,736.8 1453.4,737.3 1454.1,738.4 1454.8,738.5 1455.5,739.4 1456.2,740.6 1456.9,741.8 1457.6,739.1 1458.3,743.0 1459.0,740.1 1459.7,743.9 1460.4,742.7 1461.1,742.2 1461.8,743.8 1462.5,741.7 1463.2,744.4 1463.9,744.3 1464.6,745.7 1465.3,745.2 1466.0,745.6 1466.7,745.4 1467.3,747.6 1468.0,747.5 1468.7,746.2 1469.4,747.7 1470.1,747.3 1470.8,748.5 1471.5,749.3 1472.2,748.3 1472.9,747.5 1473.6,748.0 1474.3,748.4 1475.0,749.5 1475.7,747.3 1476.4,750.2 1477.1,747.2 1477.8,748.5 1478.5,750.6 1479.2,751.5 1479.9,749.0 1480.6,751.5 1481.3,750.2 1482.0,749.2 1482.7,750.5 1483.4,750.2 1484.1,749.7 1484.8,751.5 1485.5,749.6 1486.2,751.7 1486.9,750.0 1487.6,750.1 1488.3,751.3 1489.0,750.0 1489.7,751.0 1490.4,749.9 1491.1,751.8 1491.8,751.7 1492.5,751.0 1493.2,751.3 1493.9,752.7 1494.6,750.6 1495.3,752.8 1496.0,752.4 1496.7,753.4 1497.4,752.8 1498.1,750.9 1498.8,753.1 1499.5,752.0 1500.2,752.6 1500.9,752.2 1501.6,750.7 1502.3,751.3 1503.0,753.4 1503.7,753.2 1504.4,754.5 1505.1,752.4 1505.8,752.4 1506.5,751.5 1507.2,754.8 1507.9,753.0 1508.6,754.5 1509.3,752.1 1510.0,755.4 1510.7,754.2 1511.4,754.2 1512.1,754.3 1512.8,753.8 1513.5,753.6 1514.2,753.2 1514.9,755.9 1515.6,755.0 1516.3,755.1 1516.9,755.4 1517.6,755.4 1518.3,755.1 1519.0,753.8 1519.7,756.0 1520.4,755.6 1521.1,754.5 1521.8,752.3 1522.5,754.2 1523.2,754.4 1523.9,752.4 1524.6,753.4 1525.3,754.1 1526.0,752.2 1526.7,753.9 1527.4,754.6 1528.1,754.2 1528.8,751.8 1529.5,755.0 1530.2,752.6 1530.9,753.2 1531.6,755.2 1532.3,754.6 1533.0,754.3 1533.7,753.8 1534.4,754.5 1535.1,753.7 1535.8,755.0 1536.5,755.3 1537.2,754.8 1537.9,755.4 1538.6,754.8 1539.3,755.0 1540.0,755.8 1540.7,754.4 1541.4,755.7 1542.1,755.5 1542.8,758.0 1543.5,755.3 1544.2,755.6 1544.9,754.2 1545.6,757.9 1546.3,755.3 1547.0,754.2 1547.7,755.4 1548.4,755.4 1549.1,755.1 1549.8,754.3 1550.5,755.0 1551.2,756.6 1551.9,754.1 1552.6,756.6 1553.3,755.1 1554.0,754.0 1554.7,755.7 1555.4,756.7 1556.1,754.9 1556.8,754.7 1557.5,756.5 1558.2,756.7 1558.9,755.0 1559.6,755.0 1560.3,752.7 1561.0,755.2 1561.7,752.7 1562.4,753.1 1563.1,754.1 1563.8,754.1 1564.5,754.1 1565.2,753.4 1565.9,754.7 1566.6,754.3 1567.2,753.7 1567.9,753.2 1568.6,753.7 1569.3,754.2 1570.0,753.5 1570.7,754.0 1571.4,754.2 1572.1,755.4 1572.8,753.8 1573.5,752.1 1574.2,752.9 1574.9,754.8 1575.6,751.1 1576.3,751.2 1577.0,753.1 1577.7,754.8 1578.4,754.8 1579.1,755.4 1579.8,752.9 1580.5,754.6 1581.2,754.3 1581.9,755.2 1582.6,754.4 1583.3,755.0 1584.0,755.5 1584.7,755.2 1585.4,752.8 1586.1,753.7 1586.8,753.4 1587.5,753.9 1588.2,753.9 1588.9,755.5 1589.6,754.6 1590.3,752.8 1591.0,754.9 1591.7,754.9 1592.4,751.8 1593.1,755.4 1593.8,754.8 1594.5,753.3 1595.2,753.6 1595.9,752.3 1596.6,754.0 1597.3,753.8 1598.0,753.9 1598.7,752.7 1599.4,752.3 1600.1,754.8 1600.8,754.8 1601.5,751.1 1602.2,751.4 1602.9,753.4 1603.6,753.1 1604.3,754.1 1605.0,752.2 1605.7,751.9 1606.4,751.3 1607.1,753.2 1607.8,752.7 1608.5,751.4 1609.2,752.4 1609.9,750.3 1610.6,749.9 1611.3,752.1 1612.0,752.5 1612.7,751.7 1613.4,750.9 1614.1,751.8 1614.8,747.6 1615.5,751.1 1616.2,748.9 1616.8,751.0 1617.5,751.5 1618.2,751.8 1618.9,751.5 1619.6,751.8 1620.3,750.9 1621.0,750.9 1621.7,749.4 1622.4,750.9 1623.1,750.2 1623.8,749.5 1624.5,748.6 1625.2,748.2 1625.9,747.7 1626.6,748.7 1627.3,749.4 1628.0,748.1 1628.7,749.3 1629.4,746.9 1630.1,750.2 1630.8,747.4 1631.5,746.9 1632.2,746.4 1632.9,745.6 1633.6,745.6 1634.3,745.1 1635.0,745.7 1635.7,745.8 1636.4,744.3 1637.1,742.9 1637.8,745.9 1638.5,744.1 1639.2,743.9 1639.9,743.0 1640.6,743.2 1641.3,742.0 1642.0,740.3 1642.7,740.9 1643.4,737.3 1644.1,740.2 1644.8,736.9 1645.5,737.1 1646.2,735.6 1646.9,735.2 1647.6,733.5 1648.3,733.6 1649.0,734.2 1649.7,731.8 1650.4,729.6 1651.1,731.4 1651.8,728.7 1652.5,729.0 1653.2,726.6 1653.9,726.2 1654.6,724.5 1655.3,723.9 1656.0,721.5 1656.7,721.8 1657.4,720.1 1658.1,716.7 1658.8,715.3 1659.5,714.0 1660.2,714.2 1660.9,712.0 1661.6,711.0 1662.3,707.5 1663.0,708.0 1663.7,704.3 1664.4,704.6 1665.1,701.8 1665.8,700.1 1666.5,699.7 1667.1,699.7 1667.8,696.1 1668.5,695.1 1669.2,695.7 1669.9,692.9 1670.6,692.3 1671.3,690.9 1672.0,691.1 1672.7,689.3 1673.4,688.3 1674.1,687.3 1674.8,685.7 1675.5,683.7 1676.2,683.5 1676.9,683.4 1677.6,681.7 1678.3,681.8 1679.0,681.6 1679.7,679.7 1680.4,681.1 1681.1,680.8 1681.8,679.6 1682.5,679.9 1683.2,680.8 1683.9,678.6 1684.6,679.8 1685.3,682.5 1686.0,680.9 1686.7,683.4 1687.4,683.0 1688.1,683.8 1688.8,684.8 1689.5,684.6 1690.2,684.7 1690.9,687.2 1691.6,690.0 1692.3,689.6 1693.0,691.9 1693.7,690.9 1694.4,694.5 1695.1,695.7 1695.8,698.6 1696.5,698.1 1697.2,699.4 1697.9,700.0 1698.6,703.6 1699.3,705.0 1700.0,707.9 1700.7,707.3 1701.4,709.3 1702.1,710.9 1702.8,712.9 1703.5,712.4 1704.2,714.0 1704.9,716.5 1705.6,716.2 1706.3,718.3 1707.0,719.3 1707.7,720.6 1708.4,720.5 1709.1,719.1 1709.8,723.3 1710.5,723.0 1711.2,725.7 1711.9,726.4 1712.6,725.1 1713.3,726.7 1714.0,727.8 1714.7,729.8 1715.4,730.2 1716.1,730.6 1716.7,729.9 1717.4,733.0 1718.1,733.9 1718.8,733.4 1719.5,736.2 1720.2,737.0 1720.9,734.4 1721.6,737.6 1722.3,737.5 1723.0,738.2 1723.7,735.8 1724.4,738.9 1725.1,739.4 1725.8,737.8 1726.5,739.9 1727.2,740.1 1727.9,740.5 1728.6,740.2 1729.3,742.6 1730.0,742.0 1730.7,742.1 1731.4,743.6 1732.1,742.2 1732.8,743.7 1733.5,746.4 1734.2,743.0 1734.9,744.1 1735.6,745.1 1736.3,745.0 1737.0,743.3 1737.7,745.3 1738.4,744.4 1739.1,746.3 1739.8,746.5 1740.5,746.1 1741.2,747.6 1741.9,747.9 1742.6,746.1 1743.3,746.4 1744.0,747.3 1744.7,748.6 1745.4,749.0 1746.1,749.3 1746.8,748.5 1747.5,747.1 1748.2,749.0 1748.9,749.1 1749.6,746.8 1750.3,747.3 1751.0,748.8 1751.7,751.3 1752.4,749.7 1753.1,750.4 1753.8,749.0 1754.5,747.7 1755.2,751.5 1755.9,749.4 1756.6,751.3 1757.3,749.6 1758.0,752.4 1758.7,750.5 1759.4,750.2 1760.1,749.8 1760.8,752.3 1761.5,751.1 1762.2,751.8 1762.9,751.7 1763.6,751.2 1764.3,752.2 1765.0,750.7 1765.7,752.8 1766.3,750.3 1767.0,752.6 1767.7,754.6 1768.4,751.6 1769.1,753.1 1769.8,753.6 1770.5,749.9 1771.2,752.5 1771.9,753.0 1772.6,752.3 1773.3,752.9 1774.0,752.0 1774.7,753.3 1775.4,752.0 1776.1,753.9 1776.8,751.4 1777.5,753.2 1778.2,753.7 1778.9,751.9 1779.6,752.6 1780.3,752.3 1781.0,755.1 1781.7,751.6 1782.4,755.1 1783.1,752.3 1783.8,751.3 1784.5,751.5 1785.2,752.3 1785.9,754.6 1786.6,751.7 1787.3,753.3 1788.0,752.8 1788.7,752.7 1789.4,752.8 1790.1,754.1 1790.8,752.6 1791.5,752.3 1792.2,755.0 1792.9,753.1 1793.6,754.7 1794.3,756.5 1795.0,754.7 1795.7,755.4 1796.4,754.7 1797.1,753.8 1797.8,753.6 1798.5,752.7 1799.2,756.1 1799.9,754.3 1800.6,755.1 1801.3,754.4 1802.0,754.3 1802.7,755.0 1803.4,754.5 1804.1,754.5 1804.8,755.7 1805.5,752.4 1806.2,756.4 1806.9,754.6 1807.6,754.6 1808.3,753.3 1809.0,753.2 1809.7,755.7 1810.4,754.8 1811.1,754.2 1811.8,753.9 1812.5,754.6 1813.2,755.2 1813.9,755.1 1814.6,753.5 1815.3,755.1 1816.0,753.9 1816.6,754.3 1817.3,754.3 1818.0,752.8 1818.7,754.5 1819.4,754.6 1820.1,755.5 1820.8,755.1 1821.5,755.0 1822.2,754.4 1822.9,754.9 1823.6,754.9 1824.3,753.4 1825.0,753.0 1825.7,755.1 1826.4,756.2 1827.1,754.8 1827.8,754.7 1828.5,756.2 1829.2,754.6 1829.9,755.4 1830.6,753.3 1831.3,754.6 1832.0,755.9 1832.7,753.9 1833.4,754.3 1834.1,753.4 1834.8,756.0 1835.5,755.7 1836.2,754.4 1836.9,755.5 1837.6,754.3 1838.3,754.4 1839.0,755.3 1839.7,755.5 1840.4,754.8 1841.1,753.9 1841.8,753.6 1842.5,753.0 1843.2,754.8 1843.9,755.2 1844.6,752.3 1845.3,755.3 1846.0,754.4 1846.7,753.0 1847.4,754.1 1848.1,754.5 1848.8,754.0 1849.5,752.5 1850.2,752.4 1850.9,752.8 1851.6,752.5 1852.3,752.7 1853.0,751.7 1853.7,753.8 1854.4,750.9 1855.1,751.9 1855.8,749.6 1856.5,751.6 1857.2,751.8 1857.9,750.5 1858.6,751.1 1859.3,750.0 1860.0,750.6 1860.7,749.1 1861.4,748.5 1862.1,752.0 1862.8,750.5 1863.5,749.9 1864.2,748.0 1864.9,748.4 1865.6,746.9 1866.2,746.8 1866.9,747.2 1867.6,746.8 1868.3,744.9 1869.0,745.6 1869.7,744.1 1870.4,747.4 1871.1,747.7 1871.8,743.4 1872.5,743.6 1873.2,742.4 1873.9,741.1 1874.6,743.2 1875.3,743.8 1876.0,741.7 1876.7,741.3 1877.4,741.3 1878.1,740.7 1878.8,739.6 1879.5,738.8 1880.2,738.9 1880.9,738.8 1881.6,736.4 1882.3,736.5 1883.0,736.7 1883.7,736.0 1884.4,738.0 1885.1,735.8 1885.8,734.9 1886.5,737.1 1887.2,734.4 1887.9,735.0 1888.6,732.9 1889.3,731.7 1890.0,732.1 1890.7,733.0 1891.4,732.4 1892.1,732.6 1892.8,730.5 1893.5,730.5 1894.2,729.6 1894.9,729.4 1895.6,729.3 1896.3,730.5 1897.0,729.7 1897.7,727.9 1898.4,730.6 1899.1,729.7 1899.8,729.1 1900.5,729.2 1901.2,727.5 1901.9,727.7 1902.6,730.6 1903.3,730.2 1904.0,730.8 1904.7,727.9 1905.4,728.2 1906.1,730.4 1906.8,728.4 1907.5,729.5 1908.2,730.0 1908.9,729.7 1909.6,731.3 1910.3,732.3 1911.0,729.7 1911.7,730.6 1912.4,732.3 1913.1,730.3 1913.8,730.3 1914.5,732.7 1915.2,731.6 1915.9,732.1 1916.5,731.8 1917.2,730.8 1917.9,730.3 1918.6,733.1 1919.3,730.3 1920.0,730.5 1920.7,730.3 1921.4,728.8 1922.1,730.9 1922.8,731.3 1923.5,730.2 1924.2,730.4 1924.9,732.9 1925.6,730.0 1926.3,730.5 1927.0,727.3 1927.7,730.8 1928.4,729.5 1929.1,727.2 1929.8,727.6 1930.5,726.6 1931.2,727.3 1931.9,727.2 1932.6,726.0 1933.3,725.7 1934.0,724.5 1934.7,726.2 1935.4,723.1 1936.1,725.5 1936.8,723.7 1937.5,723.3 1938.2,723.2 1938.9,726.0 1939.6,725.2 1940.3,722.6 1941.0,721.9 1941.7,723.9 1942.4,723.7 1943.1,723.9 1943.8,723.5 1944.5,725.0 1945.2,725.0 1945.9,723.0 1946.6,723.1 1947.3,724.4 1948.0,725.8 1948.7,726.1 1949.4,725.7 1950.1,727.0 1950.8,726.2 1951.5,728.9 1952.2,729.6 1952.9,727.7 1953.6,729.4 1954.3,729.4 1955.0,730.6 1955.7,731.8 1956.4,733.2 1957.1,733.4 1957.8,733.4 1958.5,736.7 1959.2,735.6 1959.9,736.4 1960.6,737.6 1961.3,738.3 1962.0,737.9 1962.7,737.1 1963.4,738.6 1964.1,739.1 1964.8,741.0 1965.5,740.5 1966.1,741.1 1966.8,742.9 1967.5,741.4 1968.2,742.7 1968.9,743.7 1969.6,745.7 1970.3,744.5 1971.0,746.0 1971.7,747.8 1972.4,745.9 1973.1,745.2 1973.8,746.6 1974.5,745.9 1975.2,746.7 1975.9,746.1 1976.6,747.1 1977.3,747.1 1978.0,749.0 1978.7,749.4 1979.4,750.0 1980.1,749.8 1980.8,749.1 1981.5,750.6 1982.2,750.2 1982.9,751.6 1983.6,752.1 1984.3,752.7 1985.0,751.9 1985.7,751.9 1986.4,751.7 1987.1,752.7 1987.8,750.7 1988.5,751.0 1989.2,750.9 1989.9,750.7 1990.6,753.5 1991.3,751.5 1992.0,751.8 1992.7,753.3 1993.4,751.1 1994.1,752.8 1994.8,752.2 1995.5,751.7 1996.2,753.3 1996.9,754.6 1997.6,752.7 1998.3,752.1 1999.0,752.3 1999.7,753.4 2000.4,753.0 2001.1,754.4 2001.8,753.1 2002.5,752.6 2003.2,753.6 2003.9,753.1 2004.6,754.5 2005.3,753.8 2006.0,753.9 2006.7,755.3 2007.4,752.3 2008.1,753.8 2008.8,753.8 2009.5,753.2 2010.2,754.6 2010.9,751.8 2011.6,752.8 2012.3,752.6 2013.0,753.5 2013.7,753.0 2014.4,752.6 2015.1,753.3 2015.8,753.0 2016.4,753.2 2017.1,752.4 2017.8,752.8 2018.5,751.8 2019.2,752.4 2019.9,753.7 2020.6,754.9 2021.3,752.5 2022.0,751.4 2022.7,755.3 2023.4,752.5 2024.1,753.4 2024.8,753.0 2025.5,753.6 2026.2,752.9 2026.9,752.7 2027.6,755.5 2028.3,750.4 2029.0,752.3 2029.7,754.0 2030.4,751.8 2031.1,755.2 2031.8,755.6 2032.5,752.5 2033.2,754.0 2033.9,752.4 2034.6,753.6 2035.3,753.4 2036.0,752.3 2036.7,753.2 2037.4,751.6 2038.1,752.2 2038.8,753.3 2039.5,754.2 2040.2,752.1 2040.9,751.8 2041.6,752.5 2042.3,752.7 2043.0,752.4 2043.7,753.1 2044.4,752.7 2045.1,752.4 2045.8,751.5 2046.5,751.8 2047.2,753.0 2047.9,752.1 2048.6,753.1 2049.3,752.7 2050.0,752.9 2050.7,751.7 2051.4,754.5 2052.1,754.5 2052.8,751.0 2053.5,749.6 2054.2,752.2 2054.9,752.6 2055.6,752.9 2056.3,752.5 2057.0,751.0 2057.7,752.0 2058.4,752.4 2059.1,751.2 2059.8,749.6 2060.5,752.5 2061.2,750.1 2061.9,749.9 2062.6,748.4 2063.3,749.1 2064.0,751.0 2064.7,749.3 2065.4,750.3 2066.0,748.6 2066.7,749.4 2067.4,749.5 2068.1,749.5 2068.8,747.9 2069.5,750.5 2070.2,747.6 2070.9,746.3 2071.6,748.1 2072.3,748.6 2073.0,747.2 2073.7,744.9 2074.4,745.3 2075.1,745.8 2075.8,746.2 2076.5,744.8 2077.2,745.8 2077.9,743.6 2078.6,746.1 2079.3,742.6 2080.0,743.0 2080.7,742.4 2081.4,742.1 2082.1,743.4 2082.8,740.7 2083.5,739.8 2084.2,738.7 2084.9,741.6 2085.6,739.7 2086.3,739.2 2087.0,740.2 2087.7,737.9 2088.4,736.2 2089.1,735.8 2089.8,735.8 2090.5,737.1 2091.2,735.3 2091.9,733.7 2092.6,734.2 2093.3,732.7 2094.0,732.8 2094.7,731.4 2095.4,731.3 2096.1,733.3 2096.8,730.3 2097.5,730.7 2098.2,730.5 2098.9,728.8 2099.6,730.5 2100.3,729.6 2101.0,725.5 2101.7,727.6 2102.4,724.0 2103.1,724.4 2103.8,724.6 2104.5,722.3 2105.2,721.9 2105.9,721.7 2106.6,721.5 2107.3,720.7 2108.0,718.8 2108.7,718.6 2109.4,717.2 2110.1,717.7 2110.8,715.0 2111.5,714.9 2112.2,714.2 2112.9,714.1 2113.6,714.1 2114.3,713.2 2115.0,712.7 2115.6,711.7 2116.3,711.9 2117.0,710.0 2117.7,711.1 2118.4,712.4 2119.1,710.6 2119.8,710.3 2120.5,710.8 2121.2,711.7 2121.9,712.7 2122.6,713.8 2123.3,713.7 2124.0,715.1 2124.7,715.9 2125.4,716.0 2126.1,715.3 2126.8,717.8 2127.5,718.7 2128.2,718.9 2128.9,721.2 2129.6,720.3 2130.3,721.8 2131.0,721.1 2131.7,722.7 2132.4,723.6 2133.1,723.8 2133.8,725.9 2134.5,725.3 2135.2,726.8 2135.9,727.5 2136.6,727.6 2137.3,727.3 2138.0,728.5 2138.7,729.7 2139.4,727.8 2140.1,727.9 2140.8,729.4 2141.5,730.5 2142.2,730.9 2142.9,731.6 2143.6,730.1 2144.3,732.1 2145.0,732.1 2145.7,727.5 2146.4,730.7 2147.1,732.2 2147.8,731.6 2148.5,734.3 2149.2,729.2 2149.9,732.5 2150.6,733.7 2151.3,734.0 2152.0,732.8 2152.7,735.5 2153.4,734.0 2154.1,735.8 2154.8,735.9 2155.5,736.2 2156.2,735.6 2156.9,737.6 2157.6,736.1 2158.3,738.1 2159.0,738.5 2159.7,739.1 2160.4,739.5 2161.1,741.4 2161.8,740.0 2162.5,742.6 2163.2,740.7 2163.9,740.6 2164.6,743.0 2165.3,742.9 2165.9,743.7 2166.6,744.8 2167.3,745.1 2168.0,744.0 2168.7,746.4 2169.4,747.8 2170.1,746.7 2170.8,744.1 2171.5,746.7 2172.2,746.7 2172.9,748.0 2173.6,746.9 2174.3,747.9 2175.0,748.4 2175.7,747.9 2176.4,749.0 2177.1,748.5 2177.8,749.8 2178.5,750.0 2179.2,750.4 2179.9,748.6 2180.6,748.6 2181.3,747.8 2182.0,751.5 2182.7,751.2 2183.4,752.3 2184.1,752.1 2184.8,750.4 2185.5,750.6 2186.2,751.5 2186.9,750.3 2187.6,751.7 2188.3,750.5 2189.0,750.5 2189.7,751.6 2190.4,753.4 2191.1,755.2 2191.8,752.7 2192.5,751.8 2193.2,751.3 2193.9,753.5 2194.6,754.6 2195.3,751.7 2196.0,754.2 2196.7,754.9 2197.4,753.6 2198.1,753.9 2198.8,753.5 2199.5,753.2 2200.2,754.5 2200.9,754.4 2201.6,754.4 2202.3,753.6 2203.0,753.8 2203.7,752.3 2204.4,754.1 2205.1,754.4 2205.8,754.6 2206.5,753.3 2207.2,751.6 2207.9,752.6 2208.6,754.2 2209.3,753.8 2210.0,753.8 2210.7,754.4 2211.4,753.8 2212.1,754.6 2212.8,752.0 2213.5,752.4 2214.2,754.7 2214.9,755.1 2215.5,754.6 2216.2,754.6 2216.9,753.9 2217.6,753.5 2218.3,753.9 2219.0,755.2 2219.7,755.0 2220.4,752.9 2221.1,755.1 2221.8,752.7 2222.5,754.3 2223.2,756.7 2223.9,756.5 2224.6,755.1 2225.3,755.3 2226.0,755.7 2226.7,756.1 2227.4,754.7 2228.1,755.5 2228.8,755.0 2229.5,755.1 2230.2,753.4 2230.9,754.7 2231.6,754.4 2232.3,755.1 2233.0,755.0 2233.7,756.4 2234.4,754.9 2235.1,754.1 2235.8,754.0 2236.5,756.3 2237.2,756.7 2237.9,755.5 2238.6,755.3 2239.3,755.0 2240.0,756.5 2240.7,754.2 2241.4,755.8 2242.1,755.2 2242.8,755.6 2243.5,756.1 2244.2,755.8 2244.9,756.0 2245.6,754.7 2246.3,754.8 2247.0,755.6 2247.7,758.1 2248.4,754.4 2249.1,755.8 2249.8,755.2 2250.5,754.4 2251.2,753.2 2251.9,755.5 2252.6,756.9 2253.3,753.7 2254.0,753.7 2254.7,757.0 2255.4,755.2 2256.1,756.1 2256.8,756.3 2257.5,754.7 2258.2,755.0 2258.9,754.3 2259.6,753.1 2260.3,755.5 2261.0,754.5 2261.7,757.4 2262.4,753.4 2263.1,755.7 2263.8,754.9 2264.5,755.6 2265.2,754.0 2265.8,755.2 2266.5,756.7 2267.2,754.0 2267.9,757.4 2268.6,756.2 2269.3,754.5 2270.0,755.2 2270.7,753.8 2271.4,755.3 2272.1,753.9 2272.8,755.2 2273.5,755.9 2274.2,755.9 2274.9,755.0 2275.6,754.7 2276.3,754.7 2277.0,754.1 2277.7,755.3 2278.4,755.2 2279.1,756.7 2279.8,755.6 2280.5,754.6 2281.2,757.4 2281.9,756.7 2282.6,756.3 2283.3,752.8 2284.0,755.2 2284.7,755.5 2285.4,756.3 2286.1,755.1 2286.8,757.2 2287.5,754.7" fill="none" stroke="#0000ff" stroke-width="7" stroke-linejoin="round" stroke-linecap="butt" shape-rendering="crispEdges"/>
<line x1="1878" y1="165.5" x2="2077" y2="165.5" stroke="#808000" stroke-width="7" shape-rendering="crispEdges"/>
<line x1="1878" y1="274.3" x2="2077" y2="274.3" stroke="#ff0000" stroke-width="7" shape-rendering="crispEdges"/>
<line x1="1878" y1="383.4" x2="2077" y2="383.4" stroke="#0000ff" stroke-width="7" shape-rendering="crispEdges"/>
<g font-family="'Liberation Sans', Arial, Helvetica, sans-serif" fill="#000">
<text transform="translate(2101.0,195.8) scale(1,1.04)" font-size="88.5">S1</text>
<text transform="translate(2101.0,304.7) scale(1,1.04)" font-size="88.5">S2</text>
<text transform="translate(2101.0,413.6) scale(1,1.04)" font-size="88.5">S3</text>
<text transform="translate(194.5,1752.8) scale(1,1.04)" font-size="88.5" text-anchor="middle">20</text>
<text transform="translate(543.8,1752.8) scale(1,1.04)" font-size="88.5" text-anchor="middle">30</text>
<text transform="translate(893.1,1752.8) scale(1,1.04)" font-size="88.5" text-anchor="middle">40</text>
<text transform="translate(1242.4,1752.8) scale(1,1.04)" font-size="88.5" text-anchor="middle">50</text>
<text transform="translate(1591.7,1752.8) scale(1,1.04)" font-size="88.5" text-anchor="middle">60</text>
<text transform="translate(1941.0,1752.8) scale(1,1.04)" font-size="88.5" text-anchor="middle">70</text>
<text transform="translate(2290.3,1752.8) scale(1,1.04)" font-size="88.5" text-anchor="middle">80</text>
<text transform="translate(327.9,141.0) scale(1,1.04)" font-size="55" letter-spacing="1.2">101</text>
<text transform="translate(703.5,1460.5) scale(1,1.04)" font-size="55" letter-spacing="1.2">103</text>
<text transform="translate(776.8,1372.5) scale(1,1.04)" font-size="55" letter-spacing="1.2">004</text>
<text transform="translate(843.6,1454.8) scale(1,1.04)" font-size="55" letter-spacing="1.2">112</text>
<text transform="translate(1127.2,1283.0) scale(1,1.04)" font-size="55" letter-spacing="1.2">200</text>
<text transform="translate(1300.6,1392.5) scale(1,1.04)" font-size="55" letter-spacing="1.2">105</text>
<text transform="translate(1424.2,1390.8) scale(1,1.04)" font-size="55" letter-spacing="1.2">211</text>
<text transform="translate(1580.3,1473.8) scale(1,1.04)" font-size="55" letter-spacing="1.2">213</text>
<text transform="translate(1684.1,1430.7) scale(1,1.04)" font-size="55" letter-spacing="1.2">204</text>
<text transform="translate(1819.5,1494.5) scale(1,1.04)" font-size="55" letter-spacing="1.2">116</text>
<text transform="translate(1945.2,1484.5) scale(1,1.04)" font-size="55" letter-spacing="1.2">220</text>
<text transform="translate(2002.5,1297.0) scale(1,1.04)" font-size="55" letter-spacing="1.2">107</text>
<text transform="translate(2041.7,1190.5) scale(1,1.04)" font-size="55" letter-spacing="1.2">215</text>
<text transform="translate(2149.3,1121.1) scale(1,1.04)" font-size="55" letter-spacing="1.2">301</text>
<text transform="translate(973.7,1853.1) scale(1,1.04)" font-size="101.5">2</text>
<text transform="translate(1058.4,1853.1) scale(1,0.894)" font-size="102.6" font-family="'Liberation Serif', 'Times New Roman', serif">θ</text>
<text transform="translate(1136.0,1853.1) scale(1,1)" font-size="101.5">(degrees)</text>
<text transform="translate(109.1,1101.4) rotate(-90) scale(1,1)" font-size="101.5">Intensity (a.u.)</text>
</g>
</svg>
</body></html>
